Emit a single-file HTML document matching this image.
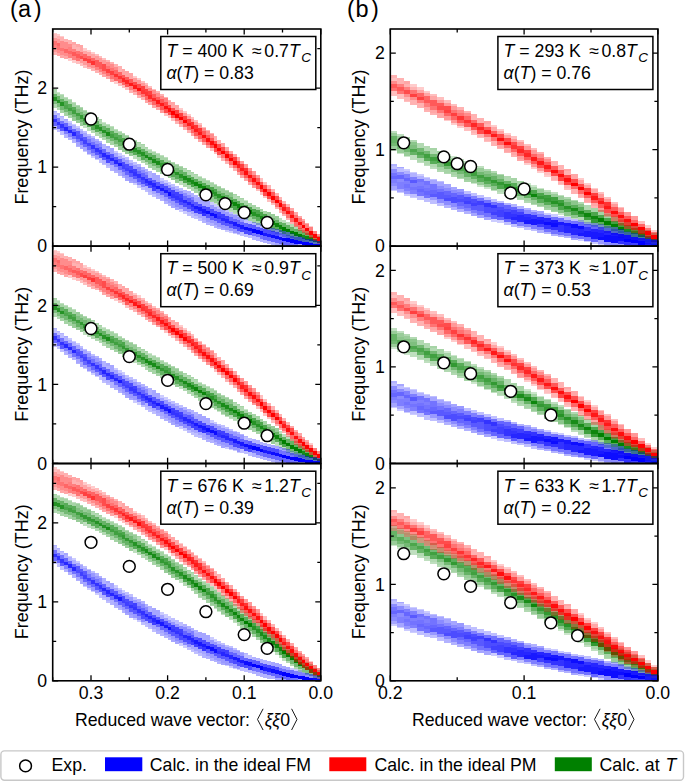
<!DOCTYPE html><html><head><meta charset="utf-8"><style>html,body{margin:0;padding:0;background:#fff;overflow:hidden}svg{display:block}text{font-family:"Liberation Sans",sans-serif}</style></head><body><svg width="685" height="782" viewBox="0 0 685 782"><rect width="685" height="782" fill="#fff"/><filter id="bl" x="-5%" y="-5%" width="110%" height="110%"><feGaussianBlur stdDeviation="0.6"/></filter><clipPath id="ca0"><rect x="52.7" y="29.0" width="268.1" height="217.1"/></clipPath><clipPath id="ca1"><rect x="52.7" y="246.2" width="268.1" height="217.1"/></clipPath><clipPath id="ca2"><rect x="52.7" y="463.7" width="268.1" height="217.1"/></clipPath><clipPath id="cb0"><rect x="390.3" y="29.0" width="267.6" height="217.1"/></clipPath><clipPath id="cb1"><rect x="390.3" y="246.2" width="267.6" height="217.1"/></clipPath><clipPath id="cb2"><rect x="390.3" y="463.7" width="267.6" height="217.1"/></clipPath><g clip-path="url(#ca0)"><g shape-rendering="crispEdges" filter="url(#bl)"><path fill="#008000" fill-opacity="0.2" d="M244 200h4v1h-4zM217 205h4v1h-4zM214 203h3v1h-3zM198 176h4v1h-4zM152 151h4v1h-4zM148 149h4v1h-4zM102 122h4v1h-4zM57 92h3v1h-3z"/><path fill="#008000" fill-opacity="0.25" d="M286 222h4v3h-4zM282 234h4v3h-4zM282 220h4v3h-4zM279 232h3v3h-3zM279 218h3v4h-3zM275 230h4v4h-4zM233 213h4v1h-4zM229 211h4v1h-4zM225 209h4v1h-4zM221 207h4v1h-4zM214 184h3v1h-3zM210 182h4v1h-4zM206 180h4v1h-4zM202 178h4v1h-4zM179 181h4v4h-4zM168 160h3v1h-3zM164 157h4v1h-4zM160 155h4v1h-4zM156 153h4v1h-4zM133 155h4v4h-4zM118 131h4v1h-4zM114 129h4v1h-4zM110 126h4v1h-4zM106 124h4v1h-4zM87 127h4v4h-4zM83 125h4v3h-4zM72 102h4v1h-4zM68 99h4v1h-4zM64 97h4v1h-4zM60 94h4v1h-4z"/><path fill="#008000" fill-opacity="0.3" d="M309 233h4v1h-4zM305 243h4v2h-4zM305 231h4v2h-4zM302 242h3v2h-3zM302 230h3v2h-3zM298 241h4v2h-4zM298 228h4v2h-4zM294 240h4v2h-4zM294 226h4v3h-4zM290 238h4v2h-4zM290 224h4v3h-4zM286 236h4v3h-4zM244 219h4v1h-4zM240 217h4v1h-4zM240 199h4v4h-4zM237 215h3v1h-3zM237 212h3v3h-3zM237 197h3v4h-3zM233 210h4v3h-4zM233 195h4v4h-4zM229 208h4v3h-4zM229 192h4v1h-4zM225 190h4v1h-4zM221 188h4v1h-4zM217 186h4v1h-4zM198 195h4v1h-4zM194 175h4v4h-4zM191 187h3v4h-3zM191 173h3v4h-3zM187 185h4v4h-4zM187 171h4v4h-4zM183 183h4v4h-4zM183 169h4v3h-4zM179 166h4v1h-4zM175 164h4v1h-4zM171 162h4v1h-4zM148 150h4v3h-4zM145 162h3v3h-3zM145 148h3v3h-3zM141 160h4v3h-4zM141 145h4v4h-4zM137 157h4v4h-4zM137 143h4v4h-4zM133 140h4v1h-4zM129 138h4v1h-4zM125 135h4v1h-4zM122 133h3v1h-3zM102 137h4v3h-4zM102 123h4v3h-4zM99 134h3v4h-3zM99 120h3v4h-3zM95 132h4v4h-4zM95 118h4v3h-4zM91 130h4v3h-4zM91 116h4v3h-4zM87 112h4v1h-4zM83 110h4v1h-4zM80 107h3v1h-3zM76 105h4v1h-4zM57 107h3v3h-3zM57 93h3v3h-3zM53 104h4v4h-4zM53 90h4v4h-4z"/><path fill="#008000" fill-opacity="0.35" d="M317 236h4v4h-4zM263 211h4v3h-4zM260 209h3v3h-3zM256 221h4v4h-4zM256 207h4v3h-4zM252 219h4v4h-4zM252 205h4v4h-4zM248 217h4v4h-4zM248 203h4v4h-4zM244 215h4v4h-4zM244 201h4v4h-4zM240 214h4v3h-4zM240 198h4v1h-4zM237 196h3v1h-3zM233 194h4v1h-4zM210 201h4v1h-4zM210 183h4v4h-4zM206 199h4v1h-4zM206 195h4v4h-4zM206 181h4v4h-4zM202 197h4v1h-4zM202 193h4v4h-4zM202 179h4v4h-4zM198 191h4v4h-4zM198 177h4v4h-4zM194 189h4v4h-4zM194 174h4v1h-4zM191 172h3v1h-3zM187 170h4v1h-4zM183 168h4v1h-4zM164 158h4v4h-4zM160 171h4v3h-4zM160 156h4v4h-4zM156 168h4v4h-4zM156 154h4v4h-4zM152 166h4v4h-4zM152 152h4v3h-4zM148 164h4v4h-4zM145 147h3v1h-3zM141 144h4v1h-4zM137 142h4v1h-4zM118 132h4v3h-4zM114 144h4v3h-4zM114 130h4v3h-4zM110 141h4v4h-4zM110 127h4v4h-4zM106 139h4v4h-4zM106 125h4v3h-4zM99 119h3v1h-3zM95 117h4v1h-4zM91 115h4v1h-4zM72 103h4v4h-4zM68 115h4v3h-4zM68 100h4v4h-4zM64 112h4v4h-4zM64 98h4v3h-4zM60 110h4v3h-4zM60 95h4v4h-4zM53 89h4v1h-4z"/><path fill="#008000" fill-opacity="0.4" d="M317 243h4v3h-4zM313 235h4v4h-4zM275 216h4v4h-4zM271 229h4v3h-4zM271 214h4v4h-4zM267 227h4v3h-4zM267 212h4v4h-4zM263 225h4v3h-4zM260 223h3v3h-3zM225 191h4v4h-4zM221 204h4v3h-4zM221 189h4v4h-4zM217 201h4v4h-4zM217 187h4v4h-4zM214 199h3v4h-3zM214 185h3v4h-3zM210 197h4v4h-4zM179 167h4v3h-4zM175 179h4v4h-4zM175 165h4v3h-4zM171 177h4v3h-4zM171 163h4v3h-4zM168 175h3v3h-3zM168 161h3v3h-3zM164 173h4v3h-4zM133 141h4v3h-4zM129 153h4v3h-4zM129 139h4v3h-4zM125 151h4v3h-4zM125 136h4v4h-4zM122 148h3v4h-3zM122 134h3v4h-3zM118 146h4v4h-4zM83 111h4v3h-4zM80 122h3v4h-3zM80 108h3v4h-3zM76 120h4v3h-4zM76 106h4v3h-4zM72 117h4v4h-4z"/><path fill="#008000" fill-opacity="0.45" d="M313 242h4v4h-4zM309 241h4v4h-4zM229 193h4v4h-4zM225 206h4v3h-4zM87 113h4v4h-4z"/><path fill="#008000" fill-opacity="0.5" d="M305 240h4v3h-4zM302 239h3v3h-3zM99 131h3v3h-3zM76 109h4v4h-4zM57 103h3v4h-3zM53 101h4v3h-4z"/><path fill="#008000" fill-opacity="0.55" d="M309 234h4v3h-4zM298 237h4v4h-4zM294 236h4v4h-4zM290 234h4v4h-4zM286 232h4v4h-4zM271 218h4v3h-4zM267 216h4v4h-4zM217 191h4v3h-4zM194 186h4v3h-4zM175 168h4v4h-4zM171 166h4v4h-4zM156 165h4v3h-4zM152 163h4v3h-4zM148 160h4v4h-4zM145 158h3v4h-3zM133 144h4v4h-4zM129 142h4v4h-4zM125 140h4v3h-4zM114 140h4v4h-4zM110 138h4v3h-4zM106 136h4v3h-4zM102 133h4v4h-4zM91 119h4v4h-4zM87 117h4v3h-4zM83 114h4v4h-4zM80 112h3v3h-3zM72 114h4v3h-4zM68 111h4v4h-4zM64 109h4v3h-4zM60 106h4v4h-4z"/><path fill="#008000" fill-opacity="0.6" d="M305 233h4v3h-4zM302 232h3v3h-3zM298 230h4v4h-4zM294 229h4v3h-4zM290 227h4v4h-4zM286 225h4v4h-4zM282 223h4v4h-4zM279 222h3v3h-3zM275 220h4v3h-4zM252 216h4v3h-4zM248 214h4v3h-4zM244 212h4v3h-4zM240 210h4v4h-4zM229 197h4v3h-4zM225 195h4v3h-4zM221 193h4v3h-4zM206 192h4v3h-4zM202 190h4v3h-4zM198 188h4v3h-4zM187 175h4v3h-4zM183 172h4v4h-4zM179 170h4v4h-4zM168 171h3v4h-3zM164 169h4v4h-4zM160 167h4v4h-4zM148 153h4v4h-4zM145 151h3v4h-3zM141 149h4v3h-4zM137 147h4v3h-4zM125 147h4v4h-4zM122 145h3v3h-3zM118 142h4v4h-4zM102 126h4v4h-4zM99 124h3v3h-3zM95 121h4v4h-4zM83 121h4v4h-4zM80 119h3v3h-3zM76 116h4v4h-4zM60 99h4v3h-4zM57 96h3v4h-3zM53 94h4v3h-4z"/><path fill="#008000" fill-opacity="0.65" d="M275 227h4v3h-4zM271 225h4v4h-4zM267 223h4v4h-4zM263 221h4v4h-4zM260 219h3v4h-3zM256 217h4v4h-4zM244 205h4v3h-4zM240 203h4v3h-4zM237 201h3v3h-3zM233 199h4v3h-4zM221 200h4v4h-4zM217 198h4v3h-4zM214 196h3v3h-3zM210 194h4v3h-4zM202 183h4v3h-4zM198 181h4v3h-4zM194 179h4v3h-4zM191 177h3v3h-3zM179 178h4v3h-4zM175 175h4v4h-4zM171 173h4v4h-4zM160 160h4v3h-4zM156 158h4v3h-4zM152 155h4v4h-4zM141 156h4v4h-4zM137 154h4v3h-4zM133 152h4v3h-4zM129 149h4v4h-4zM118 135h4v4h-4zM114 133h4v4h-4zM110 131h4v3h-4zM106 128h4v4h-4zM95 129h4v3h-4zM91 126h4v4h-4zM87 124h4v3h-4zM72 107h4v3h-4zM68 104h4v4h-4zM64 101h4v4h-4z"/><path fill="#008000" fill-opacity="0.7" d="M282 231h4v3h-4zM279 229h3v3h-3zM263 214h4v4h-4zM260 212h3v4h-3zM256 210h4v4h-4zM252 209h4v3h-4zM248 207h4v3h-4zM233 206h4v4h-4zM229 204h4v4h-4zM225 202h4v4h-4zM214 189h3v3h-3zM210 187h4v3h-4zM206 185h4v3h-4zM191 184h3v3h-3zM187 182h4v3h-4zM183 180h4v3h-4zM168 164h3v4h-3zM164 162h4v4h-4zM122 138h3v3h-3zM64 105h4v4h-4z"/><path fill="#008000" fill-opacity="0.75" d="M237 208h3v4h-3zM118 139h4v3h-4zM114 137h4v3h-4zM110 134h4v4h-4zM76 113h4v3h-4zM72 110h4v4h-4zM68 108h4v3h-4z"/><path fill="#008000" fill-opacity="0.8" d="M206 188h4v4h-4zM168 168h3v3h-3zM164 166h4v3h-4zM160 163h4v4h-4zM129 146h4v3h-4zM125 143h4v4h-4zM122 141h3v4h-3zM91 123h4v3h-4zM87 120h4v4h-4zM83 118h4v3h-4zM80 115h3v4h-3z"/><path fill="#008000" fill-opacity="0.85" d="M256 214h4v3h-4zM252 212h4v4h-4zM217 194h4v4h-4zM214 192h3v4h-3zM210 190h4v4h-4zM179 174h4v4h-4zM175 172h4v3h-4zM171 170h4v3h-4zM141 152h4v4h-4zM137 150h4v4h-4zM133 148h4v4h-4zM102 130h4v3h-4zM99 127h3v4h-3zM95 125h4v4h-4zM60 102h4v4h-4zM57 100h3v3h-3zM53 97h4v4h-4z"/><path fill="#008000" fill-opacity="0.9" d="M302 235h3v4h-3zM267 220h4v3h-4zM263 218h4v3h-4zM260 216h3v3h-3zM229 200h4v4h-4zM225 198h4v4h-4zM221 196h4v4h-4zM191 180h3v4h-3zM187 178h4v4h-4zM183 176h4v4h-4zM156 161h4v4h-4zM152 159h4v4h-4zM148 157h4v3h-4zM145 155h3v3h-3zM106 132h4v4h-4z"/><path fill="#008000" fill-opacity="0.95" d="M313 239h4v3h-4zM309 237h4v4h-4zM305 236h4v4h-4zM279 225h3v4h-3zM275 223h4v4h-4zM271 221h4v4h-4zM240 206h4v4h-4zM237 204h3v4h-3zM233 202h4v4h-4zM202 186h4v4h-4zM198 184h4v4h-4zM194 182h4v4h-4z"/><path fill="#008000" fill-opacity="1" d="M317 240h4v3h-4zM298 234h4v3h-4zM294 232h4v4h-4zM290 231h4v3h-4zM286 229h4v3h-4zM282 227h4v4h-4zM248 210h4v4h-4zM244 208h4v4h-4z"/><path fill="#f00" fill-opacity="0.2" d="M309 226h4v1h-4zM187 114h4v2h-4zM183 111h4v2h-4zM179 108h4v2h-4zM137 78h4v2h-4zM133 76h4v2h-4zM114 81h4v3h-4zM91 52h4v2h-4zM87 50h4v2h-4zM83 48h4v3h-4zM72 60h4v3h-4zM68 58h4v3h-4zM60 36h4v1h-4zM57 34h3v2h-3zM53 33h4v1h-4z"/><path fill="#f00" fill-opacity="0.25" d="M271 203h4v2h-4zM267 199h4v3h-4zM263 196h4v2h-4zM263 182h4v3h-4zM260 192h3v3h-3zM260 178h3v4h-3zM256 189h4v2h-4zM217 155h4v3h-4zM214 152h3v2h-3zM210 148h4v3h-4zM202 127h4v1h-4zM198 123h4v2h-4zM194 120h4v2h-4zM191 117h3v2h-3zM171 118h4v3h-4zM168 115h3v3h-3zM164 113h4v3h-4zM152 89h4v1h-4zM148 86h4v2h-4zM145 83h3v2h-3zM141 81h4v2h-4zM125 87h4v3h-4zM122 85h3v3h-3zM118 83h4v3h-4zM102 58h4v2h-4zM99 56h3v2h-3zM95 54h4v2h-4zM83 65h4v3h-4zM80 63h3v3h-3zM76 61h4v3h-4zM53 34h4v4h-4z"/><path fill="#f00" fill-opacity="0.3" d="M317 241h4v3h-4zM290 222h4v2h-4zM286 218h4v2h-4zM286 204h4v3h-4zM282 214h4v2h-4zM282 201h4v3h-4zM279 210h3v3h-3zM279 197h3v3h-3zM275 207h4v2h-4zM275 193h4v3h-4zM271 189h4v3h-4zM267 185h4v4h-4zM233 168h4v3h-4zM229 165h4v3h-4zM225 161h4v3h-4zM221 158h4v3h-4zM217 141h4v3h-4zM217 140h4v1h-4zM214 137h3v4h-3zM214 136h3v1h-3zM210 133h4v1h-4zM206 130h4v1h-4zM187 130h4v3h-4zM183 127h4v3h-4zM179 124h4v3h-4zM175 121h4v3h-4zM168 100h3v1h-3zM164 97h4v1h-4zM160 94h4v2h-4zM156 91h4v2h-4zM141 97h4v3h-4zM137 95h4v3h-4zM133 92h4v3h-4zM129 90h4v3h-4zM118 69h4v3h-4zM118 66h4v3h-4zM114 64h4v3h-4zM110 62h4v2h-4zM106 60h4v2h-4zM99 72h3v3h-3zM95 70h4v3h-4zM91 68h4v3h-4zM87 67h4v2h-4zM76 47h4v4h-4zM72 45h4v4h-4zM68 40h4v4h-4zM64 39h4v3h-4zM60 37h4v4h-4zM57 36h3v3h-3zM53 52h4v3h-4z"/><path fill="#f00" fill-opacity="0.35" d="M305 223h4v1h-4zM302 232h3v1h-3zM302 219h3v2h-3zM298 229h4v2h-4zM298 216h4v2h-4zM294 226h4v1h-4zM294 212h4v3h-4zM290 208h4v3h-4zM248 182h4v3h-4zM244 178h4v3h-4zM240 175h4v3h-4zM237 172h3v3h-3zM237 157h3v4h-3zM233 154h4v3h-4zM229 151h4v3h-4zM225 147h4v4h-4zM221 144h4v3h-4zM221 143h4v1h-4zM202 142h4v3h-4zM198 139h4v3h-4zM194 136h4v3h-4zM191 133h3v3h-3zM179 110h4v3h-4zM175 107h4v3h-4zM175 105h4v2h-4zM171 104h4v4h-4zM171 102h4v2h-4zM168 101h3v4h-3zM156 107h4v3h-4zM152 105h4v3h-4zM148 102h4v3h-4zM145 100h3v3h-3zM129 76h4v3h-4zM129 73h4v3h-4zM125 73h4v4h-4zM125 71h4v2h-4zM122 71h3v4h-3zM122 69h3v2h-3zM110 79h4v3h-4zM106 76h4v3h-4zM102 74h4v3h-4zM91 54h4v4h-4zM87 52h4v4h-4zM83 51h4v3h-4zM80 49h3v3h-3zM80 45h3v4h-3zM76 44h4v3h-4zM72 42h4v3h-4zM64 56h4v3h-4zM60 55h4v3h-4zM57 53h3v3h-3z"/><path fill="#f00" fill-opacity="0.4" d="M256 175h4v3h-4zM252 185h4v3h-4zM252 171h4v4h-4zM248 168h4v3h-4zM244 164h4v4h-4zM240 161h4v3h-4zM206 145h4v3h-4zM198 125h4v3h-4zM194 122h4v3h-4zM191 119h3v3h-3zM187 116h4v3h-4zM183 113h4v3h-4zM160 110h4v3h-4zM145 85h3v4h-3zM141 83h4v3h-4zM137 80h4v4h-4zM133 78h4v4h-4zM102 60h4v4h-4zM99 58h3v4h-3zM95 56h4v4h-4zM83 61h4v4h-4zM80 59h3v4h-3zM57 39h3v4h-3zM53 48h4v4h-4zM53 38h4v3h-4z"/><path fill="#f00" fill-opacity="0.45" d="M317 234h4v3h-4zM210 134h4v4h-4zM206 131h4v4h-4zM202 128h4v3h-4zM160 96h4v3h-4zM156 93h4v4h-4zM152 90h4v4h-4zM148 88h4v3h-4zM114 67h4v3h-4zM110 64h4v4h-4zM106 62h4v4h-4zM91 65h4v3h-4zM87 63h4v4h-4zM68 44h4v3h-4zM64 53h4v3h-4zM64 46h4v3h-4zM64 42h4v4h-4zM60 51h4v4h-4zM60 44h4v4h-4zM60 41h4v3h-4zM57 50h3v3h-3z"/><path fill="#f00" fill-opacity="0.5" d="M313 238h4v3h-4zM313 231h4v3h-4zM309 235h4v3h-4zM309 227h4v4h-4zM305 224h4v4h-4zM164 98h4v4h-4zM133 89h4v3h-4zM129 86h4v4h-4zM102 71h4v3h-4zM99 69h3v3h-3zM95 67h4v3h-4zM72 56h4v4h-4zM72 49h4v3h-4zM68 54h4v4h-4zM68 47h4v4h-4zM53 45h4v3h-4z"/><path fill="#f00" fill-opacity="0.55" d="M305 231h4v4h-4zM302 228h3v4h-3zM302 221h3v4h-3zM298 218h4v4h-4zM294 215h4v3h-4zM286 214h4v4h-4zM282 211h4v3h-4zM279 207h3v3h-3zM275 203h4v4h-4zM271 200h4v3h-4zM221 154h4v4h-4zM179 120h4v4h-4zM175 118h4v3h-4zM141 94h4v3h-4zM137 91h4v4h-4zM110 75h4v4h-4zM110 68h4v3h-4zM106 73h4v3h-4zM106 66h4v3h-4zM80 52h3v4h-3zM76 58h4v3h-4zM76 51h4v3h-4zM60 48h4v3h-4zM57 46h3v4h-3zM53 41h4v4h-4z"/><path fill="#f00" fill-opacity="0.6" d="M298 225h4v4h-4zM294 222h4v4h-4zM290 218h4v4h-4zM248 171h4v4h-4zM237 168h3v4h-3zM233 165h4v3h-4zM229 161h4v4h-4zM225 158h4v3h-4zM191 129h3v4h-3zM187 126h4v4h-4zM183 123h4v4h-4zM152 101h4v4h-4zM148 99h4v3h-4zM145 96h3v4h-3zM122 82h3v3h-3zM118 79h4v4h-4zM118 72h4v4h-4zM114 77h4v4h-4zM114 70h4v4h-4zM91 58h4v3h-4zM87 56h4v3h-4zM83 54h4v4h-4zM68 51h4v3h-4zM64 49h4v4h-4zM57 43h3v3h-3z"/><path fill="#f00" fill-opacity="0.65" d="M271 192h4v4h-4zM267 189h4v3h-4zM263 185h4v4h-4zM260 182h3v3h-3zM256 185h4v4h-4zM256 178h4v4h-4zM252 182h4v3h-4zM252 175h4v3h-4zM248 178h4v4h-4zM244 175h4v3h-4zM240 171h4v4h-4zM210 138h4v3h-4zM206 142h4v3h-4zM206 135h4v3h-4zM202 138h4v4h-4zM202 131h4v4h-4zM198 135h4v4h-4zM194 132h4v4h-4zM160 106h4v4h-4zM160 99h4v4h-4zM156 104h4v3h-4zM156 97h4v3h-4zM152 94h4v4h-4zM129 79h4v4h-4zM125 84h4v3h-4zM125 77h4v3h-4zM122 75h3v3h-3zM99 65h3v4h-3zM99 62h3v3h-3zM95 63h4v4h-4zM95 60h4v3h-4zM76 54h4v4h-4zM72 52h4v4h-4z"/><path fill="#f00" fill-opacity="0.7" d="M290 211h4v4h-4zM286 207h4v4h-4zM282 204h4v3h-4zM279 200h3v3h-3zM275 196h4v4h-4zM267 196h4v3h-4zM263 192h4v4h-4zM260 189h3v3h-3zM225 151h4v3h-4zM221 147h4v4h-4zM217 151h4v4h-4zM217 144h4v4h-4zM214 148h3v4h-3zM214 141h3v3h-3zM210 145h4v3h-4zM171 115h4v3h-4zM171 108h4v3h-4zM168 112h3v3h-3zM168 105h3v3h-3zM164 109h4v4h-4zM164 102h4v4h-4zM137 84h4v4h-4zM133 82h4v3h-4zM102 67h4v4h-4zM102 64h4v3h-4zM80 56h3v3h-3z"/><path fill="#f00" fill-opacity="0.75" d="M240 164h4v4h-4zM237 161h3v3h-3zM233 157h4v4h-4zM229 154h4v4h-4zM187 119h4v4h-4zM183 116h4v4h-4zM179 113h4v4h-4zM175 110h4v4h-4zM148 91h4v4h-4zM145 89h3v3h-3zM141 86h4v4h-4zM110 71h4v4h-4zM106 69h4v4h-4zM87 59h4v4h-4zM83 58h4v3h-4z"/><path fill="#f00" fill-opacity="0.8" d="M244 168h4v3h-4zM198 128h4v4h-4zM194 125h4v4h-4zM191 122h3v4h-3zM145 92h3v4h-3zM141 90h4v4h-4zM118 76h4v3h-4zM114 74h4v3h-4zM91 61h4v4h-4z"/><path fill="#f00" fill-opacity="0.85" d="M152 98h4v3h-4zM148 95h4v4h-4zM125 80h4v4h-4zM122 78h3v4h-3z"/><path fill="#f00" fill-opacity="0.9" d="M282 207h4v4h-4zM240 168h4v3h-4zM237 164h3v4h-3zM198 132h4v3h-4zM194 129h4v3h-4zM191 126h3v3h-3zM187 123h4v3h-4zM160 103h4v3h-4zM156 100h4v4h-4zM133 85h4v4h-4zM129 83h4v3h-4z"/><path fill="#f00" fill-opacity="0.95" d="M298 222h4v3h-4zM294 218h4v4h-4zM290 215h4v3h-4zM286 211h4v3h-4zM256 182h4v3h-4zM252 178h4v4h-4zM248 175h4v3h-4zM244 171h4v4h-4zM210 141h4v4h-4zM206 138h4v4h-4zM202 135h4v3h-4zM168 108h3v4h-3zM164 106h4v3h-4zM137 88h4v3h-4z"/><path fill="#f00" fill-opacity="1" d="M317 237h4v4h-4zM313 234h4v4h-4zM309 231h4v4h-4zM305 228h4v3h-4zM302 225h3v3h-3zM279 203h3v4h-3zM275 200h4v3h-4zM271 196h4v4h-4zM267 192h4v4h-4zM263 189h4v3h-4zM260 185h3v4h-3zM233 161h4v4h-4zM229 158h4v3h-4zM225 154h4v4h-4zM221 151h4v3h-4zM217 148h4v3h-4zM214 144h3v4h-3zM183 120h4v3h-4zM179 117h4v3h-4zM175 114h4v4h-4zM171 111h4v4h-4z"/><path fill="#00f" fill-opacity="0.2" d="M302 237h3v1h-3zM298 236h4v1h-4zM294 235h4v2h-4zM290 233h4v3h-4zM237 234h3v1h-3zM233 233h4v1h-4zM229 231h4v2h-4zM225 230h4v2h-4zM214 204h3v3h-3zM210 202h4v3h-4zM183 211h4v3h-4zM179 209h4v3h-4zM168 182h3v3h-3zM164 180h4v3h-4zM160 178h4v3h-4zM137 185h4v3h-4zM133 183h4v2h-4zM122 155h3v3h-3zM118 153h4v3h-4zM114 151h4v2h-4zM95 159h4v1h-4zM91 156h4v2h-4zM87 154h4v1h-4zM83 151h4v1h-4zM76 126h4v2h-4zM72 124h4v1h-4zM68 121h4v2h-4z"/><path fill="#00f" fill-opacity="0.25" d="M248 235h4v3h-4zM248 221h4v3h-4zM244 234h4v3h-4zM244 219h4v4h-4zM240 232h4v4h-4zM233 214h4v1h-4zM229 212h4v2h-4zM225 210h4v2h-4zM221 208h4v2h-4zM217 206h4v3h-4zM198 218h4v3h-4zM194 216h4v3h-4zM191 214h3v4h-3zM187 212h4v4h-4zM179 188h4v3h-4zM175 186h4v3h-4zM171 184h4v3h-4zM152 194h4v3h-4zM148 192h4v3h-4zM145 190h3v2h-3zM141 187h4v3h-4zM133 162h4v3h-4zM129 160h4v3h-4zM125 157h4v3h-4zM106 166h4v2h-4zM102 164h4v1h-4zM99 161h3v2h-3zM99 158h3v3h-3zM91 136h4v2h-4zM87 134h4v2h-4zM83 131h4v2h-4zM80 129h3v2h-3zM60 131h4v4h-4zM60 117h4v4h-4zM57 129h3v3h-3zM57 115h3v3h-3zM53 126h4v4h-4zM53 112h4v3h-4z"/><path fill="#00f" fill-opacity="0.3" d="M271 242h4v3h-4zM267 241h4v3h-4zM267 227h4v3h-4zM263 240h4v3h-4zM263 225h4v4h-4zM260 239h3v3h-3zM260 224h3v4h-3zM256 237h4v4h-4zM256 223h4v4h-4zM252 236h4v4h-4zM252 222h4v3h-4zM244 218h4v1h-4zM240 217h4v1h-4zM237 215h3v2h-3zM217 227h4v2h-4zM214 225h3v3h-3zM210 223h4v3h-4zM206 222h4v3h-4zM202 220h4v3h-4zM194 195h4v3h-4zM191 193h3v4h-3zM187 191h4v4h-4zM183 190h4v3h-4zM168 203h3v3h-3zM164 201h4v3h-4zM160 198h4v3h-4zM156 196h4v3h-4zM148 188h4v4h-4zM148 174h4v4h-4zM148 171h4v3h-4zM145 186h3v4h-3zM145 169h3v3h-3zM141 167h4v3h-4zM137 164h4v3h-4zM122 176h3v2h-3zM118 173h4v3h-4zM114 171h4v2h-4zM110 169h4v2h-4zM110 165h4v4h-4zM106 163h4v3h-4zM106 148h4v4h-4zM102 160h4v4h-4zM102 146h4v3h-4zM102 144h4v2h-4zM99 141h3v2h-3zM95 139h4v2h-4zM76 146h4v1h-4zM72 139h4v4h-4zM72 125h4v4h-4zM68 137h4v3h-4zM68 123h4v3h-4zM64 134h4v4h-4zM64 120h4v3h-4zM60 116h4v1h-4zM57 113h3v2h-3zM53 111h4v1h-4z"/><path fill="#00f" fill-opacity="0.35" d="M302 245h3v1h-3zM298 244h4v2h-4zM286 232h4v3h-4zM282 245h4v1h-4zM282 231h4v3h-4zM279 244h3v2h-3zM279 230h3v3h-3zM275 243h4v3h-4zM275 229h4v3h-4zM271 228h4v3h-4zM221 228h4v2h-4zM206 204h4v3h-4zM206 201h4v3h-4zM202 216h4v4h-4zM202 202h4v4h-4zM202 199h4v3h-4zM198 214h4v4h-4zM198 200h4v4h-4zM198 197h4v3h-4zM194 213h4v3h-4zM194 198h4v4h-4zM191 211h3v3h-3zM175 207h4v3h-4zM171 205h4v3h-4zM160 195h4v3h-4zM160 181h4v3h-4zM156 193h4v3h-4zM156 179h4v3h-4zM156 175h4v4h-4zM152 191h4v3h-4zM152 176h4v4h-4zM152 173h4v3h-4zM129 181h4v2h-4zM125 178h4v3h-4zM118 170h4v3h-4zM118 156h4v3h-4zM114 167h4v4h-4zM114 153h4v4h-4zM110 151h4v3h-4zM110 148h4v3h-4zM106 146h4v2h-4zM83 147h4v4h-4zM83 133h4v4h-4zM80 148h3v1h-3zM80 145h3v3h-3zM80 131h3v3h-3zM76 142h4v4h-4zM76 128h4v3h-4zM64 119h4v1h-4z"/><path fill="#00f" fill-opacity="0.4" d="M317 241h4v3h-4zM313 240h4v4h-4zM240 218h4v4h-4zM237 231h3v3h-3zM237 217h3v3h-3zM233 229h4v4h-4zM233 215h4v4h-4zM229 228h4v3h-4zM229 214h4v3h-4zM225 226h4v4h-4zM225 212h4v4h-4zM221 225h4v3h-4zM221 210h4v4h-4zM217 223h4v4h-4zM217 209h4v3h-4zM214 221h3v4h-3zM214 207h3v4h-3zM210 220h4v3h-4zM210 205h4v4h-4zM206 218h4v4h-4zM175 189h4v3h-4zM171 201h4v4h-4zM171 187h4v3h-4zM168 199h3v4h-3zM168 185h3v3h-3zM164 197h4v4h-4zM164 183h4v3h-4zM133 179h4v4h-4zM133 165h4v4h-4zM129 177h4v4h-4zM129 163h4v3h-4zM125 175h4v3h-4zM125 160h4v4h-4zM122 172h3v4h-3zM122 158h3v4h-3zM95 155h4v4h-4zM95 141h4v3h-4zM91 153h4v3h-4zM91 138h4v4h-4zM87 150h4v4h-4zM87 136h4v3h-4z"/><path fill="#00f" fill-opacity="0.45" d="M309 239h4v4h-4zM305 239h4v3h-4zM187 209h4v3h-4zM187 195h4v3h-4zM183 207h4v4h-4zM183 193h4v3h-4zM179 205h4v4h-4zM179 191h4v3h-4zM175 203h4v4h-4zM145 172h3v3h-3zM141 184h4v3h-4zM141 170h4v3h-4zM137 182h4v3h-4zM137 167h4v4h-4zM99 143h3v4h-3z"/><path fill="#00f" fill-opacity="0.5" d="M302 238h3v4h-3zM298 237h4v4h-4zM294 237h4v3h-4zM191 197h3v3h-3zM68 133h4v4h-4zM64 131h4v3h-4z"/><path fill="#00f" fill-opacity="0.55" d="M294 244h4v2h-4zM290 243h4v3h-4zM290 236h4v3h-4zM286 235h4v3h-4zM282 234h4v4h-4zM279 233h3v4h-3zM260 235h3v4h-3zM256 234h4v3h-4zM252 233h4v3h-4zM114 164h4v3h-4zM110 161h4v4h-4zM95 144h4v4h-4zM91 142h4v3h-4zM87 139h4v4h-4zM80 141h3v4h-3zM76 139h4v3h-4zM72 136h4v3h-4zM60 121h4v3h-4zM57 118h3v4h-3zM53 115h4v4h-4z"/><path fill="#00f" fill-opacity="0.6" d="M286 242h4v4h-4zM282 241h4v4h-4zM279 240h3v4h-3zM275 239h4v4h-4zM271 238h4v4h-4zM267 237h4v4h-4zM263 236h4v4h-4zM244 223h4v4h-4zM240 222h4v3h-4zM237 220h3v4h-3zM233 219h4v3h-4zM229 217h4v4h-4zM183 196h4v4h-4zM164 193h4v4h-4zM160 191h4v4h-4zM156 189h4v4h-4zM145 175h3v4h-3zM141 173h4v4h-4zM137 171h4v3h-4zM125 171h4v4h-4zM122 169h3v3h-3zM118 166h4v4h-4zM106 152h4v3h-4zM102 149h4v4h-4zM99 147h3v3h-3zM91 149h4v4h-4zM87 146h4v4h-4zM83 144h4v3h-4zM72 129h4v3h-4zM68 126h4v4h-4zM64 123h4v4h-4zM57 125h3v4h-3zM53 122h4v4h-4z"/><path fill="#00f" fill-opacity="0.65" d="M260 228h3v3h-3zM256 227h4v3h-4zM252 225h4v4h-4zM248 224h4v4h-4zM229 224h4v4h-4zM225 223h4v3h-4zM221 221h4v4h-4zM217 219h4v4h-4zM214 218h3v3h-3zM210 216h4v4h-4zM206 214h4v4h-4zM194 202h4v4h-4zM191 200h3v4h-3zM187 198h4v4h-4zM175 200h4v3h-4zM171 198h4v3h-4zM168 196h3v3h-3zM156 182h4v4h-4zM152 180h4v3h-4zM148 178h4v3h-4zM137 178h4v4h-4zM133 176h4v3h-4zM129 173h4v4h-4zM118 159h4v4h-4zM114 157h4v3h-4zM110 154h4v4h-4zM102 157h4v3h-4zM99 154h3v4h-3zM95 152h4v3h-4zM83 137h4v3h-4zM80 134h3v4h-3zM76 131h4v4h-4zM60 128h4v3h-4z"/><path fill="#00f" fill-opacity="0.7" d="M275 232h4v4h-4zM271 231h4v4h-4zM267 230h4v4h-4zM263 229h4v4h-4zM248 231h4v4h-4zM244 230h4v4h-4zM240 229h4v3h-4zM237 227h3v4h-3zM233 226h4v3h-4zM214 211h3v3h-3zM210 209h4v4h-4zM206 207h4v4h-4zM202 206h4v3h-4zM198 204h4v3h-4zM187 205h4v4h-4zM183 203h4v4h-4zM179 202h4v3h-4zM168 188h3v4h-3zM164 186h4v4h-4zM160 184h4v4h-4zM148 185h4v3h-4zM145 183h3v3h-3zM141 180h4v4h-4zM129 166h4v4h-4zM125 164h4v4h-4zM122 162h3v3h-3zM106 159h4v4h-4zM76 135h4v4h-4z"/><path fill="#00f" fill-opacity="0.75" d="M225 216h4v3h-4zM221 214h4v4h-4zM217 212h4v4h-4zM198 211h4v3h-4zM194 209h4v4h-4zM191 207h3v4h-3zM179 194h4v4h-4zM175 192h4v4h-4zM171 190h4v4h-4zM152 187h4v4h-4zM133 169h4v3h-4zM125 168h4v3h-4zM122 165h3v4h-3zM87 143h4v3h-4zM83 140h4v4h-4zM80 138h3v3h-3z"/><path fill="#00f" fill-opacity="0.8" d="M217 216h4v3h-4zM202 213h4v3h-4zM179 198h4v4h-4zM175 196h4v4h-4zM171 194h4v4h-4zM141 177h4v3h-4zM137 174h4v4h-4zM133 172h4v4h-4zM129 170h4v3h-4zM99 150h3v4h-3zM95 148h4v4h-4zM91 145h4v4h-4zM60 124h4v4h-4zM57 122h3v3h-3zM53 119h4v3h-4z"/><path fill="#00f" fill-opacity="0.85" d="M229 221h4v3h-4zM225 219h4v4h-4zM221 218h4v3h-4zM191 204h3v3h-3zM187 202h4v3h-4zM183 200h4v3h-4zM152 183h4v4h-4zM148 181h4v4h-4zM145 179h3v4h-3zM114 160h4v4h-4zM110 158h4v3h-4zM106 155h4v4h-4zM102 153h4v4h-4zM72 132h4v4h-4zM68 130h4v3h-4zM64 127h4v4h-4z"/><path fill="#00f" fill-opacity="0.9" d="M267 234h4v3h-4zM263 233h4v3h-4zM240 225h4v4h-4zM237 224h3v3h-3zM233 222h4v4h-4zM202 209h4v4h-4zM198 207h4v4h-4zM194 206h4v3h-4zM164 190h4v3h-4zM160 188h4v3h-4zM156 186h4v3h-4zM118 163h4v3h-4z"/><path fill="#00f" fill-opacity="0.95" d="M317 244h4v2h-4zM313 244h4v2h-4zM279 237h3v3h-3zM275 236h4v3h-4zM271 235h4v3h-4zM248 228h4v3h-4zM244 227h4v3h-4zM214 214h3v4h-3zM210 213h4v3h-4zM206 211h4v3h-4zM168 192h3v4h-3z"/><path fill="#00f" fill-opacity="1" d="M309 243h4v3h-4zM305 242h4v4h-4zM302 242h3v3h-3zM298 241h4v3h-4zM294 240h4v4h-4zM290 239h4v4h-4zM286 238h4v4h-4zM282 238h4v3h-4zM260 231h3v4h-3zM256 230h4v4h-4zM252 229h4v4h-4z"/></g></g><circle cx="91.0" cy="119.0" r="5.9" fill="#fff" stroke="#000" stroke-width="1.5"/><circle cx="129.3" cy="144.2" r="5.9" fill="#fff" stroke="#000" stroke-width="1.5"/><circle cx="167.6" cy="169.5" r="5.9" fill="#fff" stroke="#000" stroke-width="1.5"/><circle cx="205.9" cy="194.8" r="5.9" fill="#fff" stroke="#000" stroke-width="1.5"/><circle cx="225.1" cy="203.6" r="5.9" fill="#fff" stroke="#000" stroke-width="1.5"/><circle cx="244.2" cy="212.5" r="5.9" fill="#fff" stroke="#000" stroke-width="1.5"/><circle cx="267.2" cy="222.5" r="5.9" fill="#fff" stroke="#000" stroke-width="1.5"/><g clip-path="url(#ca1)"><g shape-rendering="crispEdges" filter="url(#bl)"><path fill="#008000" fill-opacity="0.2" d="M244 409h4v1h-4zM217 411h4v1h-4zM214 409h3v1h-3zM198 382h4v1h-4zM152 355h4v1h-4zM148 353h4v1h-4zM102 327h4v1h-4zM57 300h3v1h-3z"/><path fill="#008000" fill-opacity="0.25" d="M286 436h4v3h-4zM282 447h4v3h-4zM282 434h4v3h-4zM279 445h3v3h-3zM279 431h3v3h-3zM275 442h4v4h-4zM233 420h4v1h-4zM229 418h4v1h-4zM225 416h4v1h-4zM221 414h4v1h-4zM214 390h3v1h-3zM210 388h4v1h-4zM206 386h4v1h-4zM202 384h4v1h-4zM179 386h4v3h-4zM168 364h3v1h-3zM164 362h4v1h-4zM160 360h4v1h-4zM156 357h4v1h-4zM133 360h4v3h-4zM118 336h4v1h-4zM114 333h4v1h-4zM110 331h4v1h-4zM106 329h4v1h-4zM87 333h4v4h-4zM83 331h4v4h-4zM72 309h4v1h-4zM68 307h4v1h-4zM64 305h4v1h-4zM60 303h4v1h-4z"/><path fill="#008000" fill-opacity="0.3" d="M309 450h4v1h-4zM305 460h4v1h-4zM305 448h4v2h-4zM302 458h3v2h-3zM302 446h3v2h-3zM298 457h4v2h-4zM298 444h4v2h-4zM294 454h4v3h-4zM294 441h4v3h-4zM290 452h4v3h-4zM290 439h4v2h-4zM286 450h4v3h-4zM244 427h4v1h-4zM240 425h4v1h-4zM240 407h4v4h-4zM237 423h3v1h-3zM237 419h3v4h-3zM237 405h3v4h-3zM233 417h4v3h-4zM233 403h4v3h-4zM229 415h4v3h-4zM229 399h4v1h-4zM225 397h4v1h-4zM221 395h4v1h-4zM217 393h4v1h-4zM198 400h4v1h-4zM194 380h4v4h-4zM191 392h3v4h-3zM191 378h3v4h-3zM187 390h4v4h-4zM187 376h4v3h-4zM183 388h4v3h-4zM183 374h4v3h-4zM179 371h4v1h-4zM175 368h4v1h-4zM171 366h4v1h-4zM148 354h4v4h-4zM145 366h3v4h-3zM145 352h3v3h-3zM141 364h4v3h-4zM141 350h4v3h-4zM137 362h4v3h-4zM137 348h4v3h-4zM133 344h4v1h-4zM129 342h4v1h-4zM125 340h4v1h-4zM122 338h3v1h-3zM102 342h4v4h-4zM102 328h4v3h-4zM99 340h3v3h-3zM99 326h3v3h-3zM95 338h4v3h-4zM95 324h4v3h-4zM91 336h4v3h-4zM91 321h4v4h-4zM87 318h4v1h-4zM83 316h4v1h-4zM80 314h3v1h-3zM57 316h3v3h-3zM57 301h3v4h-3zM53 313h4v4h-4zM53 299h4v4h-4z"/><path fill="#008000" fill-opacity="0.35" d="M317 455h4v4h-4zM263 421h4v4h-4zM260 419h3v3h-3zM256 431h4v3h-4zM256 416h4v4h-4zM252 428h4v4h-4zM252 414h4v4h-4zM248 426h4v4h-4zM248 412h4v3h-4zM244 424h4v3h-4zM244 410h4v3h-4zM240 421h4v4h-4zM240 406h4v1h-4zM237 404h3v1h-3zM233 402h4v1h-4zM210 407h4v1h-4zM210 389h4v4h-4zM206 405h4v1h-4zM206 401h4v4h-4zM206 387h4v4h-4zM202 399h4v4h-4zM202 385h4v3h-4zM198 397h4v3h-4zM198 383h4v3h-4zM194 395h4v3h-4zM194 379h4v1h-4zM191 377h3v1h-3zM187 375h4v1h-4zM183 373h4v1h-4zM164 363h4v3h-4zM160 375h4v3h-4zM160 361h4v3h-4zM156 373h4v3h-4zM156 358h4v4h-4zM152 370h4v4h-4zM152 356h4v4h-4zM148 368h4v4h-4zM145 351h3v1h-3zM141 349h4v1h-4zM137 347h4v1h-4zM118 337h4v3h-4zM114 349h4v3h-4zM114 334h4v4h-4zM110 346h4v4h-4zM110 332h4v4h-4zM106 344h4v4h-4zM106 330h4v4h-4zM99 325h3v1h-3zM95 323h4v1h-4zM91 320h4v1h-4zM72 310h4v4h-4zM68 322h4v4h-4zM68 308h4v4h-4zM64 320h4v4h-4zM64 306h4v3h-4zM60 318h4v3h-4zM60 304h4v3h-4zM53 298h4v1h-4z"/><path fill="#008000" fill-opacity="0.4" d="M317 462h4v1h-4zM313 453h4v4h-4zM275 428h4v4h-4zM271 440h4v4h-4zM271 426h4v3h-4zM267 438h4v3h-4zM267 424h4v3h-4zM263 435h4v4h-4zM260 433h3v4h-3zM225 398h4v4h-4zM221 410h4v4h-4zM221 396h4v3h-4zM217 408h4v3h-4zM217 394h4v3h-4zM214 406h3v3h-3zM214 391h3v4h-3zM210 403h4v4h-4zM179 372h4v3h-4zM175 384h4v3h-4zM175 369h4v4h-4zM171 381h4v4h-4zM171 367h4v4h-4zM168 379h3v4h-3zM168 365h3v3h-3zM164 377h4v4h-4zM133 345h4v4h-4zM129 357h4v4h-4zM129 343h4v4h-4zM125 355h4v4h-4zM125 341h4v4h-4zM122 353h3v4h-3zM122 339h3v3h-3zM118 351h4v3h-4zM83 317h4v3h-4zM80 329h3v3h-3zM80 315h3v3h-3zM76 327h4v3h-4zM76 312h4v4h-4zM72 324h4v4h-4z"/><path fill="#008000" fill-opacity="0.45" d="M313 460h4v3h-4zM309 458h4v4h-4zM229 400h4v4h-4zM225 412h4v4h-4zM87 319h4v4h-4z"/><path fill="#008000" fill-opacity="0.5" d="M305 457h4v3h-4zM302 455h3v3h-3zM99 336h3v4h-3zM76 316h4v4h-4zM57 312h3v4h-3zM53 310h4v3h-4z"/><path fill="#008000" fill-opacity="0.55" d="M309 451h4v4h-4zM298 453h4v4h-4zM294 451h4v3h-4zM290 449h4v3h-4zM286 446h4v4h-4zM271 429h4v4h-4zM267 427h4v4h-4zM217 397h4v4h-4zM194 391h4v4h-4zM175 373h4v3h-4zM171 371h4v3h-4zM156 369h4v4h-4zM152 367h4v3h-4zM148 365h4v3h-4zM145 363h3v3h-3zM133 349h4v3h-4zM129 347h4v3h-4zM125 345h4v3h-4zM114 345h4v4h-4zM110 343h4v3h-4zM106 341h4v3h-4zM102 339h4v3h-4zM91 325h4v3h-4zM87 323h4v3h-4zM83 320h4v4h-4zM80 318h3v4h-3zM72 321h4v3h-4zM68 319h4v3h-4zM64 316h4v4h-4zM60 314h4v4h-4z"/><path fill="#008000" fill-opacity="0.6" d="M305 450h4v3h-4zM302 448h3v3h-3zM298 446h4v3h-4zM294 444h4v3h-4zM290 441h4v4h-4zM286 439h4v4h-4zM282 437h4v3h-4zM279 434h3v4h-3zM275 432h4v3h-4zM252 425h4v3h-4zM248 423h4v3h-4zM244 420h4v4h-4zM240 418h4v3h-4zM229 404h4v4h-4zM225 402h4v3h-4zM221 399h4v4h-4zM206 398h4v3h-4zM202 395h4v4h-4zM198 393h4v4h-4zM187 379h4v4h-4zM183 377h4v4h-4zM179 375h4v4h-4zM168 376h3v3h-3zM164 373h4v4h-4zM160 371h4v4h-4zM148 358h4v3h-4zM145 355h3v4h-3zM141 353h4v4h-4zM137 351h4v4h-4zM125 352h4v3h-4zM122 349h3v4h-3zM118 347h4v4h-4zM102 331h4v4h-4zM99 329h3v4h-3zM95 327h4v4h-4zM83 328h4v3h-4zM80 325h3v4h-3zM76 323h4v4h-4zM60 307h4v4h-4zM57 305h3v3h-3zM53 303h4v3h-4z"/><path fill="#008000" fill-opacity="0.65" d="M275 439h4v3h-4zM271 437h4v3h-4zM267 434h4v4h-4zM263 432h4v3h-4zM260 429h3v4h-3zM256 427h4v4h-4zM244 413h4v4h-4zM240 411h4v3h-4zM237 409h3v3h-3zM233 406h4v4h-4zM221 407h4v3h-4zM217 404h4v4h-4zM214 402h3v4h-3zM210 400h4v3h-4zM202 388h4v4h-4zM198 386h4v4h-4zM194 384h4v3h-4zM191 382h3v3h-3zM179 382h4v4h-4zM175 380h4v4h-4zM171 378h4v3h-4zM160 364h4v4h-4zM156 362h4v4h-4zM152 360h4v3h-4zM141 360h4v4h-4zM137 358h4v4h-4zM133 356h4v4h-4zM129 354h4v3h-4zM118 340h4v4h-4zM114 338h4v4h-4zM110 336h4v3h-4zM106 334h4v3h-4zM95 334h4v4h-4zM91 332h4v4h-4zM87 330h4v3h-4zM72 314h4v3h-4zM68 312h4v3h-4zM64 309h4v4h-4z"/><path fill="#008000" fill-opacity="0.7" d="M282 444h4v3h-4zM279 441h3v4h-3zM263 425h4v3h-4zM260 422h3v4h-3zM256 420h4v4h-4zM252 418h4v3h-4zM248 415h4v4h-4zM233 413h4v4h-4zM229 411h4v4h-4zM225 409h4v3h-4zM214 395h3v4h-3zM210 393h4v3h-4zM206 391h4v3h-4zM191 389h3v3h-3zM187 387h4v3h-4zM183 384h4v4h-4zM168 368h3v4h-3zM164 366h4v4h-4zM122 342h3v4h-3zM64 313h4v3h-4z"/><path fill="#008000" fill-opacity="0.75" d="M237 416h3v3h-3zM118 344h4v3h-4zM114 342h4v3h-4zM110 339h4v4h-4zM76 320h4v3h-4zM72 317h4v4h-4zM68 315h4v4h-4z"/><path fill="#008000" fill-opacity="0.8" d="M206 394h4v4h-4zM168 372h3v4h-3zM164 370h4v3h-4zM160 368h4v3h-4zM129 350h4v4h-4zM125 348h4v4h-4zM122 346h3v3h-3zM91 328h4v4h-4zM87 326h4v4h-4zM83 324h4v4h-4zM80 322h3v3h-3z"/><path fill="#008000" fill-opacity="0.85" d="M256 424h4v3h-4zM252 421h4v4h-4zM217 401h4v3h-4zM214 399h3v3h-3zM210 396h4v4h-4zM179 379h4v3h-4zM175 376h4v4h-4zM171 374h4v4h-4zM141 357h4v3h-4zM137 355h4v3h-4zM133 352h4v4h-4zM102 335h4v4h-4zM99 333h3v3h-3zM95 331h4v3h-4zM60 311h4v3h-4zM57 308h3v4h-3zM53 306h4v4h-4z"/><path fill="#008000" fill-opacity="0.9" d="M302 451h3v4h-3zM267 431h4v3h-4zM263 428h4v4h-4zM260 426h3v3h-3zM229 408h4v3h-4zM225 405h4v4h-4zM221 403h4v4h-4zM191 385h3v4h-3zM187 383h4v4h-4zM183 381h4v3h-4zM156 366h4v3h-4zM152 363h4v4h-4zM148 361h4v4h-4zM145 359h3v4h-3zM106 337h4v4h-4z"/><path fill="#008000" fill-opacity="0.95" d="M313 457h4v3h-4zM309 455h4v3h-4zM305 453h4v4h-4zM279 438h3v3h-3zM275 435h4v4h-4zM271 433h4v4h-4zM240 414h4v4h-4zM237 412h3v4h-3zM233 410h4v3h-4zM202 392h4v3h-4zM198 390h4v3h-4zM194 387h4v4h-4z"/><path fill="#008000" fill-opacity="1" d="M317 459h4v3h-4zM298 449h4v4h-4zM294 447h4v4h-4zM290 445h4v4h-4zM286 443h4v3h-4zM282 440h4v4h-4zM248 419h4v4h-4zM244 417h4v3h-4z"/><path fill="#f00" fill-opacity="0.2" d="M309 443h4v2h-4zM187 331h4v2h-4zM183 328h4v2h-4zM179 325h4v2h-4zM137 295h4v3h-4zM133 293h4v2h-4zM114 298h4v3h-4zM91 269h4v2h-4zM87 267h4v2h-4zM83 265h4v3h-4zM72 277h4v3h-4zM68 275h4v3h-4zM60 253h4v1h-4zM57 251h3v2h-3zM53 250h4v1h-4z"/><path fill="#f00" fill-opacity="0.25" d="M271 420h4v3h-4zM267 417h4v2h-4zM263 413h4v3h-4zM263 399h4v3h-4zM260 409h3v3h-3zM260 395h3v4h-3zM256 406h4v3h-4zM217 372h4v3h-4zM214 369h3v3h-3zM210 366h4v2h-4zM202 344h4v1h-4zM198 341h4v1h-4zM194 338h4v1h-4zM191 334h3v2h-3zM171 335h4v3h-4zM168 333h3v3h-3zM164 330h4v3h-4zM152 306h4v2h-4zM148 303h4v2h-4zM145 301h3v2h-3zM141 298h4v2h-4zM125 305h4v3h-4zM122 302h3v3h-3zM118 300h4v3h-4zM102 275h4v2h-4zM99 273h3v2h-3zM95 271h4v2h-4zM83 282h4v3h-4zM80 280h3v3h-3zM76 278h4v3h-4zM53 251h4v4h-4z"/><path fill="#f00" fill-opacity="0.3" d="M317 458h4v3h-4zM290 439h4v2h-4zM286 435h4v2h-4zM286 422h4v3h-4zM282 431h4v2h-4zM282 418h4v3h-4zM279 428h3v2h-3zM279 414h3v3h-3zM275 424h4v2h-4zM275 410h4v3h-4zM271 406h4v4h-4zM267 403h4v3h-4zM233 385h4v3h-4zM229 382h4v3h-4zM225 379h4v3h-4zM221 375h4v3h-4zM217 358h4v3h-4zM217 357h4v1h-4zM214 355h3v3h-3zM214 353h3v2h-3zM210 350h4v1h-4zM206 347h4v1h-4zM187 347h4v3h-4zM183 344h4v3h-4zM179 341h4v3h-4zM175 338h4v3h-4zM168 317h3v1h-3zM164 314h4v2h-4zM160 311h4v2h-4zM156 308h4v2h-4zM141 314h4v3h-4zM137 312h4v3h-4zM133 309h4v3h-4zM129 307h4v3h-4zM118 286h4v3h-4zM118 284h4v2h-4zM114 281h4v3h-4zM110 279h4v3h-4zM106 277h4v2h-4zM99 290h3v2h-3zM95 288h4v2h-4zM91 286h4v3h-4zM87 284h4v3h-4zM76 264h4v4h-4zM72 263h4v3h-4zM68 257h4v4h-4zM64 256h4v3h-4zM60 254h4v4h-4zM57 253h3v3h-3zM53 269h4v3h-4z"/><path fill="#f00" fill-opacity="0.35" d="M305 440h4v2h-4zM302 449h3v1h-3zM302 437h3v2h-3zM298 446h4v2h-4zM298 433h4v3h-4zM294 443h4v2h-4zM294 430h4v2h-4zM290 426h4v2h-4zM248 399h4v3h-4zM244 396h4v3h-4zM240 392h4v3h-4zM237 389h3v3h-3zM237 375h3v3h-3zM233 371h4v4h-4zM229 368h4v3h-4zM225 364h4v4h-4zM221 361h4v4h-4zM221 360h4v1h-4zM202 359h4v3h-4zM198 356h4v3h-4zM194 353h4v3h-4zM191 350h3v3h-3zM179 327h4v3h-4zM175 324h4v4h-4zM175 322h4v2h-4zM171 321h4v4h-4zM171 320h4v1h-4zM168 318h3v4h-3zM156 325h4v2h-4zM152 322h4v3h-4zM148 319h4v3h-4zM145 317h3v3h-3zM129 293h4v3h-4zM129 291h4v2h-4zM125 290h4v4h-4zM125 288h4v2h-4zM122 288h3v4h-3zM122 286h3v2h-3zM110 296h4v3h-4zM106 294h4v3h-4zM102 292h4v3h-4zM91 271h4v4h-4zM87 269h4v4h-4zM83 268h4v3h-4zM80 266h3v4h-3zM80 263h3v3h-3zM76 261h4v3h-4zM72 259h4v4h-4zM64 274h4v3h-4zM60 272h4v3h-4zM57 271h3v3h-3z"/><path fill="#f00" fill-opacity="0.4" d="M256 392h4v3h-4zM252 403h4v2h-4zM252 388h4v4h-4zM248 385h4v3h-4zM244 381h4v4h-4zM240 378h4v4h-4zM206 362h4v3h-4zM198 342h4v3h-4zM194 339h4v3h-4zM191 336h3v3h-3zM187 333h4v3h-4zM183 330h4v3h-4zM160 327h4v3h-4zM145 303h3v3h-3zM141 300h4v4h-4zM137 298h4v3h-4zM133 295h4v4h-4zM102 277h4v4h-4zM99 275h3v4h-3zM95 273h4v4h-4zM83 278h4v4h-4zM80 277h3v3h-3zM57 256h3v4h-3zM53 266h4v3h-4zM53 255h4v3h-4z"/><path fill="#f00" fill-opacity="0.45" d="M317 451h4v3h-4zM210 351h4v4h-4zM206 348h4v4h-4zM202 345h4v4h-4zM160 313h4v4h-4zM156 310h4v4h-4zM152 308h4v3h-4zM148 305h4v4h-4zM114 284h4v3h-4zM110 282h4v3h-4zM106 279h4v4h-4zM91 282h4v4h-4zM87 280h4v4h-4zM68 261h4v4h-4zM64 270h4v4h-4zM64 263h4v3h-4zM64 259h4v4h-4zM60 269h4v3h-4zM60 261h4v4h-4zM60 258h4v3h-4zM57 267h3v4h-3z"/><path fill="#f00" fill-opacity="0.5" d="M313 455h4v3h-4zM313 448h4v3h-4zM309 452h4v3h-4zM309 445h4v3h-4zM305 442h4v3h-4zM164 316h4v3h-4zM133 306h4v3h-4zM129 303h4v4h-4zM102 288h4v4h-4zM99 286h3v4h-3zM95 284h4v4h-4zM72 273h4v4h-4zM72 266h4v4h-4zM68 272h4v3h-4zM68 265h4v3h-4zM53 262h4v4h-4z"/><path fill="#f00" fill-opacity="0.55" d="M305 449h4v3h-4zM302 446h3v3h-3zM302 439h3v3h-3zM298 436h4v3h-4zM294 432h4v4h-4zM286 432h4v3h-4zM282 428h4v3h-4zM279 424h3v4h-3zM275 420h4v4h-4zM271 417h4v3h-4zM221 372h4v3h-4zM179 338h4v3h-4zM175 335h4v3h-4zM141 311h4v3h-4zM137 308h4v4h-4zM110 292h4v4h-4zM110 285h4v4h-4zM106 290h4v4h-4zM106 283h4v4h-4zM80 270h3v3h-3zM76 275h4v3h-4zM76 268h4v3h-4zM60 265h4v4h-4zM57 263h3v4h-3zM53 258h4v4h-4z"/><path fill="#f00" fill-opacity="0.6" d="M298 443h4v3h-4zM294 439h4v4h-4zM290 435h4v4h-4zM248 388h4v4h-4zM237 385h3v4h-3zM233 382h4v3h-4zM229 378h4v4h-4zM225 375h4v4h-4zM191 346h3v4h-3zM187 343h4v4h-4zM183 341h4v3h-4zM152 318h4v4h-4zM148 316h4v3h-4zM145 313h3v4h-3zM122 299h3v3h-3zM118 297h4v3h-4zM118 289h4v4h-4zM114 294h4v4h-4zM114 287h4v4h-4zM91 275h4v3h-4zM87 273h4v4h-4zM83 271h4v4h-4zM68 268h4v4h-4zM64 266h4v4h-4zM57 260h3v3h-3z"/><path fill="#f00" fill-opacity="0.65" d="M271 410h4v3h-4zM267 406h4v4h-4zM263 402h4v4h-4zM260 399h3v3h-3zM256 402h4v4h-4zM256 395h4v4h-4zM252 399h4v4h-4zM252 392h4v3h-4zM248 396h4v3h-4zM244 392h4v4h-4zM240 389h4v3h-4zM210 355h4v3h-4zM206 359h4v3h-4zM206 352h4v3h-4zM202 356h4v3h-4zM202 349h4v3h-4zM198 353h4v3h-4zM194 349h4v4h-4zM160 324h4v3h-4zM160 317h4v3h-4zM156 321h4v4h-4zM156 314h4v3h-4zM152 311h4v4h-4zM129 296h4v4h-4zM125 301h4v4h-4zM125 294h4v4h-4zM122 292h3v3h-3zM99 282h3v4h-3zM99 279h3v3h-3zM95 280h4v4h-4zM95 277h4v3h-4zM76 271h4v4h-4zM72 270h4v3h-4z"/><path fill="#f00" fill-opacity="0.7" d="M290 428h4v4h-4zM286 425h4v3h-4zM282 421h4v3h-4zM279 417h3v4h-3zM275 413h4v4h-4zM267 413h4v4h-4zM263 410h4v3h-4zM260 406h3v3h-3zM225 368h4v3h-4zM221 365h4v3h-4zM217 368h4v4h-4zM217 361h4v4h-4zM214 365h3v4h-3zM214 358h3v4h-3zM210 362h4v4h-4zM171 332h4v3h-4zM171 325h4v3h-4zM168 329h3v4h-3zM168 322h3v4h-3zM164 326h4v4h-4zM164 319h4v4h-4zM137 301h4v4h-4zM133 299h4v3h-4zM102 284h4v4h-4zM102 281h4v3h-4zM80 273h3v4h-3z"/><path fill="#f00" fill-opacity="0.75" d="M240 382h4v3h-4zM237 378h3v4h-3zM233 375h4v3h-4zM229 371h4v4h-4zM187 336h4v4h-4zM183 333h4v4h-4zM179 330h4v4h-4zM175 328h4v3h-4zM148 309h4v3h-4zM145 306h3v4h-3zM141 304h4v3h-4zM110 289h4v3h-4zM106 287h4v3h-4zM87 277h4v3h-4zM83 275h4v3h-4z"/><path fill="#f00" fill-opacity="0.8" d="M244 385h4v4h-4zM198 345h4v4h-4zM194 342h4v4h-4zM191 339h3v4h-3zM145 310h3v3h-3zM141 307h4v4h-4zM118 293h4v4h-4zM114 291h4v3h-4zM91 278h4v4h-4z"/><path fill="#f00" fill-opacity="0.85" d="M152 315h4v3h-4zM148 312h4v4h-4zM125 298h4v3h-4zM122 295h3v4h-3z"/><path fill="#f00" fill-opacity="0.9" d="M282 424h4v4h-4zM240 385h4v4h-4zM237 382h3v3h-3zM198 349h4v4h-4zM194 346h4v3h-4zM191 343h3v3h-3zM187 340h4v3h-4zM160 320h4v4h-4zM156 317h4v4h-4zM133 302h4v4h-4zM129 300h4v3h-4z"/><path fill="#f00" fill-opacity="0.95" d="M298 439h4v4h-4zM294 436h4v3h-4zM290 432h4v3h-4zM286 428h4v4h-4zM256 399h4v3h-4zM252 395h4v4h-4zM248 392h4v4h-4zM244 389h4v3h-4zM210 358h4v4h-4zM206 355h4v4h-4zM202 352h4v4h-4zM168 326h3v3h-3zM164 323h4v3h-4zM137 305h4v3h-4z"/><path fill="#f00" fill-opacity="1" d="M317 454h4v4h-4zM313 451h4v4h-4zM309 448h4v4h-4zM305 445h4v4h-4zM302 442h3v4h-3zM279 421h3v3h-3zM275 417h4v3h-4zM271 413h4v4h-4zM267 410h4v3h-4zM263 406h4v4h-4zM260 402h3v4h-3zM233 378h4v4h-4zM229 375h4v3h-4zM225 371h4v4h-4zM221 368h4v4h-4zM217 365h4v3h-4zM214 362h3v3h-3zM183 337h4v4h-4zM179 334h4v4h-4zM175 331h4v4h-4zM171 328h4v4h-4z"/><path fill="#00f" fill-opacity="0.2" d="M302 454h3v1h-3zM298 453h4v2h-4zM294 452h4v2h-4zM290 451h4v2h-4zM237 452h3v1h-3zM233 450h4v1h-4zM229 449h4v1h-4zM225 447h4v2h-4zM214 422h3v2h-3zM210 420h4v3h-4zM183 428h4v3h-4zM179 426h4v3h-4zM168 399h3v3h-3zM164 397h4v3h-4zM160 395h4v3h-4zM137 402h4v3h-4zM133 400h4v3h-4zM122 372h3v3h-3zM118 370h4v3h-4zM114 368h4v2h-4zM95 376h4v1h-4zM91 373h4v2h-4zM87 371h4v1h-4zM83 368h4v1h-4zM76 343h4v2h-4zM72 341h4v1h-4zM68 338h4v2h-4z"/><path fill="#00f" fill-opacity="0.25" d="M248 452h4v4h-4zM248 438h4v3h-4zM244 451h4v3h-4zM244 437h4v3h-4zM240 449h4v4h-4zM233 431h4v1h-4zM229 429h4v2h-4zM225 427h4v2h-4zM221 425h4v3h-4zM217 424h4v2h-4zM198 435h4v3h-4zM194 433h4v4h-4zM191 432h3v3h-3zM187 430h4v3h-4zM179 405h4v3h-4zM175 403h4v3h-4zM171 401h4v3h-4zM152 411h4v3h-4zM148 409h4v3h-4zM145 407h3v3h-3zM141 405h4v2h-4zM133 379h4v3h-4zM129 377h4v3h-4zM125 375h4v3h-4zM106 383h4v2h-4zM102 381h4v2h-4zM99 378h3v2h-3zM99 375h3v3h-3zM91 354h4v2h-4zM87 351h4v2h-4zM83 349h4v1h-4zM80 346h3v2h-3zM60 349h4v3h-4zM60 334h4v4h-4zM57 346h3v3h-3zM57 332h3v3h-3zM53 343h4v4h-4zM53 329h4v4h-4z"/><path fill="#00f" fill-opacity="0.3" d="M271 459h4v3h-4zM267 458h4v3h-4zM267 444h4v3h-4zM263 457h4v3h-4zM263 443h4v3h-4zM260 456h3v3h-3zM260 442h3v3h-3zM256 455h4v3h-4zM256 440h4v4h-4zM252 453h4v4h-4zM252 439h4v4h-4zM244 436h4v1h-4zM240 434h4v1h-4zM237 432h3v2h-3zM217 444h4v2h-4zM214 442h3v3h-3zM210 440h4v3h-4zM206 439h4v3h-4zM202 437h4v3h-4zM194 412h4v4h-4zM191 410h3v4h-3zM187 409h4v3h-4zM183 407h4v3h-4zM168 420h3v3h-3zM164 418h4v3h-4zM160 416h4v3h-4zM156 413h4v3h-4zM148 406h4v3h-4zM148 391h4v4h-4zM148 388h4v3h-4zM145 403h3v4h-3zM145 386h3v3h-3zM141 384h4v3h-4zM137 382h4v3h-4zM122 393h3v2h-3zM118 391h4v2h-4zM114 388h4v2h-4zM110 386h4v2h-4zM110 382h4v4h-4zM106 380h4v3h-4zM106 366h4v3h-4zM102 377h4v4h-4zM102 363h4v4h-4zM102 361h4v2h-4zM99 358h3v3h-3zM95 356h4v2h-4zM76 363h4v1h-4zM72 357h4v3h-4zM72 342h4v4h-4zM68 354h4v4h-4zM68 340h4v3h-4zM64 351h4v4h-4zM64 337h4v4h-4zM60 333h4v1h-4zM57 331h3v1h-3zM53 328h4v1h-4z"/><path fill="#00f" fill-opacity="0.35" d="M302 462h3v1h-3zM298 462h4v1h-4zM286 449h4v3h-4zM282 462h4v1h-4zM282 448h4v3h-4zM279 461h3v2h-3zM279 447h3v3h-3zM275 460h4v3h-4zM275 446h4v3h-4zM271 445h4v3h-4zM221 445h4v3h-4zM206 421h4v4h-4zM206 418h4v3h-4zM202 433h4v4h-4zM202 419h4v4h-4zM202 416h4v3h-4zM198 432h4v3h-4zM198 417h4v4h-4zM198 414h4v3h-4zM194 430h4v3h-4zM194 416h4v3h-4zM191 428h3v4h-3zM175 424h4v3h-4zM171 422h4v3h-4zM160 412h4v4h-4zM160 398h4v3h-4zM156 410h4v3h-4zM156 396h4v3h-4zM156 393h4v3h-4zM152 408h4v3h-4zM152 394h4v3h-4zM152 390h4v4h-4zM129 398h4v2h-4zM125 395h4v3h-4zM118 387h4v4h-4zM118 373h4v3h-4zM114 385h4v3h-4zM114 370h4v4h-4zM110 368h4v4h-4zM110 365h4v3h-4zM106 363h4v3h-4zM83 365h4v3h-4zM83 350h4v4h-4zM80 366h3v1h-3zM80 362h3v4h-3zM80 348h3v3h-3zM76 359h4v4h-4zM76 345h4v4h-4zM64 336h4v1h-4z"/><path fill="#00f" fill-opacity="0.4" d="M317 458h4v3h-4zM313 457h4v4h-4zM240 435h4v4h-4zM237 448h3v4h-3zM237 434h3v3h-3zM233 447h4v3h-4zM233 432h4v4h-4zM229 445h4v4h-4zM229 431h4v3h-4zM225 443h4v4h-4zM225 429h4v4h-4zM221 442h4v3h-4zM221 428h4v3h-4zM217 440h4v4h-4zM217 426h4v4h-4zM214 439h3v3h-3zM214 424h3v4h-3zM210 437h4v3h-4zM210 423h4v3h-4zM206 435h4v4h-4zM175 406h4v4h-4zM171 418h4v4h-4zM171 404h4v4h-4zM168 416h3v4h-3zM168 402h3v4h-3zM164 414h4v4h-4zM164 400h4v4h-4zM133 396h4v4h-4zM133 382h4v4h-4zM129 394h4v4h-4zM129 380h4v3h-4zM125 392h4v3h-4zM125 378h4v3h-4zM122 389h3v4h-3zM122 375h3v4h-3zM95 372h4v4h-4zM95 358h4v4h-4zM91 370h4v3h-4zM91 356h4v3h-4zM87 367h4v4h-4zM87 353h4v4h-4z"/><path fill="#00f" fill-opacity="0.45" d="M309 457h4v3h-4zM305 456h4v4h-4zM187 426h4v4h-4zM187 412h4v3h-4zM183 424h4v4h-4zM183 410h4v4h-4zM179 422h4v4h-4zM179 408h4v4h-4zM175 420h4v4h-4zM145 389h3v4h-3zM141 401h4v4h-4zM141 387h4v3h-4zM137 399h4v3h-4zM137 385h4v3h-4zM99 361h3v3h-3z"/><path fill="#00f" fill-opacity="0.5" d="M302 455h3v4h-3zM298 455h4v3h-4zM294 454h4v3h-4zM191 414h3v3h-3zM68 350h4v4h-4zM64 348h4v3h-4z"/><path fill="#00f" fill-opacity="0.55" d="M294 461h4v2h-4zM290 460h4v3h-4zM290 453h4v4h-4zM286 452h4v4h-4zM282 451h4v4h-4zM279 450h3v4h-3zM260 452h3v4h-3zM256 451h4v4h-4zM252 450h4v3h-4zM114 381h4v4h-4zM110 379h4v3h-4zM95 362h4v3h-4zM91 359h4v4h-4zM87 357h4v3h-4zM80 358h3v4h-3zM76 356h4v3h-4zM72 353h4v4h-4zM60 338h4v4h-4zM57 335h3v4h-3zM53 333h4v3h-4z"/><path fill="#00f" fill-opacity="0.6" d="M286 459h4v4h-4zM282 458h4v4h-4zM279 457h3v4h-3zM275 456h4v4h-4zM271 455h4v4h-4zM267 454h4v4h-4zM263 453h4v4h-4zM244 440h4v4h-4zM240 439h4v3h-4zM237 437h3v4h-3zM233 436h4v3h-4zM229 434h4v4h-4zM183 414h4v3h-4zM164 411h4v3h-4zM160 409h4v3h-4zM156 406h4v4h-4zM145 393h3v3h-3zM141 390h4v4h-4zM137 388h4v4h-4zM125 388h4v4h-4zM122 386h3v3h-3zM118 383h4v4h-4zM106 369h4v4h-4zM102 367h4v3h-4zM99 364h3v4h-3zM91 366h4v4h-4zM87 364h4v3h-4zM83 361h4v4h-4zM72 346h4v4h-4zM68 343h4v4h-4zM64 341h4v3h-4zM57 342h3v4h-3zM53 340h4v3h-4z"/><path fill="#00f" fill-opacity="0.65" d="M260 445h3v4h-3zM256 444h4v3h-4zM252 443h4v3h-4zM248 441h4v4h-4zM229 441h4v4h-4zM225 440h4v3h-4zM221 438h4v4h-4zM217 437h4v3h-4zM214 435h3v4h-3zM210 433h4v4h-4zM206 432h4v3h-4zM194 419h4v4h-4zM191 417h3v4h-3zM187 415h4v4h-4zM175 417h4v3h-4zM171 415h4v3h-4zM168 413h3v3h-3zM156 399h4v4h-4zM152 397h4v4h-4zM148 395h4v3h-4zM137 395h4v4h-4zM133 393h4v3h-4zM129 391h4v3h-4zM118 376h4v4h-4zM114 374h4v4h-4zM110 372h4v3h-4zM102 374h4v3h-4zM99 371h3v4h-3zM95 369h4v3h-4zM83 354h4v3h-4zM80 351h3v4h-3zM76 349h4v3h-4zM60 345h4v4h-4z"/><path fill="#00f" fill-opacity="0.7" d="M275 449h4v4h-4zM271 448h4v4h-4zM267 447h4v4h-4zM263 446h4v4h-4zM248 449h4v3h-4zM244 447h4v4h-4zM240 446h4v3h-4zM237 444h3v4h-3zM233 443h4v4h-4zM214 428h3v3h-3zM210 426h4v4h-4zM206 425h4v3h-4zM202 423h4v3h-4zM198 421h4v4h-4zM187 423h4v3h-4zM183 421h4v3h-4zM179 419h4v3h-4zM168 406h3v3h-3zM164 404h4v3h-4zM160 401h4v4h-4zM148 402h4v4h-4zM145 400h3v3h-3zM141 398h4v3h-4zM129 383h4v4h-4zM125 381h4v4h-4zM122 379h3v3h-3zM106 376h4v4h-4zM76 352h4v4h-4z"/><path fill="#00f" fill-opacity="0.75" d="M225 433h4v3h-4zM221 431h4v4h-4zM217 430h4v3h-4zM198 428h4v4h-4zM194 426h4v4h-4zM191 424h3v4h-3zM179 412h4v3h-4zM175 410h4v3h-4zM171 408h4v3h-4zM152 404h4v4h-4zM133 386h4v3h-4zM125 385h4v3h-4zM122 382h3v4h-3zM87 360h4v4h-4zM83 357h4v4h-4zM80 355h3v3h-3z"/><path fill="#00f" fill-opacity="0.8" d="M217 433h4v4h-4zM202 430h4v3h-4zM179 415h4v4h-4zM175 413h4v4h-4zM171 411h4v4h-4zM141 394h4v4h-4zM137 392h4v3h-4zM133 389h4v4h-4zM129 387h4v4h-4zM99 368h3v3h-3zM95 365h4v4h-4zM91 363h4v3h-4zM60 342h4v3h-4zM57 339h3v3h-3zM53 336h4v4h-4z"/><path fill="#00f" fill-opacity="0.85" d="M229 438h4v3h-4zM225 436h4v4h-4zM221 435h4v3h-4zM191 421h3v3h-3zM187 419h4v4h-4zM183 417h4v4h-4zM152 401h4v3h-4zM148 398h4v4h-4zM145 396h3v4h-3zM114 378h4v3h-4zM110 375h4v4h-4zM106 373h4v3h-4zM102 370h4v4h-4zM72 350h4v3h-4zM68 347h4v3h-4zM64 344h4v4h-4z"/><path fill="#00f" fill-opacity="0.9" d="M267 451h4v3h-4zM263 450h4v3h-4zM240 442h4v4h-4zM237 441h3v3h-3zM233 439h4v4h-4zM202 426h4v4h-4zM198 425h4v3h-4zM194 423h4v3h-4zM164 407h4v4h-4zM160 405h4v4h-4zM156 403h4v3h-4zM118 380h4v3h-4z"/><path fill="#00f" fill-opacity="0.95" d="M317 461h4v2h-4zM313 461h4v2h-4zM279 454h3v3h-3zM275 453h4v3h-4zM271 452h4v3h-4zM248 445h4v4h-4zM244 444h4v3h-4zM214 431h3v4h-3zM210 430h4v3h-4zM206 428h4v4h-4zM168 409h3v4h-3z"/><path fill="#00f" fill-opacity="1" d="M309 460h4v3h-4zM305 460h4v3h-4zM302 459h3v3h-3zM298 458h4v4h-4zM294 457h4v4h-4zM290 457h4v3h-4zM286 456h4v3h-4zM282 455h4v3h-4zM260 449h3v3h-3zM256 447h4v4h-4zM252 446h4v4h-4z"/></g></g><circle cx="91.0" cy="328.5" r="5.9" fill="#fff" stroke="#000" stroke-width="1.5"/><circle cx="129.3" cy="356.6" r="5.9" fill="#fff" stroke="#000" stroke-width="1.5"/><circle cx="167.6" cy="380.3" r="5.9" fill="#fff" stroke="#000" stroke-width="1.5"/><circle cx="205.9" cy="403.6" r="5.9" fill="#fff" stroke="#000" stroke-width="1.5"/><circle cx="244.2" cy="423.2" r="5.9" fill="#fff" stroke="#000" stroke-width="1.5"/><circle cx="267.2" cy="435.7" r="5.9" fill="#fff" stroke="#000" stroke-width="1.5"/><g clip-path="url(#ca2)"><g shape-rendering="crispEdges" filter="url(#bl)"><path fill="#008000" fill-opacity="0.2" d="M244 612h4v1h-4zM217 611h4v1h-4zM214 608h3v1h-3zM198 578h4v1h-4zM152 546h4v1h-4zM148 544h4v1h-4zM102 517h4v1h-4zM57 495h3v1h-3z"/><path fill="#008000" fill-opacity="0.25" d="M286 647h4v3h-4zM282 658h4v3h-4zM282 644h4v3h-4zM279 655h3v3h-3zM279 641h3v3h-3zM275 652h4v3h-4zM233 622h4v1h-4zM229 619h4v1h-4zM221 614h4v1h-4zM214 589h3v1h-3zM210 586h4v1h-4zM206 583h4v1h-4zM202 581h4v1h-4zM179 579h4v4h-4zM168 556h3v1h-3zM164 554h4v1h-4zM160 551h4v1h-4zM156 549h4v1h-4zM133 549h4v4h-4zM118 525h4v1h-4zM114 523h4v1h-4zM110 521h4v1h-4zM106 519h4v1h-4zM87 524h4v4h-4zM83 522h4v4h-4zM72 502h4v1h-4zM68 500h4v1h-4zM64 498h4v1h-4zM60 497h4v1h-4z"/><path fill="#008000" fill-opacity="0.3" d="M309 664h4v2h-4zM305 674h4v1h-4zM305 662h4v1h-4zM302 672h3v1h-3zM302 659h3v2h-3zM298 669h4v3h-4zM298 656h4v3h-4zM294 667h4v2h-4zM294 653h4v3h-4zM290 664h4v2h-4zM290 650h4v3h-4zM286 661h4v2h-4zM244 631h4v1h-4zM240 628h4v1h-4zM240 610h4v4h-4zM237 625h3v1h-3zM237 622h3v3h-3zM237 608h3v3h-3zM233 619h4v3h-4zM233 605h4v3h-4zM229 616h4v3h-4zM229 601h4v1h-4zM225 598h4v1h-4zM221 595h4v1h-4zM217 592h4v1h-4zM198 597h4v1h-4zM194 576h4v4h-4zM191 588h3v3h-3zM191 573h3v4h-3zM187 585h4v3h-4zM187 571h4v3h-4zM183 582h4v4h-4zM183 568h4v3h-4zM179 564h4v1h-4zM175 562h4v1h-4zM171 559h4v1h-4zM148 545h4v3h-4zM145 556h3v4h-3zM145 542h3v4h-3zM141 554h4v4h-4zM141 540h4v3h-4zM137 552h4v3h-4zM137 537h4v4h-4zM133 534h4v1h-4zM129 532h4v1h-4zM125 530h4v1h-4zM122 527h3v1h-3zM102 532h4v3h-4zM102 518h4v3h-4zM99 530h3v3h-3zM99 516h3v3h-3zM95 528h4v3h-4zM95 514h4v3h-4zM91 526h4v3h-4zM91 512h4v3h-4zM87 509h4v1h-4zM83 507h4v1h-4zM80 505h3v1h-3zM76 503h4v1h-4zM57 511h3v3h-3zM57 496h3v4h-3zM53 509h4v4h-4zM53 495h4v3h-4z"/><path fill="#008000" fill-opacity="0.35" d="M317 670h4v4h-4zM263 628h4v4h-4zM260 625h3v4h-3zM256 637h4v3h-4zM256 622h4v4h-4zM252 634h4v3h-4zM252 619h4v4h-4zM248 631h4v3h-4zM248 616h4v4h-4zM244 628h4v3h-4zM244 613h4v4h-4zM240 625h4v3h-4zM240 609h4v1h-4zM237 607h3v1h-3zM233 604h4v1h-4zM210 605h4v1h-4zM210 587h4v4h-4zM206 602h4v1h-4zM206 599h4v3h-4zM206 584h4v4h-4zM202 599h4v1h-4zM202 596h4v3h-4zM202 582h4v3h-4zM198 593h4v4h-4zM198 579h4v3h-4zM194 590h4v4h-4zM194 575h4v1h-4zM191 572h3v1h-3zM187 570h4v1h-4zM183 567h4v1h-4zM164 555h4v3h-4zM160 566h4v4h-4zM160 552h4v4h-4zM156 564h4v3h-4zM156 550h4v3h-4zM152 561h4v4h-4zM152 547h4v4h-4zM148 559h4v3h-4zM145 541h3v1h-3zM141 539h4v1h-4zM137 536h4v1h-4zM118 526h4v4h-4zM114 538h4v4h-4zM114 524h4v3h-4zM110 536h4v4h-4zM110 522h4v3h-4zM106 534h4v3h-4zM106 520h4v3h-4zM99 515h3v1h-3zM95 513h4v1h-4zM91 511h4v1h-4zM72 503h4v3h-4zM68 515h4v4h-4zM68 501h4v4h-4zM64 514h4v3h-4zM64 499h4v4h-4zM60 512h4v4h-4zM60 498h4v3h-4zM53 494h4v1h-4z"/><path fill="#008000" fill-opacity="0.4" d="M317 677h4v4h-4zM313 668h4v4h-4zM275 638h4v3h-4zM271 648h4v4h-4zM271 634h4v4h-4zM267 645h4v4h-4zM267 631h4v4h-4zM263 642h4v4h-4zM260 640h3v3h-3zM225 599h4v3h-4zM221 610h4v4h-4zM221 596h4v3h-4zM217 607h4v4h-4zM217 593h4v4h-4zM214 604h3v4h-3zM214 590h3v4h-3zM210 602h4v3h-4zM179 565h4v4h-4zM175 577h4v3h-4zM175 563h4v3h-4zM171 574h4v4h-4zM171 560h4v3h-4zM168 572h3v3h-3zM168 557h3v4h-3zM164 569h4v4h-4zM133 535h4v4h-4zM129 547h4v4h-4zM129 533h4v3h-4zM125 545h4v3h-4zM125 531h4v3h-4zM122 543h3v3h-3zM122 528h3v4h-3zM118 540h4v4h-4zM83 508h4v4h-4zM80 520h3v4h-3zM80 506h3v4h-3zM76 519h4v3h-4zM76 504h4v4h-4zM72 517h4v3h-4z"/><path fill="#008000" fill-opacity="0.45" d="M313 675h4v4h-4zM309 673h4v3h-4zM229 602h4v3h-4zM225 613h4v4h-4zM87 510h4v3h-4z"/><path fill="#008000" fill-opacity="0.5" d="M305 670h4v4h-4zM302 668h3v4h-3zM99 526h3v4h-3zM76 508h4v4h-4zM57 507h3v4h-3zM53 506h4v3h-4z"/><path fill="#008000" fill-opacity="0.55" d="M309 666h4v3h-4zM298 666h4v3h-4zM294 663h4v4h-4zM290 660h4v4h-4zM286 657h4v4h-4zM271 638h4v3h-4zM267 635h4v3h-4zM217 597h4v3h-4zM194 587h4v3h-4zM175 566h4v4h-4zM171 563h4v4h-4zM156 560h4v4h-4zM152 558h4v3h-4zM148 555h4v4h-4zM145 553h3v3h-3zM133 539h4v3h-4zM129 536h4v4h-4zM125 534h4v4h-4zM114 535h4v3h-4zM110 532h4v4h-4zM106 530h4v4h-4zM102 528h4v4h-4zM91 515h4v4h-4zM87 513h4v4h-4zM83 512h4v3h-4zM80 510h3v3h-3zM72 513h4v4h-4zM68 512h4v3h-4zM64 510h4v4h-4zM60 509h4v3h-4z"/><path fill="#008000" fill-opacity="0.6" d="M305 663h4v4h-4zM302 661h3v4h-3zM298 659h4v3h-4zM294 656h4v3h-4zM290 653h4v3h-4zM286 650h4v3h-4zM282 647h4v3h-4zM279 644h3v3h-3zM275 641h4v3h-4zM252 630h4v4h-4zM248 627h4v4h-4zM244 624h4v4h-4zM240 621h4v4h-4zM229 605h4v4h-4zM225 602h4v4h-4zM221 599h4v4h-4zM206 595h4v4h-4zM202 592h4v4h-4zM198 590h4v3h-4zM187 574h4v4h-4zM183 571h4v4h-4zM179 569h4v3h-4zM168 568h3v4h-3zM164 565h4v4h-4zM160 563h4v3h-4zM148 548h4v4h-4zM145 546h3v3h-3zM141 543h4v4h-4zM137 541h4v4h-4zM125 541h4v4h-4zM122 539h3v4h-3zM118 537h4v3h-4zM102 521h4v4h-4zM99 519h3v4h-3zM95 517h4v4h-4zM83 519h4v3h-4zM80 517h3v3h-3zM76 515h4v4h-4zM60 501h4v4h-4zM57 500h3v3h-3zM53 498h4v4h-4z"/><path fill="#008000" fill-opacity="0.65" d="M275 648h4v4h-4zM271 645h4v3h-4zM267 642h4v3h-4zM263 639h4v3h-4zM260 636h3v4h-3zM256 633h4v4h-4zM244 617h4v4h-4zM240 614h4v4h-4zM237 611h3v4h-3zM233 608h4v4h-4zM221 607h4v3h-4zM217 604h4v3h-4zM214 601h3v3h-3zM210 598h4v4h-4zM202 585h4v4h-4zM198 582h4v4h-4zM194 580h4v3h-4zM191 577h3v3h-3zM179 576h4v3h-4zM175 573h4v4h-4zM171 571h4v3h-4zM160 556h4v3h-4zM156 553h4v4h-4zM152 551h4v3h-4zM141 551h4v3h-4zM137 548h4v4h-4zM133 546h4v3h-4zM129 543h4v4h-4zM118 530h4v3h-4zM114 527h4v4h-4zM110 525h4v4h-4zM106 523h4v4h-4zM95 524h4v4h-4zM91 522h4v4h-4zM87 521h4v3h-4zM72 506h4v4h-4zM68 505h4v3h-4zM64 503h4v4h-4z"/><path fill="#008000" fill-opacity="0.7" d="M282 654h4v4h-4zM279 651h3v4h-3zM263 632h4v3h-4zM260 629h3v3h-3zM256 626h4v3h-4zM252 623h4v3h-4zM248 620h4v3h-4zM233 615h4v4h-4zM229 612h4v4h-4zM225 609h4v4h-4zM214 594h3v3h-3zM210 591h4v3h-4zM206 588h4v4h-4zM191 584h3v4h-3zM187 581h4v4h-4zM183 579h4v3h-4zM168 561h3v3h-3zM164 558h4v4h-4zM122 532h3v3h-3zM64 507h4v3h-4z"/><path fill="#008000" fill-opacity="0.75" d="M237 618h3v4h-3zM118 533h4v4h-4zM114 531h4v4h-4zM110 529h4v3h-4zM76 512h4v3h-4zM72 510h4v3h-4zM68 508h4v4h-4z"/><path fill="#008000" fill-opacity="0.8" d="M206 592h4v3h-4zM168 564h3v4h-3zM164 562h4v3h-4zM160 559h4v4h-4zM129 540h4v3h-4zM125 538h4v3h-4zM122 535h3v4h-3zM91 519h4v3h-4zM87 517h4v4h-4zM83 515h4v4h-4zM80 513h3v4h-3z"/><path fill="#008000" fill-opacity="0.85" d="M256 629h4v4h-4zM252 626h4v4h-4zM217 600h4v4h-4zM214 597h3v4h-3zM210 594h4v4h-4zM179 572h4v4h-4zM175 570h4v3h-4zM171 567h4v4h-4zM141 547h4v4h-4zM137 545h4v3h-4zM133 542h4v4h-4zM102 525h4v3h-4zM99 523h3v3h-3zM95 521h4v3h-4zM60 505h4v4h-4zM57 503h3v4h-3zM53 502h4v4h-4z"/><path fill="#008000" fill-opacity="0.9" d="M302 665h3v3h-3zM267 638h4v4h-4zM263 635h4v4h-4zM260 632h3v4h-3zM229 609h4v3h-4zM225 606h4v3h-4zM221 603h4v4h-4zM191 580h3v4h-3zM187 578h4v3h-4zM183 575h4v4h-4zM156 557h4v3h-4zM152 554h4v4h-4zM148 552h4v3h-4zM145 549h3v4h-3zM106 527h4v3h-4z"/><path fill="#008000" fill-opacity="0.95" d="M313 672h4v3h-4zM309 669h4v4h-4zM305 667h4v3h-4zM279 647h3v4h-3zM275 644h4v4h-4zM271 641h4v4h-4zM240 618h4v3h-4zM237 615h3v3h-3zM233 612h4v3h-4zM202 589h4v3h-4zM198 586h4v4h-4zM194 583h4v4h-4z"/><path fill="#008000" fill-opacity="1" d="M317 674h4v3h-4zM298 662h4v4h-4zM294 659h4v4h-4zM290 656h4v4h-4zM286 653h4v4h-4zM282 650h4v4h-4zM248 623h4v4h-4zM244 621h4v3h-4z"/><path fill="#f00" fill-opacity="0.2" d="M309 661h4v1h-4zM187 549h4v1h-4zM183 546h4v1h-4zM179 543h4v1h-4zM137 513h4v2h-4zM133 511h4v2h-4zM114 515h4v3h-4zM91 486h4v3h-4zM87 484h4v3h-4zM83 482h4v3h-4zM72 494h4v3h-4zM68 493h4v3h-4zM60 471h4v1h-4zM57 469h3v1h-3zM53 467h4v2h-4z"/><path fill="#f00" fill-opacity="0.25" d="M271 638h4v2h-4zM267 634h4v3h-4zM263 631h4v2h-4zM263 616h4v4h-4zM260 627h3v3h-3zM260 613h3v3h-3zM256 623h4v3h-4zM217 589h4v3h-4zM214 586h3v3h-3zM210 583h4v3h-4zM202 561h4v2h-4zM198 558h4v1h-4zM194 555h4v1h-4zM191 552h3v1h-3zM171 553h4v3h-4zM168 550h3v3h-3zM164 547h4v3h-4zM152 523h4v2h-4zM148 521h4v2h-4zM145 518h3v2h-3zM141 515h4v3h-4zM125 522h4v3h-4zM122 520h3v3h-3zM118 518h4v3h-4zM102 492h4v3h-4zM99 490h3v3h-3zM95 488h4v3h-4zM83 499h4v3h-4zM80 498h3v3h-3zM76 496h4v3h-4zM53 469h4v3h-4z"/><path fill="#f00" fill-opacity="0.3" d="M317 675h4v4h-4zM290 656h4v2h-4zM286 653h4v2h-4zM286 639h4v3h-4zM282 649h4v2h-4zM282 635h4v3h-4zM279 645h3v2h-3zM279 631h3v4h-3zM275 641h4v3h-4zM275 628h4v3h-4zM271 624h4v3h-4zM267 620h4v3h-4zM233 603h4v3h-4zM229 599h4v3h-4zM225 596h4v3h-4zM221 593h4v3h-4zM217 575h4v4h-4zM217 574h4v1h-4zM214 572h3v4h-3zM214 571h3v1h-3zM210 568h4v1h-4zM206 565h4v1h-4zM187 565h4v2h-4zM183 562h4v3h-4zM179 559h4v3h-4zM175 556h4v3h-4zM168 534h3v2h-3zM164 531h4v2h-4zM160 529h4v1h-4zM156 526h4v2h-4zM141 532h4v3h-4zM137 529h4v3h-4zM133 527h4v3h-4zM129 525h4v2h-4zM118 503h4v4h-4zM118 501h4v2h-4zM114 499h4v2h-4zM110 497h4v2h-4zM106 495h4v2h-4zM99 507h3v3h-3zM95 505h4v3h-4zM91 503h4v3h-4zM87 501h4v3h-4zM76 482h4v3h-4zM72 480h4v4h-4zM68 475h4v3h-4zM64 473h4v4h-4zM60 472h4v3h-4zM57 470h3v4h-3zM53 487h4v3h-4z"/><path fill="#f00" fill-opacity="0.35" d="M305 657h4v2h-4zM302 667h3v1h-3zM302 654h3v2h-3zM298 664h4v1h-4zM298 651h4v2h-4zM294 660h4v2h-4zM294 647h4v3h-4zM290 643h4v3h-4zM248 617h4v2h-4zM244 613h4v3h-4zM240 610h4v3h-4zM237 606h3v3h-3zM237 592h3v4h-3zM233 589h4v3h-4zM229 585h4v4h-4zM225 582h4v3h-4zM221 579h4v3h-4zM221 578h4v1h-4zM202 577h4v3h-4zM198 574h4v3h-4zM194 571h4v3h-4zM191 568h3v2h-3zM179 544h4v4h-4zM175 542h4v3h-4zM175 540h4v2h-4zM171 539h4v3h-4zM171 537h4v2h-4zM168 536h3v3h-3zM156 542h4v3h-4zM152 539h4v3h-4zM148 537h4v3h-4zM145 534h3v3h-3zM129 510h4v4h-4zM129 508h4v2h-4zM125 508h4v4h-4zM125 506h4v2h-4zM122 506h3v3h-3zM122 503h3v3h-3zM110 513h4v3h-4zM106 511h4v3h-4zM102 509h4v3h-4zM91 489h4v3h-4zM87 487h4v4h-4zM83 485h4v4h-4zM80 483h3v4h-3zM80 480h3v3h-3zM76 478h4v4h-4zM72 477h4v3h-4zM64 491h4v3h-4zM60 490h4v3h-4zM57 488h3v3h-3z"/><path fill="#f00" fill-opacity="0.4" d="M256 609h4v4h-4zM252 620h4v3h-4zM252 606h4v3h-4zM248 602h4v4h-4zM244 599h4v4h-4zM240 596h4v3h-4zM206 580h4v3h-4zM198 559h4v4h-4zM194 556h4v4h-4zM191 553h3v4h-3zM187 550h4v4h-4zM183 547h4v4h-4zM160 545h4v3h-4zM145 520h3v4h-3zM141 518h4v3h-4zM137 515h4v4h-4zM133 513h4v3h-4zM102 495h4v3h-4zM99 493h3v3h-3zM95 491h4v3h-4zM83 496h4v3h-4zM80 494h3v4h-3zM57 474h3v3h-3zM53 483h4v4h-4zM53 472h4v4h-4z"/><path fill="#f00" fill-opacity="0.45" d="M317 668h4v4h-4zM210 569h4v3h-4zM206 566h4v3h-4zM202 563h4v3h-4zM160 530h4v4h-4zM156 528h4v3h-4zM152 525h4v4h-4zM148 523h4v3h-4zM114 501h4v4h-4zM110 499h4v4h-4zM106 497h4v3h-4zM91 500h4v3h-4zM87 498h4v3h-4zM68 478h4v4h-4zM64 488h4v3h-4zM64 480h4v4h-4zM64 477h4v3h-4zM60 486h4v4h-4zM60 479h4v3h-4zM60 475h4v4h-4zM57 485h3v3h-3z"/><path fill="#f00" fill-opacity="0.5" d="M313 672h4v4h-4zM313 665h4v4h-4zM309 669h4v4h-4zM309 662h4v4h-4zM305 659h4v4h-4zM164 533h4v4h-4zM133 523h4v4h-4zM129 521h4v4h-4zM102 506h4v3h-4zM99 503h3v4h-3zM95 501h4v4h-4zM72 491h4v3h-4zM72 484h4v3h-4zM68 489h4v4h-4zM68 482h4v4h-4zM53 480h4v3h-4z"/><path fill="#f00" fill-opacity="0.55" d="M305 666h4v4h-4zM302 663h3v4h-3zM302 656h3v4h-3zM298 653h4v4h-4zM294 650h4v3h-4zM286 649h4v4h-4zM282 645h4v4h-4zM279 642h3v3h-3zM275 638h4v3h-4zM271 634h4v4h-4zM221 589h4v4h-4zM179 555h4v4h-4zM175 552h4v4h-4zM141 528h4v4h-4zM137 526h4v3h-4zM110 510h4v3h-4zM110 503h4v3h-4zM106 508h4v3h-4zM106 500h4v4h-4zM80 487h3v4h-3zM76 492h4v4h-4zM76 485h4v4h-4zM60 482h4v4h-4zM57 481h3v4h-3zM53 476h4v4h-4z"/><path fill="#f00" fill-opacity="0.6" d="M298 660h4v4h-4zM294 657h4v3h-4zM290 653h4v3h-4zM248 606h4v3h-4zM237 603h3v3h-3zM233 599h4v4h-4zM229 596h4v3h-4zM225 593h4v3h-4zM191 564h3v4h-3zM187 561h4v4h-4zM183 558h4v4h-4zM152 536h4v3h-4zM148 533h4v4h-4zM145 531h3v3h-3zM122 516h3v4h-3zM118 514h4v4h-4zM118 507h4v4h-4zM114 512h4v3h-4zM114 505h4v3h-4zM91 492h4v4h-4zM87 491h4v3h-4zM83 489h4v3h-4zM68 486h4v3h-4zM64 484h4v4h-4zM57 477h3v4h-3z"/><path fill="#f00" fill-opacity="0.65" d="M271 627h4v4h-4zM267 623h4v4h-4zM263 620h4v3h-4zM260 616h3v4h-3zM256 620h4v3h-4zM256 613h4v3h-4zM252 616h4v4h-4zM252 609h4v4h-4zM248 613h4v4h-4zM244 610h4v3h-4zM240 606h4v4h-4zM210 572h4v4h-4zM206 576h4v4h-4zM206 569h4v4h-4zM202 573h4v4h-4zM202 566h4v4h-4zM198 570h4v4h-4zM194 567h4v4h-4zM160 541h4v4h-4zM160 534h4v4h-4zM156 538h4v4h-4zM156 531h4v4h-4zM152 529h4v3h-4zM129 514h4v3h-4zM125 519h4v3h-4zM125 512h4v3h-4zM122 509h3v4h-3zM99 500h3v3h-3zM99 496h3v4h-3zM95 498h4v3h-4zM95 494h4v4h-4zM76 489h4v3h-4zM72 487h4v4h-4z"/><path fill="#f00" fill-opacity="0.7" d="M290 646h4v3h-4zM286 642h4v4h-4zM282 638h4v4h-4zM279 635h3v3h-3zM275 631h4v3h-4zM267 631h4v3h-4zM263 627h4v4h-4zM260 623h3v4h-3zM225 585h4v4h-4zM221 582h4v4h-4zM217 586h4v3h-4zM217 579h4v3h-4zM214 583h3v3h-3zM214 576h3v3h-3zM210 579h4v4h-4zM171 549h4v4h-4zM171 542h4v4h-4zM168 547h3v3h-3zM168 539h3v4h-3zM164 544h4v3h-4zM164 537h4v3h-4zM137 519h4v3h-4zM133 516h4v4h-4zM102 502h4v4h-4zM102 498h4v4h-4zM80 491h3v3h-3z"/><path fill="#f00" fill-opacity="0.75" d="M240 599h4v4h-4zM237 596h3v3h-3zM233 592h4v4h-4zM229 589h4v3h-4zM187 554h4v3h-4zM183 551h4v3h-4zM179 548h4v4h-4zM175 545h4v4h-4zM148 526h4v4h-4zM145 524h3v3h-3zM141 521h4v4h-4zM110 506h4v4h-4zM106 504h4v4h-4zM87 494h4v4h-4zM83 492h4v4h-4z"/><path fill="#f00" fill-opacity="0.8" d="M244 603h4v3h-4zM198 563h4v4h-4zM194 560h4v3h-4zM191 557h3v3h-3zM145 527h3v4h-3zM141 525h4v3h-4zM118 511h4v3h-4zM114 508h4v4h-4zM91 496h4v4h-4z"/><path fill="#f00" fill-opacity="0.85" d="M152 532h4v4h-4zM148 530h4v3h-4zM125 515h4v4h-4zM122 513h3v3h-3z"/><path fill="#f00" fill-opacity="0.9" d="M282 642h4v3h-4zM240 603h4v3h-4zM237 599h3v4h-3zM198 567h4v3h-4zM194 563h4v4h-4zM191 560h3v4h-3zM187 557h4v4h-4zM160 538h4v3h-4zM156 535h4v3h-4zM133 520h4v3h-4zM129 517h4v4h-4z"/><path fill="#f00" fill-opacity="0.95" d="M298 657h4v3h-4zM294 653h4v4h-4zM290 649h4v4h-4zM286 646h4v3h-4zM256 616h4v4h-4zM252 613h4v3h-4zM248 609h4v4h-4zM244 606h4v4h-4zM210 576h4v3h-4zM206 573h4v3h-4zM202 570h4v3h-4zM168 543h3v4h-3zM164 540h4v4h-4zM137 522h4v4h-4z"/><path fill="#f00" fill-opacity="1" d="M317 672h4v3h-4zM313 669h4v3h-4zM309 666h4v3h-4zM305 663h4v3h-4zM302 660h3v3h-3zM279 638h3v4h-3zM275 634h4v4h-4zM271 631h4v3h-4zM267 627h4v4h-4zM263 623h4v4h-4zM260 620h3v3h-3zM233 596h4v3h-4zM229 592h4v4h-4zM225 589h4v4h-4zM221 586h4v3h-4zM217 582h4v4h-4zM214 579h3v4h-3zM183 554h4v4h-4zM179 552h4v3h-4zM175 549h4v3h-4zM171 546h4v3h-4z"/><path fill="#00f" fill-opacity="0.2" d="M302 672h3v1h-3zM298 670h4v2h-4zM294 669h4v2h-4zM290 668h4v2h-4zM286 680h4v1h-4zM237 669h3v1h-3zM233 668h4v1h-4zM229 666h4v2h-4zM225 665h4v1h-4zM214 639h3v3h-3zM210 637h4v3h-4zM183 645h4v3h-4zM179 643h4v3h-4zM168 616h3v4h-3zM164 614h4v4h-4zM160 612h4v3h-4zM137 620h4v2h-4zM133 618h4v2h-4zM122 590h3v3h-3zM118 588h4v2h-4zM114 585h4v3h-4zM95 593h4v2h-4zM91 591h4v1h-4zM87 588h4v2h-4zM83 586h4v1h-4zM76 561h4v2h-4zM72 558h4v2h-4zM68 556h4v1h-4z"/><path fill="#00f" fill-opacity="0.25" d="M248 670h4v3h-4zM248 655h4v4h-4zM244 668h4v4h-4zM244 654h4v4h-4zM240 667h4v4h-4zM233 648h4v2h-4zM229 646h4v2h-4zM225 645h4v2h-4zM221 643h4v2h-4zM217 641h4v3h-4zM198 653h4v3h-4zM194 651h4v3h-4zM191 649h3v3h-3zM187 647h4v3h-4zM179 622h4v4h-4zM175 620h4v4h-4zM171 618h4v4h-4zM152 629h4v3h-4zM148 627h4v2h-4zM145 624h3v3h-3zM141 622h4v3h-4zM133 597h4v3h-4zM129 594h4v3h-4zM125 592h4v3h-4zM106 601h4v2h-4zM102 598h4v2h-4zM99 596h3v2h-3zM99 592h3v4h-3zM91 571h4v2h-4zM87 569h4v1h-4zM83 566h4v2h-4zM80 564h3v1h-3zM60 566h4v4h-4zM60 552h4v3h-4zM57 563h3v4h-3zM57 549h3v4h-3zM53 561h4v3h-4zM53 546h4v4h-4z"/><path fill="#00f" fill-opacity="0.3" d="M271 676h4v3h-4zM267 675h4v4h-4zM267 661h4v4h-4zM263 674h4v4h-4zM263 660h4v4h-4zM260 673h3v4h-3zM260 659h3v4h-3zM256 672h4v4h-4zM256 658h4v3h-4zM252 671h4v3h-4zM252 657h4v3h-4zM244 653h4v1h-4zM240 652h4v1h-4zM237 650h3v1h-3zM217 661h4v3h-4zM214 660h3v2h-3zM210 658h4v3h-4zM206 656h4v3h-4zM202 654h4v4h-4zM194 630h4v3h-4zM191 628h3v3h-3zM187 626h4v3h-4zM183 624h4v3h-4zM168 637h3v3h-3zM164 635h4v3h-4zM160 633h4v3h-4zM156 631h4v3h-4zM148 623h4v4h-4zM148 609h4v3h-4zM148 606h4v3h-4zM145 621h3v3h-3zM145 604h3v3h-3zM141 601h4v3h-4zM137 599h4v3h-4zM122 610h3v3h-3zM118 608h4v2h-4zM114 606h4v2h-4zM110 603h4v2h-4zM110 600h4v3h-4zM106 597h4v4h-4zM106 583h4v4h-4zM102 595h4v3h-4zM102 581h4v3h-4zM102 578h4v3h-4zM99 576h3v2h-3zM95 573h4v3h-4zM76 580h4v1h-4zM72 574h4v4h-4zM72 560h4v4h-4zM68 572h4v3h-4zM68 557h4v4h-4zM64 569h4v3h-4zM64 555h4v3h-4zM60 551h4v1h-4zM57 548h3v1h-3zM53 545h4v1h-4z"/><path fill="#00f" fill-opacity="0.35" d="M302 680h3v1h-3zM298 679h4v2h-4zM286 667h4v3h-4zM282 679h4v2h-4zM282 666h4v3h-4zM279 678h3v3h-3zM279 664h3v4h-3zM275 678h4v2h-4zM275 663h4v4h-4zM271 662h4v4h-4zM221 663h4v2h-4zM206 638h4v4h-4zM206 635h4v3h-4zM202 651h4v3h-4zM202 637h4v3h-4zM202 633h4v4h-4zM198 649h4v4h-4zM198 635h4v3h-4zM198 632h4v3h-4zM194 647h4v4h-4zM194 633h4v4h-4zM191 645h3v4h-3zM175 641h4v3h-4zM171 639h4v3h-4zM160 630h4v3h-4zM160 615h4v4h-4zM156 627h4v4h-4zM156 613h4v4h-4zM156 610h4v3h-4zM152 625h4v4h-4zM152 611h4v4h-4zM152 608h4v3h-4zM129 615h4v3h-4zM125 613h4v2h-4zM118 605h4v3h-4zM118 590h4v4h-4zM114 602h4v4h-4zM114 588h4v3h-4zM110 585h4v4h-4zM110 583h4v2h-4zM106 581h4v2h-4zM83 582h4v4h-4zM83 568h4v3h-4zM80 583h3v1h-3zM80 579h3v4h-3zM80 565h3v4h-3zM76 577h4v3h-4zM76 563h4v3h-4zM64 553h4v2h-4z"/><path fill="#00f" fill-opacity="0.4" d="M317 676h4v3h-4zM313 675h4v3h-4zM240 653h4v3h-4zM237 666h3v3h-3zM237 651h3v4h-3zM233 664h4v4h-4zM233 650h4v3h-4zM229 663h4v3h-4zM229 648h4v4h-4zM225 661h4v4h-4zM225 647h4v3h-4zM221 659h4v4h-4zM221 645h4v4h-4zM217 658h4v3h-4zM217 644h4v3h-4zM214 656h3v4h-3zM214 642h3v3h-3zM210 654h4v4h-4zM210 640h4v4h-4zM206 653h4v3h-4zM175 624h4v3h-4zM171 636h4v3h-4zM171 622h4v3h-4zM168 634h3v3h-3zM168 620h3v3h-3zM164 632h4v3h-4zM164 618h4v3h-4zM133 614h4v4h-4zM133 600h4v3h-4zM129 612h4v3h-4zM129 597h4v4h-4zM125 609h4v4h-4zM125 595h4v4h-4zM122 607h3v3h-3zM122 593h3v3h-3zM95 590h4v3h-4zM95 576h4v3h-4zM91 587h4v4h-4zM91 573h4v4h-4zM87 585h4v3h-4zM87 570h4v4h-4z"/><path fill="#00f" fill-opacity="0.45" d="M309 674h4v4h-4zM305 673h4v4h-4zM187 644h4v3h-4zM187 629h4v4h-4zM183 642h4v3h-4zM183 627h4v4h-4zM179 640h4v3h-4zM179 626h4v3h-4zM175 638h4v3h-4zM145 607h3v3h-3zM141 619h4v3h-4zM141 604h4v4h-4zM137 616h4v4h-4zM137 602h4v4h-4zM99 578h3v4h-3z"/><path fill="#00f" fill-opacity="0.5" d="M302 673h3v3h-3zM298 672h4v4h-4zM294 671h4v4h-4zM191 631h3v4h-3zM68 568h4v4h-4zM64 565h4v4h-4z"/><path fill="#00f" fill-opacity="0.55" d="M294 678h4v3h-4zM290 678h4v3h-4zM290 670h4v4h-4zM286 670h4v3h-4zM282 669h4v3h-4zM279 668h3v3h-3zM260 670h3v3h-3zM256 668h4v4h-4zM252 667h4v4h-4zM114 599h4v3h-4zM110 596h4v4h-4zM95 579h4v4h-4zM91 577h4v3h-4zM87 574h4v4h-4zM80 576h3v3h-3zM76 573h4v4h-4zM72 571h4v3h-4zM60 555h4v4h-4zM57 553h3v3h-3zM53 550h4v4h-4z"/><path fill="#00f" fill-opacity="0.6" d="M286 677h4v3h-4zM282 676h4v3h-4zM279 675h3v3h-3zM275 674h4v4h-4zM271 673h4v3h-4zM267 672h4v3h-4zM263 671h4v3h-4zM244 658h4v3h-4zM240 656h4v4h-4zM237 655h3v3h-3zM233 653h4v4h-4zM229 652h4v3h-4zM183 631h4v4h-4zM164 628h4v4h-4zM160 626h4v4h-4zM156 624h4v3h-4zM145 610h3v4h-3zM141 608h4v3h-4zM137 606h4v3h-4zM125 606h4v3h-4zM122 603h3v4h-3zM118 601h4v4h-4zM106 587h4v3h-4zM102 584h4v4h-4zM99 582h3v3h-3zM91 584h4v3h-4zM87 581h4v4h-4zM83 579h4v3h-4zM72 564h4v3h-4zM68 561h4v3h-4zM64 558h4v4h-4zM57 560h3v3h-3zM53 557h4v4h-4z"/><path fill="#00f" fill-opacity="0.65" d="M260 663h3v3h-3zM256 661h4v4h-4zM252 660h4v4h-4zM248 659h4v3h-4zM229 659h4v4h-4zM225 657h4v4h-4zM221 656h4v3h-4zM217 654h4v4h-4zM214 653h3v3h-3zM210 651h4v3h-4zM206 649h4v4h-4zM194 637h4v3h-4zM191 635h3v3h-3zM187 633h4v3h-4zM175 634h4v4h-4zM171 632h4v4h-4zM168 630h3v4h-3zM156 617h4v3h-4zM152 615h4v3h-4zM148 612h4v4h-4zM137 613h4v3h-4zM133 610h4v4h-4zM129 608h4v4h-4zM118 594h4v3h-4zM114 591h4v4h-4zM110 589h4v4h-4zM102 591h4v4h-4zM99 589h3v3h-3zM95 586h4v4h-4zM83 571h4v4h-4zM80 569h3v3h-3zM76 566h4v4h-4zM60 563h4v3h-4z"/><path fill="#00f" fill-opacity="0.7" d="M275 667h4v3h-4zM271 666h4v3h-4zM267 665h4v3h-4zM263 664h4v3h-4zM248 666h4v4h-4zM244 665h4v3h-4zM240 663h4v4h-4zM237 662h3v4h-3zM233 660h4v4h-4zM214 645h3v4h-3zM210 644h4v3h-4zM206 642h4v4h-4zM202 640h4v4h-4zM198 638h4v4h-4zM187 640h4v4h-4zM183 638h4v4h-4zM179 636h4v4h-4zM168 623h3v4h-3zM164 621h4v4h-4zM160 619h4v3h-4zM148 619h4v4h-4zM145 617h3v4h-3zM141 615h4v4h-4zM129 601h4v4h-4zM125 599h4v3h-4zM122 596h3v4h-3zM106 594h4v3h-4zM76 570h4v3h-4z"/><path fill="#00f" fill-opacity="0.75" d="M225 650h4v4h-4zM221 649h4v3h-4zM217 647h4v4h-4zM198 646h4v3h-4zM194 644h4v3h-4zM191 642h3v3h-3zM179 629h4v4h-4zM175 627h4v4h-4zM171 625h4v4h-4zM152 622h4v3h-4zM133 603h4v4h-4zM125 602h4v4h-4zM122 600h3v3h-3zM87 578h4v3h-4zM83 575h4v4h-4zM80 572h3v4h-3z"/><path fill="#00f" fill-opacity="0.8" d="M217 651h4v3h-4zM202 647h4v4h-4zM179 633h4v3h-4zM175 631h4v3h-4zM171 629h4v3h-4zM141 611h4v4h-4zM137 609h4v4h-4zM133 607h4v3h-4zM129 605h4v3h-4zM99 585h3v4h-3zM95 583h4v3h-4zM91 580h4v4h-4zM60 559h4v4h-4zM57 556h3v4h-3zM53 554h4v3h-4z"/><path fill="#00f" fill-opacity="0.85" d="M229 655h4v4h-4zM225 654h4v3h-4zM221 652h4v4h-4zM191 638h3v4h-3zM187 636h4v4h-4zM183 635h4v3h-4zM152 618h4v4h-4zM148 616h4v3h-4zM145 614h3v3h-3zM114 595h4v4h-4zM110 593h4v3h-4zM106 590h4v4h-4zM102 588h4v3h-4zM72 567h4v4h-4zM68 564h4v4h-4zM64 562h4v3h-4z"/><path fill="#00f" fill-opacity="0.9" d="M267 668h4v4h-4zM263 667h4v4h-4zM240 660h4v3h-4zM237 658h3v4h-3zM233 657h4v3h-4zM202 644h4v3h-4zM198 642h4v4h-4zM194 640h4v4h-4zM164 625h4v3h-4zM160 622h4v4h-4zM156 620h4v4h-4zM118 597h4v4h-4z"/><path fill="#00f" fill-opacity="0.95" d="M317 679h4v2h-4zM313 678h4v3h-4zM279 671h3v4h-3zM275 670h4v4h-4zM271 669h4v4h-4zM248 662h4v4h-4zM244 661h4v4h-4zM214 649h3v4h-3zM210 647h4v4h-4zM206 646h4v3h-4zM168 627h3v3h-3z"/><path fill="#00f" fill-opacity="1" d="M309 678h4v3h-4zM305 677h4v4h-4zM302 676h3v4h-3zM298 676h4v3h-4zM294 675h4v3h-4zM290 674h4v4h-4zM286 673h4v4h-4zM282 672h4v4h-4zM260 666h3v4h-3zM256 665h4v3h-4zM252 664h4v3h-4z"/></g></g><circle cx="91.0" cy="542.3" r="5.9" fill="#fff" stroke="#000" stroke-width="1.5"/><circle cx="129.3" cy="566.4" r="5.9" fill="#fff" stroke="#000" stroke-width="1.5"/><circle cx="167.6" cy="589.3" r="5.9" fill="#fff" stroke="#000" stroke-width="1.5"/><circle cx="205.9" cy="611.7" r="5.9" fill="#fff" stroke="#000" stroke-width="1.5"/><circle cx="244.2" cy="634.6" r="5.9" fill="#fff" stroke="#000" stroke-width="1.5"/><circle cx="267.2" cy="648.3" r="5.9" fill="#fff" stroke="#000" stroke-width="1.5"/><g clip-path="url(#cb0)"><g shape-rendering="crispEdges" filter="url(#bl)"><path fill="#008000" fill-opacity="0.2" d="M618 219h6v1h-6zM611 216h7v1h-7zM604 213h7v1h-7zM564 216h7v1h-7zM558 213h6v2h-6zM537 188h7v1h-7zM531 185h6v2h-6zM524 183h7v2h-7zM484 187h7v2h-7zM477 185h7v2h-7zM471 183h6v1h-6zM451 156h6v2h-6zM444 154h7v2h-7zM404 156h6v1h-6zM397 153h7v1h-7zM390 150h7v1h-7z"/><path fill="#008000" fill-opacity="0.25" d="M591 226h7v1h-7zM584 223h7v2h-7zM578 221h6v1h-6zM571 218h7v1h-7zM558 195h6v1h-6zM551 192h7v2h-7zM544 190h7v2h-7zM511 197h6v1h-6zM504 194h7v2h-7zM497 192h7v2h-7zM491 190h6v1h-6zM477 166h7v2h-7zM471 164h6v2h-6zM464 161h7v2h-7zM457 159h7v2h-7zM430 167h7v2h-7zM424 165h6v1h-6zM417 162h7v1h-7zM410 159h7v1h-7zM410 155h7v4h-7zM397 134h7v2h-7zM390 131h7v2h-7z"/><path fill="#008000" fill-opacity="0.3" d="M618 237h6v1h-6zM611 234h7v1h-7zM604 231h7v2h-7zM598 229h6v1h-6zM584 206h7v4h-7zM584 205h7v1h-7zM578 217h6v4h-6zM578 202h6v2h-6zM571 200h7v1h-7zM564 197h7v2h-7zM537 206h7v1h-7zM531 204h6v1h-6zM524 201h7v2h-7zM517 199h7v1h-7zM504 191h7v3h-7zM504 178h7v3h-7zM504 176h7v2h-7zM497 189h7v3h-7zM497 174h7v1h-7zM491 171h6v2h-6zM484 169h7v2h-7zM457 178h7v1h-7zM451 175h6v2h-6zM444 173h7v1h-7zM437 170h7v2h-7zM430 164h7v3h-7zM430 150h7v4h-7zM424 161h6v4h-6zM424 148h6v3h-6zM424 146h6v2h-6zM417 158h7v4h-7zM417 145h7v3h-7zM417 143h7v2h-7zM410 140h7v2h-7zM404 137h6v2h-6z"/><path fill="#008000" fill-opacity="0.35" d="M651 245h7v1h-7zM651 233h7v2h-7zM645 242h6v2h-6zM645 230h6v2h-6zM638 240h7v2h-7zM638 227h7v3h-7zM631 238h7v3h-7zM631 224h7v4h-7zM624 235h7v4h-7zM624 222h7v3h-7zM618 220h6v3h-6zM611 217h7v4h-7zM604 228h7v3h-7zM604 214h7v4h-7zM598 225h6v4h-6zM598 212h6v3h-6zM598 210h6v2h-6zM591 223h7v3h-7zM591 209h7v3h-7zM591 208h7v1h-7zM584 220h7v3h-7zM551 211h7v1h-7zM544 208h7v2h-7zM531 187h6v3h-6zM524 198h7v3h-7zM524 185h7v3h-7zM517 196h7v3h-7zM517 182h7v4h-7zM517 181h7v1h-7zM511 193h6v4h-6zM511 180h6v3h-6zM511 178h6v2h-6zM464 180h7v2h-7zM457 161h7v3h-7zM451 172h6v3h-6zM451 158h6v4h-6zM444 169h7v4h-7zM444 156h7v3h-7zM437 167h7v3h-7zM437 153h7v3h-7zM437 151h7v2h-7zM430 148h7v2h-7z"/><path fill="#008000" fill-opacity="0.4" d="M618 233h6v4h-6zM611 231h7v3h-7zM558 196h6v4h-6zM551 207h7v4h-7zM551 194h7v3h-7zM544 205h7v3h-7zM544 192h7v3h-7zM537 203h7v3h-7zM537 189h7v4h-7zM531 200h6v4h-6zM477 182h7v3h-7zM477 168h7v4h-7zM471 179h6v4h-6zM471 166h6v3h-6zM464 177h7v3h-7zM464 163h7v4h-7zM457 174h7v4h-7zM404 152h6v4h-6zM404 139h6v3h-6zM397 149h7v4h-7zM397 136h7v3h-7zM390 146h7v4h-7zM390 133h7v3h-7z"/><path fill="#008000" fill-opacity="0.45" d="M578 204h6v3h-6zM571 215h7v3h-7zM571 201h7v4h-7zM564 212h7v4h-7zM564 199h7v3h-7zM558 210h6v3h-6zM497 175h7v4h-7zM491 186h6v4h-6zM491 173h6v3h-6zM484 184h7v3h-7zM484 171h7v3h-7zM410 142h7v3h-7zM397 139h7v4h-7z"/><path fill="#008000" fill-opacity="0.5" d="M437 163h7v4h-7zM410 145h7v4h-7zM404 142h6v4h-6z"/><path fill="#008000" fill-opacity="0.55" d="M651 242h7v3h-7zM651 235h7v3h-7zM645 232h6v4h-6zM484 174h7v3h-7zM477 172h7v3h-7zM457 171h7v3h-7zM451 168h6v4h-6zM444 166h7v3h-7zM430 154h7v3h-7zM424 151h6v3h-6zM417 148h7v4h-7zM404 149h6v3h-6zM397 146h7v3h-7zM390 143h7v3h-7z"/><path fill="#008000" fill-opacity="0.6" d="M645 239h6v3h-6zM638 237h7v3h-7zM564 202h7v4h-7zM531 197h6v3h-6zM524 195h7v3h-7zM517 192h7v4h-7zM504 181h7v3h-7zM497 179h7v3h-7zM491 176h6v4h-6zM471 176h6v3h-6zM464 173h7v4h-7zM444 159h7v3h-7zM437 156h7v4h-7zM417 155h7v3h-7zM410 152h7v3h-7zM390 139h7v4h-7zM390 136h7v3h-7z"/><path fill="#008000" fill-opacity="0.65" d="M631 234h7v4h-7zM624 232h7v3h-7zM618 230h6v3h-6zM611 227h7v4h-7zM604 225h7v3h-7zM598 222h6v3h-6zM584 210h7v3h-7zM578 207h6v4h-6zM571 205h7v3h-7zM551 204h7v3h-7zM544 202h7v3h-7zM537 199h7v4h-7zM517 186h7v3h-7zM511 183h6v4h-6zM491 183h6v3h-6zM484 181h7v3h-7zM477 178h7v4h-7zM464 167h7v3h-7zM457 164h7v4h-7zM451 162h6v3h-6zM430 161h7v3h-7zM424 158h6v3h-6zM404 146h6v3h-6zM397 143h7v3h-7z"/><path fill="#008000" fill-opacity="0.7" d="M604 218h7v3h-7zM598 215h6v3h-6zM591 212h7v4h-7zM571 211h7v4h-7zM564 209h7v3h-7zM558 206h6v4h-6zM537 193h7v3h-7zM531 190h6v4h-6zM524 188h7v3h-7zM511 190h6v3h-6zM504 188h7v3h-7zM497 185h7v4h-7zM471 169h6v3h-6zM464 170h7v3h-7zM457 168h7v3h-7zM417 152h7v3h-7zM410 149h7v3h-7z"/><path fill="#008000" fill-opacity="0.75" d="M638 230h7v3h-7zM631 228h7v3h-7zM624 225h7v4h-7zM618 223h6v4h-6zM611 221h7v3h-7zM584 217h7v3h-7zM578 214h6v3h-6zM558 200h6v3h-6zM551 197h7v4h-7zM544 195h7v3h-7zM484 177h7v4h-7zM477 175h7v3h-7zM471 172h6v4h-6zM437 160h7v3h-7zM430 157h7v4h-7zM424 154h6v4h-6z"/><path fill="#008000" fill-opacity="0.8" d="M591 219h7v4h-7zM544 198h7v4h-7zM537 196h7v3h-7zM497 182h7v3h-7zM491 180h6v3h-6zM451 165h6v3h-6zM444 162h7v4h-7z"/><path fill="#008000" fill-opacity="0.85" d="M564 206h7v3h-7zM558 203h6v3h-6zM551 201h7v3h-7zM511 187h6v3h-6zM504 184h7v4h-7z"/><path fill="#008000" fill-opacity="0.9" d="M631 231h7v3h-7zM624 229h7v3h-7zM578 211h6v3h-6zM571 208h7v3h-7zM524 191h7v4h-7zM517 189h7v3h-7z"/><path fill="#008000" fill-opacity="0.95" d="M645 236h6v3h-6zM638 233h7v4h-7zM591 216h7v3h-7zM584 213h7v4h-7zM531 194h6v3h-6z"/><path fill="#008000" fill-opacity="1" d="M651 238h7v4h-7zM618 227h6v3h-6zM611 224h7v3h-7zM604 221h7v4h-7zM598 218h6v4h-6z"/><path fill="#f00" fill-opacity="0.2" d="M651 242h7v1h-7zM651 230h7v2h-7zM645 238h6v2h-6zM645 225h6v3h-6zM638 234h7v2h-7zM631 230h7v3h-7zM618 225h6v1h-6zM611 221h7v1h-7zM604 216h7v1h-7zM591 188h7v1h-7zM584 183h7v2h-7zM578 178h6v2h-6zM544 175h7v2h-7zM537 171h7v2h-7zM531 167h6v2h-6zM524 163h7v2h-7zM504 133h7v2h-7zM497 129h7v2h-7zM491 125h6v2h-6zM457 126h7v2h-7zM451 123h6v2h-6zM444 120h7v1h-7zM424 91h6v2h-6zM417 87h7v3h-7zM410 84h7v3h-7z"/><path fill="#f00" fill-opacity="0.25" d="M638 221h7v3h-7zM618 207h6v1h-6zM611 202h7v2h-7zM604 197h7v2h-7zM598 192h6v2h-6zM564 188h7v2h-7zM558 184h6v1h-6zM551 180h7v1h-7zM544 172h7v3h-7zM531 148h6v2h-6zM524 144h7v2h-7zM517 140h7v2h-7zM511 136h6v3h-6zM484 141h7v1h-7zM477 137h7v1h-7zM471 133h6v2h-6zM464 130h7v1h-7zM464 127h7v3h-7zM451 104h6v2h-6zM444 100h7v3h-7zM437 97h7v3h-7zM430 94h7v2h-7zM404 101h6v1h-6zM397 98h7v1h-7zM397 94h7v4h-7zM390 95h7v1h-7zM390 91h7v4h-7zM390 78h7v3h-7z"/><path fill="#f00" fill-opacity="0.3" d="M591 206h7v2h-7zM584 202h7v1h-7zM578 197h6v1h-6zM571 193h7v1h-7zM571 189h7v4h-7zM564 185h7v3h-7zM564 171h7v4h-7zM558 181h6v3h-6zM558 167h6v3h-6zM558 165h6v2h-6zM551 176h7v4h-7zM551 163h7v3h-7zM551 161h7v2h-7zM544 157h7v2h-7zM537 152h7v2h-7zM511 155h6v2h-6zM504 152h7v1h-7zM497 148h7v1h-7zM491 144h6v2h-6zM491 141h6v3h-6zM484 137h7v4h-7zM484 124h7v3h-7zM477 134h7v3h-7zM477 120h7v3h-7zM477 118h7v2h-7zM471 130h6v3h-6zM471 117h6v3h-6zM471 114h6v3h-6zM464 111h7v2h-7zM457 107h7v3h-7zM430 113h7v2h-7zM424 110h6v2h-6zM417 107h7v1h-7zM417 103h7v4h-7zM410 104h7v1h-7zM410 100h7v4h-7zM410 87h7v3h-7zM404 97h6v4h-6zM404 84h6v3h-6zM397 81h7v3h-7zM397 78h7v3h-7zM390 75h7v3h-7z"/><path fill="#f00" fill-opacity="0.35" d="M598 211h6v1h-6zM591 203h7v3h-7zM591 189h7v4h-7zM584 198h7v4h-7zM584 185h7v3h-7zM578 194h6v3h-6zM578 180h6v4h-6zM571 176h7v3h-7zM571 174h7v2h-7zM564 169h7v2h-7zM517 159h7v2h-7zM511 152h6v3h-6zM504 148h7v4h-7zM504 135h7v3h-7zM497 145h7v3h-7zM497 131h7v3h-7zM491 127h6v4h-6zM484 121h7v3h-7zM437 116h7v2h-7zM437 113h7v3h-7zM430 110h7v3h-7zM430 96h7v4h-7zM424 107h6v3h-6zM424 93h6v3h-6zM417 90h7v3h-7zM404 81h6v3h-6z"/><path fill="#f00" fill-opacity="0.4" d="M651 239h7v3h-7zM631 216h7v4h-7zM624 226h7v3h-7zM624 212h7v4h-7zM618 222h6v3h-6zM618 208h6v4h-6zM611 217h7v4h-7zM611 204h7v3h-7zM604 213h7v3h-7zM604 199h7v3h-7zM598 208h6v3h-6zM598 194h6v4h-6zM537 168h7v3h-7zM531 164h6v3h-6zM531 150h6v4h-6zM524 160h7v3h-7zM524 146h7v4h-7zM517 156h7v3h-7zM517 142h7v4h-7zM511 139h6v3h-6zM457 123h7v3h-7zM451 120h6v3h-6zM451 106h6v4h-6zM444 116h7v4h-7zM444 103h7v3h-7zM437 100h7v3h-7z"/><path fill="#f00" fill-opacity="0.45" d="M544 159h7v3h-7zM537 154h7v4h-7zM464 113h7v3h-7zM457 110h7v3h-7zM410 97h7v3h-7zM404 94h6v3h-6zM390 81h7v3h-7z"/><path fill="#f00" fill-opacity="0.5" d="M424 103h6v4h-6zM417 100h7v3h-7zM404 87h6v3h-6zM397 84h7v3h-7z"/><path fill="#f00" fill-opacity="0.55" d="M651 232h7v3h-7zM645 228h6v3h-6zM491 137h6v4h-6zM484 134h7v3h-7zM457 113h7v3h-7zM451 110h6v3h-6zM437 110h7v3h-7zM430 106h7v4h-7zM410 90h7v4h-7zM397 91h7v3h-7zM390 88h7v3h-7z"/><path fill="#f00" fill-opacity="0.6" d="M645 235h6v3h-6zM638 224h7v3h-7zM631 220h7v3h-7zM578 190h6v4h-6zM571 186h7v3h-7zM531 154h6v3h-6zM511 149h6v3h-6zM504 145h7v3h-7zM497 141h7v4h-7zM471 120h6v3h-6zM464 116h7v4h-7zM451 116h6v4h-6zM444 113h7v3h-7zM424 96h6v4h-6zM417 93h7v4h-7z"/><path fill="#f00" fill-opacity="0.65" d="M638 230h7v4h-7zM631 226h7v4h-7zM624 216h7v3h-7zM618 212h6v3h-6zM611 207h7v4h-7zM598 204h6v4h-6zM591 200h7v3h-7zM584 195h7v3h-7zM558 170h6v4h-6zM551 166h7v4h-7zM544 162h7v3h-7zM537 158h7v3h-7zM531 161h6v3h-6zM524 157h7v3h-7zM517 153h7v3h-7zM491 131h6v3h-6zM484 127h7v3h-7zM477 123h7v4h-7zM471 127h6v3h-6zM464 123h7v4h-7zM457 120h7v3h-7zM437 103h7v3h-7zM430 103h7v3h-7zM430 100h7v3h-7zM424 100h6v3h-6zM397 87h7v4h-7zM390 84h7v4h-7z"/><path fill="#f00" fill-opacity="0.7" d="M624 222h7v4h-7zM618 218h6v4h-6zM611 214h7v3h-7zM604 209h7v4h-7zM578 184h6v3h-6zM571 179h7v4h-7zM564 175h7v3h-7zM551 173h7v3h-7zM544 169h7v3h-7zM537 165h7v3h-7zM511 142h6v3h-6zM504 138h7v4h-7zM497 134h7v4h-7zM477 130h7v4h-7zM444 106h7v4h-7zM437 106h7v4h-7zM404 90h6v4h-6z"/><path fill="#f00" fill-opacity="0.75" d="M598 198h6v3h-6zM591 193h7v3h-7zM584 188h7v4h-7zM564 182h7v3h-7zM558 177h6v4h-6zM524 150h7v3h-7zM517 146h7v3h-7zM451 113h6v3h-6zM444 110h7v3h-7zM417 97h7v3h-7zM410 94h7v3h-7z"/><path fill="#f00" fill-opacity="0.8" d="M604 202h7v4h-7zM511 145h6v4h-6zM464 120h7v3h-7zM457 116h7v4h-7z"/><path fill="#f00" fill-opacity="0.85" d="M524 153h7v4h-7zM517 149h7v4h-7zM477 127h7v3h-7zM471 123h6v4h-6z"/><path fill="#f00" fill-opacity="0.9" d="M604 206h7v3h-7zM598 201h6v3h-6zM591 196h7v4h-7zM544 165h7v4h-7zM537 161h7v4h-7zM531 157h6v4h-6zM491 134h6v3h-6zM484 130h7v4h-7z"/><path fill="#f00" fill-opacity="0.95" d="M624 219h7v3h-7zM618 215h6v3h-6zM611 211h7v3h-7zM564 178h7v4h-7zM558 174h6v3h-6zM551 170h7v3h-7zM504 142h7v3h-7zM497 138h7v3h-7z"/><path fill="#f00" fill-opacity="1" d="M651 235h7v4h-7zM645 231h6v4h-6zM638 227h7v3h-7zM631 223h7v3h-7zM584 192h7v3h-7zM578 187h6v3h-6zM571 183h7v3h-7z"/><path fill="#00f" fill-opacity="0.15" d="M624 231h7v1h-7z"/><path fill="#00f" fill-opacity="0.2" d="M598 244h6v1h-6zM591 242h7v2h-7zM584 241h7v1h-7zM578 239h6v2h-6zM558 216h6v2h-6zM551 214h7v3h-7zM544 213h7v2h-7zM497 220h7v3h-7zM491 219h6v3h-6zM424 177h6v1h-6zM417 174h7v2h-7zM410 197h7v1h-7zM410 172h7v1h-7zM404 194h6v2h-6zM404 169h6v2h-6zM397 192h7v1h-7zM390 190h7v1h-7z"/><path fill="#00f" fill-opacity="0.25" d="M651 239h7v1h-7zM645 237h6v2h-6zM604 245h7v1h-7zM584 222h7v2h-7zM578 220h6v2h-6zM571 219h7v2h-7zM564 217h7v3h-7zM531 229h6v2h-6zM524 227h7v3h-7zM517 226h7v2h-7zM511 224h6v3h-6zM504 222h7v3h-7zM497 201h7v2h-7zM491 199h6v3h-6zM484 197h7v3h-7zM477 195h7v3h-7zM471 193h6v3h-6zM464 191h7v3h-7zM437 203h7v3h-7zM437 181h7v1h-7zM430 200h7v4h-7zM430 179h7v1h-7zM424 198h6v4h-6zM417 199h7v1h-7zM417 196h7v3h-7zM410 194h7v3h-7zM397 168h7v4h-7zM390 166h7v3h-7z"/><path fill="#00f" fill-opacity="0.3" d="M638 235h7v3h-7zM611 227h7v2h-7zM604 226h7v2h-7zM598 224h6v3h-6zM591 223h7v2h-7zM564 236h7v2h-7zM558 235h6v2h-6zM551 234h7v2h-7zM544 232h7v2h-7zM537 230h7v3h-7zM531 210h6v2h-6zM524 208h7v2h-7zM517 206h7v3h-7zM511 204h6v3h-6zM504 203h7v2h-7zM464 211h7v3h-7zM457 209h7v3h-7zM451 207h6v3h-6zM444 205h7v3h-7zM424 178h6v3h-6zM417 176h7v3h-7zM410 173h7v4h-7zM404 171h6v3h-6zM390 164h7v2h-7z"/><path fill="#00f" fill-opacity="0.35" d="M631 233h7v4h-7zM624 245h7v1h-7zM618 229h6v2h-6zM571 238h7v2h-7zM537 211h7v3h-7zM484 217h7v3h-7zM477 215h7v3h-7zM471 213h6v3h-6zM451 187h6v3h-6zM444 184h7v4h-7zM437 182h7v4h-7zM430 180h7v4h-7zM397 189h7v3h-7zM397 167h7v1h-7zM390 186h7v4h-7z"/><path fill="#00f" fill-opacity="0.4" d="M624 232h7v3h-7zM618 244h6v2h-6zM598 240h6v4h-6zM457 189h7v3h-7zM430 197h7v3h-7zM404 191h6v3h-6z"/><path fill="#00f" fill-opacity="0.45" d="M611 243h7v3h-7zM604 242h7v3h-7zM524 210h7v4h-7zM451 203h6v4h-6zM451 190h6v3h-6zM444 201h7v4h-7zM444 188h7v3h-7zM437 199h7v4h-7zM437 186h7v3h-7zM397 179h7v3h-7zM397 172h7v3h-7zM390 183h7v3h-7zM390 169h7v4h-7z"/><path fill="#00f" fill-opacity="0.5" d="M618 231h6v3h-6zM611 229h7v4h-7zM604 228h7v3h-7zM544 215h7v3h-7zM537 227h7v3h-7zM537 214h7v3h-7zM531 225h6v4h-6zM531 212h6v3h-6zM524 224h7v3h-7zM517 222h7v4h-7zM471 210h6v3h-6zM471 196h6v3h-6zM464 208h7v3h-7zM464 194h7v3h-7zM457 206h7v3h-7zM457 192h7v3h-7zM424 185h6v3h-6zM417 182h7v4h-7zM410 190h7v4h-7zM410 183h7v4h-7zM410 177h7v3h-7zM404 188h6v3h-6zM404 181h6v3h-6zM404 174h6v4h-6zM397 185h7v4h-7zM397 182h7v3h-7zM390 179h7v4h-7z"/><path fill="#00f" fill-opacity="0.55" d="M584 237h7v4h-7zM578 236h6v3h-6zM571 235h7v3h-7zM571 221h7v3h-7zM564 233h7v3h-7zM564 220h7v3h-7zM558 232h6v3h-6zM558 218h6v4h-6zM551 230h7v4h-7zM551 217h7v3h-7zM544 229h7v3h-7zM491 202h6v3h-6zM484 213h7v4h-7zM484 200h7v3h-7zM477 211h7v4h-7zM477 198h7v3h-7zM437 189h7v3h-7zM430 187h7v3h-7zM430 184h7v3h-7zM424 195h6v3h-6zM424 188h6v3h-6zM424 181h6v4h-6zM417 192h7v4h-7zM417 186h7v3h-7zM417 179h7v3h-7zM410 187h7v3h-7zM404 184h6v4h-6zM390 173h7v3h-7z"/><path fill="#00f" fill-opacity="0.6" d="M591 239h7v3h-7zM591 225h7v4h-7zM584 224h7v3h-7zM578 222h6v4h-6zM517 209h7v3h-7zM511 207h6v3h-6zM504 219h7v3h-7zM504 205h7v4h-7zM497 217h7v3h-7zM497 203h7v4h-7zM491 215h6v4h-6zM464 204h7v4h-7zM457 202h7v4h-7zM451 193h6v4h-6zM444 191h7v4h-7zM430 190h7v4h-7zM424 191h6v4h-6zM417 189h7v3h-7zM404 178h6v3h-6zM397 175h7v4h-7zM390 176h7v3h-7z"/><path fill="#00f" fill-opacity="0.65" d="M598 227h6v3h-6zM511 220h6v4h-6zM477 208h7v3h-7zM477 205h7v3h-7zM471 206h6v4h-6zM457 195h7v4h-7zM444 195h7v3h-7zM437 196h7v3h-7zM437 192h7v4h-7zM430 194h7v3h-7zM410 180h7v3h-7z"/><path fill="#00f" fill-opacity="0.7" d="M504 209h7v3h-7zM497 207h7v3h-7zM491 208h6v4h-6zM484 210h7v3h-7zM484 207h7v3h-7zM471 199h6v4h-6zM464 197h7v4h-7zM457 199h7v3h-7zM451 200h6v3h-6zM451 197h6v3h-6zM444 198h7v3h-7z"/><path fill="#00f" fill-opacity="0.75" d="M651 240h7v4h-7zM638 245h7v1h-7zM631 243h7v3h-7zM537 224h7v3h-7zM517 212h7v3h-7zM511 210h6v4h-6zM497 214h7v3h-7zM497 210h7v4h-7zM491 212h6v3h-6zM477 201h7v4h-7zM471 203h6v3h-6zM464 201h7v3h-7z"/><path fill="#00f" fill-opacity="0.8" d="M624 242h7v3h-7zM618 241h6v3h-6zM584 227h7v4h-7zM558 228h6v4h-6zM558 225h6v3h-6zM551 227h7v3h-7zM544 225h7v4h-7zM531 215h6v4h-6zM524 214h7v3h-7zM511 214h6v3h-6zM504 215h7v4h-7zM504 212h7v3h-7zM491 205h6v3h-6zM484 203h7v4h-7z"/><path fill="#00f" fill-opacity="0.85" d="M645 239h6v4h-6zM638 238h7v3h-7zM604 231h7v4h-7zM598 230h6v3h-6zM591 229h7v3h-7zM578 229h6v4h-6zM571 231h7v4h-7zM571 228h7v3h-7zM564 230h7v3h-7zM564 226h7v4h-7zM544 218h7v4h-7zM537 217h7v3h-7zM524 217h7v3h-7zM517 219h7v3h-7zM517 215h7v4h-7zM511 217h6v3h-6z"/><path fill="#00f" fill-opacity="0.9" d="M651 244h7v2h-7zM645 243h6v3h-6zM631 237h7v3h-7zM624 235h7v4h-7zM618 234h6v3h-6zM611 233h7v3h-7zM598 233h6v4h-6zM591 235h7v4h-7zM591 232h7v3h-7zM584 234h7v3h-7zM584 231h7v3h-7zM578 233h6v3h-6zM564 223h7v3h-7zM558 222h6v3h-6zM551 220h7v3h-7zM537 220h7v4h-7zM531 222h6v3h-6zM531 219h6v3h-6zM524 220h7v4h-7z"/><path fill="#00f" fill-opacity="0.95" d="M618 237h6v4h-6zM611 239h7v4h-7zM611 236h7v3h-7zM604 238h7v4h-7zM604 235h7v3h-7zM598 237h6v3h-6zM578 226h6v3h-6zM571 224h7v4h-7zM551 223h7v4h-7zM544 222h7v3h-7z"/><path fill="#00f" fill-opacity="1" d="M638 241h7v4h-7zM631 240h7v3h-7zM624 239h7v3h-7z"/></g></g><circle cx="403.7" cy="142.8" r="5.9" fill="#fff" stroke="#000" stroke-width="1.5"/><circle cx="443.8" cy="156.9" r="5.9" fill="#fff" stroke="#000" stroke-width="1.5"/><circle cx="457.2" cy="163.7" r="5.9" fill="#fff" stroke="#000" stroke-width="1.5"/><circle cx="470.6" cy="166.5" r="5.9" fill="#fff" stroke="#000" stroke-width="1.5"/><circle cx="510.7" cy="193.0" r="5.9" fill="#fff" stroke="#000" stroke-width="1.5"/><circle cx="524.1" cy="189.0" r="5.9" fill="#fff" stroke="#000" stroke-width="1.5"/><g clip-path="url(#cb1)"><g shape-rendering="crispEdges" filter="url(#bl)"><path fill="#008000" fill-opacity="0.2" d="M618 435h6v1h-6zM611 432h7v1h-7zM604 429h7v1h-7zM564 427h7v1h-7zM558 424h6v1h-6zM537 396h7v1h-7zM531 392h6v2h-6zM524 389h7v2h-7zM484 389h7v1h-7zM477 386h7v1h-7zM471 382h6v2h-6zM451 355h6v1h-6zM444 351h7v2h-7zM404 353h6v2h-6zM397 350h7v2h-7zM390 347h7v2h-7z"/><path fill="#008000" fill-opacity="0.25" d="M591 440h7v2h-7zM584 437h7v1h-7zM578 434h6v1h-6zM571 430h7v2h-7zM558 405h6v2h-6zM551 402h7v2h-7zM544 399h7v1h-7zM511 401h6v2h-6zM504 398h7v1h-7zM497 395h7v1h-7zM491 392h6v1h-6zM477 367h7v2h-7zM471 364h6v2h-6zM464 361h7v1h-7zM457 358h7v1h-7zM430 364h7v2h-7zM424 361h6v2h-6zM417 359h7v1h-7zM410 356h7v1h-7zM410 352h7v4h-7zM397 331h7v2h-7zM390 328h7v3h-7z"/><path fill="#008000" fill-opacity="0.3" d="M618 453h6v1h-6zM611 450h7v1h-7zM604 447h7v1h-7zM598 444h6v1h-6zM584 420h7v3h-7zM584 419h7v1h-7zM578 430h6v4h-6zM578 415h6v2h-6zM571 412h7v2h-7zM564 409h7v1h-7zM537 414h7v1h-7zM531 411h6v1h-6zM524 408h7v1h-7zM517 404h7v2h-7zM504 395h7v3h-7zM504 381h7v4h-7zM504 379h7v2h-7zM497 391h7v4h-7zM497 376h7v2h-7zM491 373h6v2h-6zM484 370h7v2h-7zM457 376h7v2h-7zM451 373h6v2h-6zM444 370h7v2h-7zM437 367h7v2h-7zM430 361h7v3h-7zM430 348h7v3h-7zM424 358h6v3h-6zM424 345h6v3h-6zM424 343h6v2h-6zM417 355h7v4h-7zM417 342h7v3h-7zM417 340h7v2h-7zM410 337h7v2h-7zM404 334h6v2h-6z"/><path fill="#008000" fill-opacity="0.35" d="M651 462h7v1h-7zM651 450h7v2h-7zM645 460h6v1h-6zM645 447h6v3h-6zM638 457h7v3h-7zM638 444h7v3h-7zM631 455h7v3h-7zM631 441h7v4h-7zM624 452h7v4h-7zM624 439h7v3h-7zM618 436h6v4h-6zM611 433h7v4h-7zM604 444h7v3h-7zM604 430h7v3h-7zM598 440h6v4h-6zM598 427h6v3h-6zM598 425h6v2h-6zM591 437h7v3h-7zM591 423h7v4h-7zM591 422h7v1h-7zM584 434h7v3h-7zM551 421h7v1h-7zM544 417h7v2h-7zM531 394h6v3h-6zM524 404h7v4h-7zM524 391h7v3h-7zM517 401h7v3h-7zM517 388h7v3h-7zM517 386h7v2h-7zM511 398h6v3h-6zM511 384h6v4h-6zM511 383h6v1h-6zM464 379h7v2h-7zM457 359h7v4h-7zM451 370h6v3h-6zM451 356h6v4h-6zM444 367h7v3h-7zM444 353h7v4h-7zM437 364h7v3h-7zM437 350h7v4h-7zM437 349h7v1h-7zM430 346h7v2h-7z"/><path fill="#008000" fill-opacity="0.4" d="M618 450h6v3h-6zM611 447h7v3h-7zM558 407h6v3h-6zM551 417h7v4h-7zM551 404h7v3h-7zM544 414h7v3h-7zM544 400h7v4h-7zM537 411h7v3h-7zM537 397h7v4h-7zM531 407h6v4h-6zM477 382h7v4h-7zM477 369h7v3h-7zM471 379h6v3h-6zM471 366h6v3h-6zM464 376h7v3h-7zM464 362h7v4h-7zM457 373h7v3h-7zM404 350h6v3h-6zM404 336h6v3h-6zM397 347h7v3h-7zM397 333h7v4h-7zM390 344h7v3h-7zM390 331h7v3h-7z"/><path fill="#008000" fill-opacity="0.45" d="M578 417h6v3h-6zM571 427h7v3h-7zM571 414h7v3h-7zM564 424h7v3h-7zM564 410h7v4h-7zM558 420h6v4h-6zM497 378h7v3h-7zM491 388h6v4h-6zM491 375h6v3h-6zM484 385h7v4h-7zM484 372h7v3h-7zM410 339h7v3h-7zM397 337h7v3h-7z"/><path fill="#008000" fill-opacity="0.5" d="M437 361h7v3h-7zM410 342h7v4h-7zM404 339h6v4h-6z"/><path fill="#008000" fill-opacity="0.55" d="M651 459h7v3h-7zM651 452h7v4h-7zM645 450h6v3h-6zM484 375h7v3h-7zM477 372h7v3h-7zM457 370h7v3h-7zM451 367h6v3h-6zM444 364h7v3h-7zM430 351h7v3h-7zM424 348h6v3h-6zM417 345h7v3h-7zM404 346h6v4h-6zM397 343h7v4h-7zM390 341h7v3h-7z"/><path fill="#008000" fill-opacity="0.6" d="M645 456h6v4h-6zM638 454h7v3h-7zM564 414h7v3h-7zM531 404h6v3h-6zM524 401h7v3h-7zM517 398h7v3h-7zM504 385h7v3h-7zM497 381h7v4h-7zM491 378h6v4h-6zM471 376h6v3h-6zM464 373h7v3h-7zM444 357h7v3h-7zM437 354h7v3h-7zM417 352h7v3h-7zM410 349h7v3h-7zM390 337h7v4h-7zM390 334h7v3h-7z"/><path fill="#008000" fill-opacity="0.65" d="M631 451h7v4h-7zM624 449h7v3h-7zM618 446h6v4h-6zM611 443h7v4h-7zM604 440h7v4h-7zM598 437h6v3h-6zM584 423h7v4h-7zM578 420h6v4h-6zM571 417h7v3h-7zM551 414h7v3h-7zM544 411h7v3h-7zM537 407h7v4h-7zM517 391h7v3h-7zM511 388h6v3h-6zM491 385h6v3h-6zM484 382h7v3h-7zM477 379h7v3h-7zM464 366h7v3h-7zM457 363h7v3h-7zM451 360h6v3h-6zM430 358h7v3h-7zM424 355h6v3h-6zM404 343h6v3h-6zM397 340h7v3h-7z"/><path fill="#008000" fill-opacity="0.7" d="M604 433h7v4h-7zM598 430h6v3h-6zM591 427h7v3h-7zM571 424h7v3h-7zM564 420h7v4h-7zM558 417h6v3h-6zM537 401h7v3h-7zM531 397h6v4h-6zM524 394h7v3h-7zM511 394h6v4h-6zM504 391h7v4h-7zM497 388h7v3h-7zM471 369h6v3h-6zM464 369h7v4h-7zM457 366h7v4h-7zM417 348h7v4h-7zM410 346h7v3h-7z"/><path fill="#008000" fill-opacity="0.75" d="M638 447h7v4h-7zM631 445h7v3h-7zM624 442h7v4h-7zM618 440h6v3h-6zM611 437h7v3h-7zM584 430h7v4h-7zM578 427h6v3h-6zM558 410h6v4h-6zM551 407h7v3h-7zM544 404h7v3h-7zM484 378h7v4h-7zM477 375h7v4h-7zM471 372h6v4h-6zM437 357h7v4h-7zM430 354h7v4h-7zM424 351h6v4h-6z"/><path fill="#008000" fill-opacity="0.8" d="M591 434h7v3h-7zM544 407h7v4h-7zM537 404h7v3h-7zM497 385h7v3h-7zM491 382h6v3h-6zM451 363h6v4h-6zM444 360h7v4h-7z"/><path fill="#008000" fill-opacity="0.85" d="M564 417h7v3h-7zM558 414h6v3h-6zM551 410h7v4h-7zM511 391h6v3h-6zM504 388h7v3h-7z"/><path fill="#008000" fill-opacity="0.9" d="M631 448h7v3h-7zM624 446h7v3h-7zM578 424h6v3h-6zM571 420h7v4h-7zM524 397h7v4h-7zM517 394h7v4h-7z"/><path fill="#008000" fill-opacity="0.95" d="M645 453h6v3h-6zM638 451h7v3h-7zM591 430h7v4h-7zM584 427h7v3h-7zM531 401h6v3h-6z"/><path fill="#008000" fill-opacity="1" d="M651 456h7v3h-7zM618 443h6v3h-6zM611 440h7v3h-7zM604 437h7v3h-7zM598 433h6v4h-6z"/><path fill="#f00" fill-opacity="0.2" d="M651 459h7v1h-7zM651 447h7v2h-7zM645 455h6v2h-6zM645 443h6v2h-6zM638 451h7v2h-7zM631 447h7v3h-7zM618 442h6v1h-6zM611 438h7v1h-7zM604 433h7v1h-7zM591 405h7v2h-7zM584 400h7v2h-7zM578 396h6v1h-6zM544 393h7v1h-7zM537 389h7v1h-7zM531 384h6v2h-6zM524 380h7v2h-7zM504 350h7v2h-7zM497 346h7v2h-7zM491 342h6v3h-6zM457 344h7v1h-7zM451 340h6v2h-6zM444 337h7v2h-7zM424 308h6v2h-6zM417 305h7v2h-7zM410 301h7v3h-7z"/><path fill="#f00" fill-opacity="0.25" d="M638 438h7v3h-7zM618 424h6v1h-6zM611 419h7v2h-7zM604 414h7v2h-7zM598 410h6v1h-6zM564 405h7v2h-7zM558 401h6v1h-6zM551 397h7v1h-7zM544 389h7v4h-7zM531 366h6v2h-6zM524 362h7v2h-7zM517 358h7v2h-7zM511 354h6v2h-6zM484 358h7v1h-7zM477 354h7v2h-7zM471 351h6v1h-6zM464 347h7v2h-7zM464 344h7v3h-7zM451 321h6v2h-6zM444 318h7v2h-7zM437 314h7v3h-7zM430 311h7v3h-7zM404 318h6v1h-6zM397 315h7v1h-7zM397 311h7v4h-7zM390 312h7v1h-7zM390 308h7v4h-7zM390 295h7v3h-7z"/><path fill="#f00" fill-opacity="0.3" d="M591 424h7v1h-7zM584 419h7v1h-7zM578 414h6v2h-6zM571 410h7v1h-7zM571 407h7v3h-7zM564 402h7v3h-7zM564 389h7v3h-7zM558 398h6v3h-6zM558 384h6v4h-6zM558 382h6v2h-6zM551 393h7v4h-7zM551 380h7v3h-7zM551 378h7v2h-7zM544 374h7v2h-7zM537 370h7v2h-7zM511 373h6v1h-6zM504 369h7v1h-7zM497 365h7v2h-7zM491 361h6v2h-6zM491 358h6v3h-6zM484 354h7v4h-7zM484 341h7v3h-7zM477 351h7v3h-7zM477 337h7v4h-7zM477 335h7v2h-7zM471 347h6v4h-6zM471 334h6v3h-6zM471 331h6v3h-6zM464 328h7v2h-7zM457 324h7v3h-7zM430 330h7v2h-7zM424 327h6v2h-6zM417 324h7v2h-7zM417 321h7v3h-7zM410 321h7v2h-7zM410 318h7v3h-7zM410 304h7v3h-7zM404 314h6v4h-6zM404 301h6v3h-6zM397 298h7v3h-7zM397 295h7v3h-7zM390 292h7v3h-7z"/><path fill="#f00" fill-opacity="0.35" d="M598 428h6v2h-6zM591 420h7v4h-7zM591 407h7v3h-7zM584 416h7v3h-7zM584 402h7v3h-7zM578 411h6v3h-6zM578 397h6v4h-6zM571 393h7v3h-7zM571 391h7v2h-7zM564 387h7v2h-7zM517 377h7v1h-7zM511 369h6v4h-6zM504 365h7v4h-7zM504 352h7v3h-7zM497 362h7v3h-7zM497 348h7v4h-7zM491 345h6v3h-6zM484 339h7v2h-7zM437 334h7v1h-7zM437 330h7v4h-7zM430 327h7v3h-7zM430 314h7v3h-7zM424 324h6v3h-6zM424 310h6v4h-6zM417 307h7v4h-7zM404 298h6v3h-6z"/><path fill="#f00" fill-opacity="0.4" d="M651 456h7v3h-7zM631 433h7v4h-7zM624 443h7v3h-7zM624 429h7v4h-7zM618 439h6v3h-6zM618 425h6v4h-6zM611 435h7v3h-7zM611 421h7v3h-7zM604 430h7v3h-7zM604 416h7v4h-7zM598 425h6v3h-6zM598 411h6v4h-6zM537 385h7v4h-7zM531 381h6v3h-6zM531 368h6v3h-6zM524 377h7v3h-7zM524 364h7v3h-7zM517 373h7v4h-7zM517 360h7v3h-7zM511 356h6v3h-6zM457 340h7v4h-7zM451 337h6v3h-6zM451 323h6v4h-6zM444 334h7v3h-7zM444 320h7v3h-7zM437 317h7v3h-7z"/><path fill="#f00" fill-opacity="0.45" d="M544 376h7v3h-7zM537 372h7v3h-7zM464 330h7v4h-7zM457 327h7v3h-7zM410 314h7v4h-7zM404 311h6v3h-6zM390 298h7v4h-7z"/><path fill="#f00" fill-opacity="0.5" d="M424 320h6v4h-6zM417 317h7v4h-7zM404 304h6v4h-6zM397 301h7v4h-7z"/><path fill="#f00" fill-opacity="0.55" d="M651 449h7v4h-7zM645 445h6v3h-6zM491 355h6v3h-6zM484 351h7v3h-7zM457 330h7v4h-7zM451 327h6v3h-6zM437 327h7v3h-7zM430 324h7v3h-7zM410 307h7v4h-7zM397 308h7v3h-7zM390 305h7v3h-7z"/><path fill="#f00" fill-opacity="0.6" d="M645 452h6v3h-6zM638 441h7v3h-7zM631 437h7v3h-7zM578 408h6v3h-6zM571 403h7v4h-7zM531 371h6v3h-6zM511 366h6v3h-6zM504 362h7v3h-7zM497 358h7v4h-7zM471 337h6v3h-6zM464 334h7v3h-7zM451 334h6v3h-6zM444 330h7v4h-7zM424 314h6v3h-6zM417 311h7v3h-7z"/><path fill="#f00" fill-opacity="0.65" d="M638 448h7v3h-7zM631 444h7v3h-7zM624 433h7v3h-7zM618 429h6v3h-6zM611 424h7v4h-7zM598 422h6v3h-6zM591 417h7v3h-7zM584 412h7v4h-7zM558 388h6v3h-6zM551 383h7v4h-7zM544 379h7v4h-7zM537 375h7v3h-7zM531 378h6v3h-6zM524 374h7v3h-7zM517 370h7v3h-7zM491 348h6v3h-6zM484 344h7v4h-7zM477 341h7v3h-7zM471 344h6v3h-6zM464 340h7v4h-7zM457 337h7v3h-7zM437 320h7v4h-7zM430 320h7v4h-7zM430 317h7v3h-7zM424 317h6v3h-6zM397 305h7v3h-7zM390 302h7v3h-7z"/><path fill="#f00" fill-opacity="0.7" d="M624 440h7v3h-7zM618 436h6v3h-6zM611 431h7v4h-7zM604 426h7v4h-7zM578 401h6v3h-6zM571 396h7v4h-7zM564 392h7v3h-7zM551 390h7v3h-7zM544 386h7v3h-7zM537 382h7v3h-7zM511 359h6v4h-6zM504 355h7v4h-7zM497 352h7v3h-7zM477 347h7v4h-7zM444 323h7v4h-7zM437 324h7v3h-7zM404 308h6v3h-6z"/><path fill="#f00" fill-opacity="0.75" d="M598 415h6v3h-6zM591 410h7v3h-7zM584 405h7v4h-7zM564 399h7v3h-7zM558 394h6v4h-6zM524 367h7v3h-7zM517 363h7v3h-7zM451 330h6v4h-6zM444 327h7v3h-7zM417 314h7v3h-7zM410 311h7v3h-7z"/><path fill="#f00" fill-opacity="0.8" d="M604 420h7v3h-7zM511 363h6v3h-6zM464 337h7v3h-7zM457 334h7v3h-7z"/><path fill="#f00" fill-opacity="0.85" d="M524 370h7v4h-7zM517 366h7v4h-7zM477 344h7v3h-7zM471 340h6v4h-6z"/><path fill="#f00" fill-opacity="0.9" d="M604 423h7v3h-7zM598 418h6v4h-6zM591 413h7v4h-7zM544 383h7v3h-7zM537 378h7v4h-7zM531 374h6v4h-6zM491 351h6v4h-6zM484 348h7v3h-7z"/><path fill="#f00" fill-opacity="0.95" d="M624 436h7v4h-7zM618 432h6v4h-6zM611 428h7v3h-7zM564 395h7v4h-7zM558 391h6v3h-6zM551 387h7v3h-7zM504 359h7v3h-7zM497 355h7v3h-7z"/><path fill="#f00" fill-opacity="1" d="M651 453h7v3h-7zM645 448h6v4h-6zM638 444h7v4h-7zM631 440h7v4h-7zM584 409h7v3h-7zM578 404h6v4h-6zM571 400h7v3h-7z"/><path fill="#00f" fill-opacity="0.15" d="M624 448h7v1h-7z"/><path fill="#00f" fill-opacity="0.2" d="M598 461h6v1h-6zM591 459h7v2h-7zM584 458h7v2h-7zM578 457h6v1h-6zM558 433h6v2h-6zM551 432h7v2h-7zM544 430h7v2h-7zM497 438h7v3h-7zM491 436h6v3h-6zM424 394h6v1h-6zM417 392h7v1h-7zM410 414h7v1h-7zM410 389h7v1h-7zM404 412h6v1h-6zM404 387h6v1h-6zM397 409h7v2h-7zM390 407h7v1h-7z"/><path fill="#00f" fill-opacity="0.25" d="M651 456h7v2h-7zM645 454h6v2h-6zM604 462h7v1h-7zM584 439h7v2h-7zM578 438h6v2h-6zM571 436h7v2h-7zM564 435h7v2h-7zM531 446h6v3h-6zM524 444h7v3h-7zM517 443h7v2h-7zM511 441h6v3h-6zM504 439h7v3h-7zM497 418h7v3h-7zM491 416h6v3h-6zM484 414h7v3h-7zM477 412h7v3h-7zM471 410h6v3h-6zM464 408h7v3h-7zM444 401h7v1h-7zM437 420h7v3h-7zM437 399h7v1h-7zM430 418h7v3h-7zM430 396h7v1h-7zM424 419h6v1h-6zM424 415h6v4h-6zM417 416h7v1h-7zM417 413h7v3h-7zM410 411h7v3h-7zM397 386h7v3h-7zM390 383h7v3h-7z"/><path fill="#00f" fill-opacity="0.3" d="M638 452h7v3h-7zM611 444h7v3h-7zM604 443h7v2h-7zM598 442h6v2h-6zM591 440h7v2h-7zM564 454h7v2h-7zM558 452h6v2h-6zM551 451h7v2h-7zM544 449h7v2h-7zM537 448h7v2h-7zM531 427h6v2h-6zM524 425h7v2h-7zM517 424h7v2h-7zM511 422h6v2h-6zM504 420h7v2h-7zM464 428h7v3h-7zM457 426h7v3h-7zM451 424h6v3h-6zM444 422h7v3h-7zM424 395h6v3h-6zM417 393h7v3h-7zM410 390h7v4h-7zM404 388h6v3h-6zM390 381h7v2h-7z"/><path fill="#00f" fill-opacity="0.35" d="M631 450h7v4h-7zM618 446h6v2h-6zM571 455h7v2h-7zM537 429h7v2h-7zM484 434h7v3h-7zM477 432h7v3h-7zM471 430h6v3h-6zM451 404h6v3h-6zM444 402h7v3h-7zM437 400h7v3h-7zM430 397h7v4h-7zM397 406h7v3h-7zM397 384h7v2h-7zM390 403h7v4h-7z"/><path fill="#00f" fill-opacity="0.4" d="M624 449h7v4h-7zM618 461h6v2h-6zM598 457h6v4h-6zM457 406h7v3h-7zM430 414h7v4h-7zM404 408h6v4h-6z"/><path fill="#00f" fill-opacity="0.45" d="M611 460h7v3h-7zM604 459h7v3h-7zM524 427h7v4h-7zM451 421h6v3h-6zM451 407h6v4h-6zM444 419h7v3h-7zM444 405h7v3h-7zM437 416h7v4h-7zM437 403h7v3h-7zM397 396h7v3h-7zM397 389h7v3h-7zM390 400h7v3h-7zM390 386h7v4h-7z"/><path fill="#00f" fill-opacity="0.5" d="M618 448h6v3h-6zM611 447h7v3h-7zM604 445h7v4h-7zM544 432h7v4h-7zM537 444h7v4h-7zM537 431h7v3h-7zM531 443h6v3h-6zM531 429h6v3h-6zM524 441h7v3h-7zM517 439h7v4h-7zM471 427h6v3h-6zM471 413h6v4h-6zM464 425h7v3h-7zM464 411h7v4h-7zM457 423h7v3h-7zM457 409h7v4h-7zM424 402h6v3h-6zM417 400h7v3h-7zM410 407h7v4h-7zM410 401h7v3h-7zM410 394h7v3h-7zM404 405h6v3h-6zM404 398h6v4h-6zM404 391h6v4h-6zM397 402h7v4h-7zM397 399h7v3h-7zM390 397h7v3h-7z"/><path fill="#00f" fill-opacity="0.55" d="M584 455h7v3h-7zM578 453h6v4h-6zM571 452h7v3h-7zM571 438h7v4h-7zM564 450h7v4h-7zM564 437h7v3h-7zM558 449h6v3h-6zM558 435h6v4h-6zM551 447h7v4h-7zM551 434h7v3h-7zM544 446h7v3h-7zM491 419h6v3h-6zM484 431h7v3h-7zM484 417h7v3h-7zM477 429h7v3h-7zM477 415h7v3h-7zM437 406h7v4h-7zM430 404h7v3h-7zM430 401h7v3h-7zM424 412h6v3h-6zM424 405h6v4h-6zM424 398h6v4h-6zM417 410h7v3h-7zM417 403h7v3h-7zM417 396h7v4h-7zM410 404h7v3h-7zM404 402h6v3h-6zM390 390h7v3h-7z"/><path fill="#00f" fill-opacity="0.6" d="M591 456h7v3h-7zM591 442h7v4h-7zM584 441h7v3h-7zM578 440h6v3h-6zM517 426h7v3h-7zM511 424h6v4h-6zM504 436h7v3h-7zM504 422h7v4h-7zM497 434h7v4h-7zM497 421h7v3h-7zM491 432h6v4h-6zM464 421h7v4h-7zM457 419h7v4h-7zM451 411h6v3h-6zM444 408h7v4h-7zM430 407h7v4h-7zM424 409h6v3h-6zM417 406h7v4h-7zM404 395h6v3h-6zM397 392h7v4h-7zM390 393h7v4h-7z"/><path fill="#00f" fill-opacity="0.65" d="M598 444h6v3h-6zM511 438h6v3h-6zM477 425h7v4h-7zM477 422h7v3h-7zM471 423h6v4h-6zM457 413h7v3h-7zM444 412h7v3h-7zM437 413h7v3h-7zM437 410h7v3h-7zM430 411h7v3h-7zM410 397h7v4h-7z"/><path fill="#00f" fill-opacity="0.7" d="M504 426h7v3h-7zM497 424h7v3h-7zM491 426h6v3h-6zM484 427h7v4h-7zM484 424h7v3h-7zM471 417h6v3h-6zM464 415h7v3h-7zM457 416h7v3h-7zM451 417h6v4h-6zM451 414h6v3h-6zM444 415h7v4h-7z"/><path fill="#00f" fill-opacity="0.75" d="M651 458h7v3h-7zM638 462h7v1h-7zM631 461h7v2h-7zM537 441h7v3h-7zM517 429h7v4h-7zM511 428h6v3h-6zM497 431h7v3h-7zM497 427h7v4h-7zM491 429h6v3h-6zM477 418h7v4h-7zM471 420h6v3h-6zM464 418h7v3h-7z"/><path fill="#00f" fill-opacity="0.8" d="M624 459h7v4h-7zM618 458h6v3h-6zM584 444h7v4h-7zM558 445h6v4h-6zM558 442h6v3h-6zM551 444h7v3h-7zM544 442h7v4h-7zM531 432h6v4h-6zM524 431h7v3h-7zM511 431h6v3h-6zM504 433h7v3h-7zM504 429h7v4h-7zM491 422h6v4h-6zM484 420h7v4h-7z"/><path fill="#00f" fill-opacity="0.85" d="M645 456h6v4h-6zM638 455h7v3h-7zM604 449h7v3h-7zM598 447h6v4h-6zM591 446h7v3h-7zM578 446h6v4h-6zM571 448h7v4h-7zM571 445h7v3h-7zM564 447h7v3h-7zM564 444h7v3h-7zM544 436h7v3h-7zM537 434h7v3h-7zM524 434h7v4h-7zM517 436h7v3h-7zM517 433h7v3h-7zM511 434h6v4h-6z"/><path fill="#00f" fill-opacity="0.9" d="M651 461h7v2h-7zM645 460h6v3h-6zM631 454h7v3h-7zM624 453h7v3h-7zM618 451h6v4h-6zM611 450h7v3h-7zM598 451h6v3h-6zM591 453h7v3h-7zM591 449h7v4h-7zM584 451h7v4h-7zM584 448h7v3h-7zM578 450h6v3h-6zM564 440h7v4h-7zM558 439h6v3h-6zM551 437h7v4h-7zM537 437h7v4h-7zM531 439h6v4h-6zM531 436h6v3h-6zM524 438h7v3h-7z"/><path fill="#00f" fill-opacity="0.95" d="M618 455h6v3h-6zM611 457h7v3h-7zM611 453h7v4h-7zM604 455h7v4h-7zM604 452h7v3h-7zM598 454h6v3h-6zM578 443h6v3h-6zM571 442h7v3h-7zM551 441h7v3h-7zM544 439h7v3h-7z"/><path fill="#00f" fill-opacity="1" d="M638 458h7v4h-7zM631 457h7v4h-7zM624 456h7v3h-7z"/></g></g><circle cx="403.7" cy="346.8" r="5.9" fill="#fff" stroke="#000" stroke-width="1.5"/><circle cx="443.8" cy="362.8" r="5.9" fill="#fff" stroke="#000" stroke-width="1.5"/><circle cx="470.6" cy="373.7" r="5.9" fill="#fff" stroke="#000" stroke-width="1.5"/><circle cx="510.7" cy="391.3" r="5.9" fill="#fff" stroke="#000" stroke-width="1.5"/><circle cx="550.9" cy="415.0" r="5.9" fill="#fff" stroke="#000" stroke-width="1.5"/><g clip-path="url(#cb2)"><g shape-rendering="crispEdges" filter="url(#bl)"><path fill="#008000" fill-opacity="0.2" d="M618 648h6v1h-6zM611 644h7v1h-7zM604 639h7v2h-7zM564 633h7v2h-7zM558 629h6v2h-6zM537 599h7v2h-7zM531 596h6v1h-6zM524 592h7v1h-7zM484 589h7v1h-7zM477 585h7v2h-7zM471 582h6v1h-6zM451 553h6v2h-6zM444 550h7v2h-7zM404 550h6v2h-6zM397 547h7v2h-7zM390 545h7v1h-7z"/><path fill="#008000" fill-opacity="0.25" d="M591 649h7v2h-7zM584 645h7v2h-7zM578 641h6v2h-6zM571 637h7v2h-7zM558 611h6v1h-6zM551 607h7v2h-7zM544 603h7v2h-7zM511 603h6v1h-6zM504 599h7v2h-7zM497 596h7v1h-7zM491 592h6v2h-6zM477 566h7v2h-7zM471 563h6v2h-6zM464 560h7v1h-7zM457 556h7v2h-7zM430 562h7v2h-7zM424 559h6v2h-6zM417 556h7v2h-7zM410 553h7v2h-7zM410 550h7v3h-7zM397 528h7v2h-7zM390 525h7v3h-7z"/><path fill="#008000" fill-opacity="0.3" d="M618 665h6v1h-6zM611 662h7v1h-7zM604 658h7v1h-7zM598 653h6v2h-6zM584 628h7v4h-7zM584 627h7v1h-7zM578 638h6v3h-6zM578 623h6v1h-6zM571 619h7v1h-7zM564 615h7v1h-7zM537 618h7v1h-7zM531 614h6v1h-6zM524 610h7v2h-7zM517 607h7v1h-7zM504 596h7v3h-7zM504 582h7v4h-7zM504 581h7v1h-7zM497 592h7v4h-7zM497 577h7v2h-7zM491 574h6v1h-6zM484 570h7v2h-7zM457 575h7v2h-7zM451 572h6v1h-6zM444 569h7v1h-7zM437 565h7v2h-7zM430 559h7v3h-7zM430 545h7v4h-7zM424 556h6v3h-6zM424 542h6v4h-6zM424 540h6v2h-6zM417 553h7v3h-7zM417 539h7v4h-7zM417 537h7v2h-7zM410 534h7v2h-7zM404 531h6v2h-6z"/><path fill="#008000" fill-opacity="0.35" d="M651 679h7v1h-7zM651 667h7v2h-7zM645 676h6v1h-6zM645 663h6v3h-6zM638 672h7v3h-7zM638 659h7v3h-7zM631 669h7v3h-7zM631 655h7v4h-7zM624 665h7v4h-7zM624 652h7v3h-7zM618 649h6v3h-6zM611 645h7v3h-7zM604 654h7v4h-7zM604 641h7v3h-7zM598 650h6v3h-6zM598 637h6v3h-6zM598 635h6v2h-6zM591 646h7v3h-7zM591 632h7v4h-7zM591 631h7v1h-7zM584 642h7v3h-7zM551 625h7v2h-7zM544 622h7v1h-7zM531 597h6v3h-6zM524 607h7v3h-7zM524 593h7v4h-7zM517 603h7v4h-7zM517 590h7v3h-7zM517 588h7v2h-7zM511 600h6v3h-6zM511 586h6v3h-6zM511 584h6v2h-6zM464 578h7v2h-7zM457 558h7v4h-7zM451 568h6v4h-6zM451 555h6v3h-6zM444 565h7v4h-7zM444 552h7v3h-7zM437 562h7v3h-7zM437 548h7v4h-7zM437 547h7v1h-7zM430 543h7v2h-7z"/><path fill="#008000" fill-opacity="0.4" d="M618 662h6v3h-6zM611 658h7v4h-7zM558 612h6v4h-6zM551 622h7v3h-7zM551 609h7v3h-7zM544 618h7v4h-7zM544 605h7v3h-7zM537 614h7v4h-7zM537 601h7v3h-7zM531 611h6v3h-6zM477 582h7v3h-7zM477 568h7v4h-7zM471 578h6v4h-6zM471 565h6v3h-6zM464 575h7v3h-7zM464 561h7v4h-7zM457 572h7v3h-7zM404 547h6v3h-6zM404 533h6v4h-6zM397 544h7v3h-7zM397 530h7v4h-7zM390 541h7v4h-7zM390 528h7v3h-7z"/><path fill="#008000" fill-opacity="0.45" d="M578 624h6v4h-6zM571 634h7v3h-7zM571 620h7v4h-7zM564 630h7v3h-7zM564 616h7v4h-7zM558 626h6v3h-6zM497 579h7v3h-7zM491 589h6v3h-6zM491 575h6v4h-6zM484 585h7v4h-7zM484 572h7v3h-7zM410 536h7v4h-7zM397 534h7v3h-7z"/><path fill="#008000" fill-opacity="0.5" d="M437 559h7v3h-7zM410 540h7v3h-7zM404 537h6v3h-6z"/><path fill="#008000" fill-opacity="0.55" d="M651 676h7v3h-7zM651 669h7v4h-7zM645 666h6v3h-6zM484 575h7v3h-7zM477 572h7v3h-7zM457 568h7v4h-7zM451 565h6v3h-6zM444 562h7v3h-7zM430 549h7v3h-7zM424 546h6v3h-6zM417 543h7v3h-7zM404 543h6v4h-6zM397 541h7v3h-7zM390 538h7v3h-7z"/><path fill="#008000" fill-opacity="0.6" d="M645 672h6v4h-6zM638 669h7v3h-7zM564 620h7v3h-7zM531 607h6v4h-6zM524 603h7v4h-7zM517 600h7v3h-7zM504 586h7v3h-7zM497 582h7v4h-7zM491 579h6v3h-6zM471 575h6v3h-6zM464 572h7v3h-7zM444 555h7v3h-7zM437 552h7v3h-7zM417 549h7v4h-7zM410 546h7v4h-7zM390 534h7v4h-7zM390 531h7v3h-7z"/><path fill="#008000" fill-opacity="0.65" d="M631 665h7v4h-7zM624 662h7v3h-7zM618 659h6v3h-6zM611 655h7v3h-7zM604 651h7v3h-7zM598 647h6v3h-6zM584 632h7v3h-7zM578 628h6v3h-6zM571 624h7v3h-7zM551 619h7v3h-7zM544 615h7v3h-7zM537 611h7v3h-7zM517 593h7v3h-7zM511 589h6v4h-6zM491 585h6v4h-6zM484 582h7v3h-7zM477 578h7v4h-7zM464 565h7v3h-7zM457 562h7v3h-7zM451 558h6v4h-6zM430 555h7v4h-7zM424 552h6v4h-6zM404 540h6v3h-6zM397 537h7v4h-7z"/><path fill="#008000" fill-opacity="0.7" d="M604 644h7v3h-7zM598 640h6v3h-6zM591 636h7v3h-7zM571 630h7v4h-7zM564 627h7v3h-7zM558 623h6v3h-6zM537 604h7v4h-7zM531 600h6v4h-6zM524 597h7v3h-7zM511 596h6v4h-6zM504 592h7v4h-7zM497 589h7v3h-7zM471 568h6v4h-6zM464 568h7v4h-7zM457 565h7v3h-7zM417 546h7v3h-7zM410 543h7v3h-7z"/><path fill="#008000" fill-opacity="0.75" d="M638 662h7v4h-7zM631 659h7v3h-7zM624 655h7v4h-7zM618 652h6v3h-6zM611 648h7v4h-7zM584 638h7v4h-7zM578 634h6v4h-6zM558 616h6v3h-6zM551 612h7v3h-7zM544 608h7v3h-7zM484 578h7v4h-7zM477 575h7v3h-7zM471 572h6v3h-6zM437 555h7v4h-7zM430 552h7v3h-7zM424 549h6v3h-6z"/><path fill="#008000" fill-opacity="0.8" d="M591 643h7v3h-7zM544 611h7v4h-7zM537 608h7v3h-7zM497 586h7v3h-7zM491 582h6v3h-6zM451 562h6v3h-6zM444 558h7v4h-7z"/><path fill="#008000" fill-opacity="0.85" d="M564 623h7v4h-7zM558 619h6v4h-6zM551 615h7v4h-7zM511 593h6v3h-6zM504 589h7v3h-7z"/><path fill="#008000" fill-opacity="0.9" d="M631 662h7v3h-7zM624 659h7v3h-7zM578 631h6v3h-6zM571 627h7v3h-7zM524 600h7v3h-7zM517 596h7v4h-7z"/><path fill="#008000" fill-opacity="0.95" d="M645 669h6v3h-6zM638 666h7v3h-7zM591 639h7v4h-7zM584 635h7v3h-7zM531 604h6v3h-6z"/><path fill="#008000" fill-opacity="1" d="M651 673h7v3h-7zM618 655h6v4h-6zM611 652h7v3h-7zM604 647h7v4h-7zM598 643h6v4h-6z"/><path fill="#f00" fill-opacity="0.2" d="M651 677h7v1h-7zM651 665h7v2h-7zM645 673h6v1h-6zM645 660h6v3h-6zM638 668h7v3h-7zM631 664h7v3h-7zM618 660h6v1h-6zM611 655h7v2h-7zM604 651h7v1h-7zM591 622h7v2h-7zM584 618h7v2h-7zM578 613h6v2h-6zM544 610h7v2h-7zM537 606h7v1h-7zM531 602h6v1h-6zM524 598h7v1h-7zM504 567h7v2h-7zM497 564h7v2h-7zM491 560h6v2h-6zM457 561h7v2h-7zM451 558h6v1h-6zM444 554h7v2h-7zM424 525h6v3h-6zM417 522h7v3h-7zM410 519h7v3h-7z"/><path fill="#f00" fill-opacity="0.25" d="M638 655h7v3h-7zM618 642h6v1h-6zM611 637h7v2h-7zM604 632h7v2h-7zM598 627h6v2h-6zM564 623h7v1h-7zM558 619h6v1h-6zM551 614h7v2h-7zM544 607h7v3h-7zM531 583h6v2h-6zM524 579h7v2h-7zM517 575h7v2h-7zM511 571h6v2h-6zM484 575h7v2h-7zM477 572h7v1h-7zM471 568h6v2h-6zM464 565h7v1h-7zM464 561h7v4h-7zM451 539h6v2h-6zM444 535h7v3h-7zM437 532h7v2h-7zM430 529h7v2h-7zM404 535h6v2h-6zM397 532h7v2h-7zM397 529h7v3h-7zM390 529h7v2h-7zM390 526h7v3h-7zM390 512h7v4h-7z"/><path fill="#f00" fill-opacity="0.3" d="M591 641h7v1h-7zM584 636h7v2h-7zM578 632h6v1h-6zM571 627h7v2h-7zM571 624h7v3h-7zM564 620h7v3h-7zM564 606h7v3h-7zM558 615h6v4h-6zM558 602h6v3h-6zM558 600h6v2h-6zM551 611h7v3h-7zM551 597h7v4h-7zM551 596h7v1h-7zM544 591h7v2h-7zM537 587h7v2h-7zM511 590h6v2h-6zM504 586h7v2h-7zM497 583h7v1h-7zM491 579h6v1h-6zM491 576h6v3h-6zM484 572h7v3h-7zM484 558h7v4h-7zM477 568h7v4h-7zM477 555h7v3h-7zM477 552h7v3h-7zM471 565h6v3h-6zM471 551h6v4h-6zM471 549h6v2h-6zM464 545h7v3h-7zM457 542h7v2h-7zM430 548h7v2h-7zM424 545h6v1h-6zM417 542h7v1h-7zM417 538h7v4h-7zM410 538h7v2h-7zM410 535h7v3h-7zM410 522h7v3h-7zM404 532h6v3h-6zM404 518h6v4h-6zM397 515h7v4h-7zM397 513h7v2h-7zM390 510h7v2h-7z"/><path fill="#f00" fill-opacity="0.35" d="M598 646h6v1h-6zM591 638h7v3h-7zM591 624h7v4h-7zM584 633h7v3h-7zM584 620h7v3h-7zM578 628h6v4h-6zM578 615h6v3h-6zM571 611h7v3h-7zM571 609h7v2h-7zM564 604h7v2h-7zM517 594h7v1h-7zM511 587h6v3h-6zM504 583h7v3h-7zM504 569h7v4h-7zM497 579h7v4h-7zM497 566h7v3h-7zM491 562h6v3h-6zM484 556h7v2h-7zM437 551h7v2h-7zM437 548h7v3h-7zM430 545h7v3h-7zM430 531h7v3h-7zM424 541h6v4h-6zM424 528h6v3h-6zM417 525h7v3h-7zM404 516h6v2h-6z"/><path fill="#f00" fill-opacity="0.4" d="M651 674h7v3h-7zM631 651h7v3h-7zM624 660h7v4h-7zM624 647h7v3h-7zM618 656h6v4h-6zM618 643h6v3h-6zM611 652h7v3h-7zM611 639h7v3h-7zM604 647h7v4h-7zM604 634h7v3h-7zM598 642h6v4h-6zM598 629h6v3h-6zM537 603h7v3h-7zM531 599h6v3h-6zM531 585h6v3h-6zM524 595h7v3h-7zM524 581h7v3h-7zM517 591h7v3h-7zM517 577h7v4h-7zM511 573h6v4h-6zM457 558h7v3h-7zM451 554h6v4h-6zM451 541h6v3h-6zM444 551h7v3h-7zM444 538h7v3h-7zM437 534h7v4h-7z"/><path fill="#f00" fill-opacity="0.45" d="M544 593h7v4h-7zM537 589h7v4h-7zM464 548h7v3h-7zM457 544h7v4h-7zM410 532h7v3h-7zM404 529h6v3h-6zM390 516h7v3h-7z"/><path fill="#f00" fill-opacity="0.5" d="M424 538h6v3h-6zM417 535h7v3h-7zM404 522h6v3h-6zM397 519h7v3h-7z"/><path fill="#f00" fill-opacity="0.55" d="M651 667h7v3h-7zM645 663h6v3h-6zM491 572h6v4h-6zM484 568h7v4h-7zM457 548h7v3h-7zM451 544h6v4h-6zM437 544h7v4h-7zM430 541h7v4h-7zM410 525h7v3h-7zM397 525h7v4h-7zM390 522h7v4h-7z"/><path fill="#f00" fill-opacity="0.6" d="M645 669h6v4h-6zM638 658h7v4h-7zM631 654h7v4h-7zM578 625h6v3h-6zM571 621h7v3h-7zM531 588h6v4h-6zM511 583h6v4h-6zM504 580h7v3h-7zM497 576h7v3h-7zM471 555h6v3h-6zM464 551h7v4h-7zM451 551h6v3h-6zM444 548h7v3h-7zM424 531h6v4h-6zM417 528h7v3h-7z"/><path fill="#f00" fill-opacity="0.65" d="M638 665h7v3h-7zM631 661h7v3h-7zM624 650h7v4h-7zM618 646h6v4h-6zM611 642h7v3h-7zM598 639h6v3h-6zM591 634h7v4h-7zM584 630h7v3h-7zM558 605h6v4h-6zM551 601h7v3h-7zM544 597h7v3h-7zM537 593h7v3h-7zM531 595h6v4h-6zM524 591h7v4h-7zM517 587h7v4h-7zM491 565h6v4h-6zM484 562h7v3h-7zM477 558h7v4h-7zM471 561h6v4h-6zM464 558h7v3h-7zM457 554h7v4h-7zM437 538h7v3h-7zM430 538h7v3h-7zM430 534h7v4h-7zM424 535h6v3h-6zM397 522h7v3h-7zM390 519h7v3h-7z"/><path fill="#f00" fill-opacity="0.7" d="M624 657h7v3h-7zM618 653h6v3h-6zM611 649h7v3h-7zM604 644h7v3h-7zM578 618h6v4h-6zM571 614h7v3h-7zM564 609h7v4h-7zM551 608h7v3h-7zM544 603h7v4h-7zM537 599h7v4h-7zM511 577h6v3h-6zM504 573h7v3h-7zM497 569h7v3h-7zM477 565h7v3h-7zM444 541h7v3h-7zM437 541h7v3h-7zM404 525h6v4h-6z"/><path fill="#f00" fill-opacity="0.75" d="M598 632h6v4h-6zM591 628h7v3h-7zM584 623h7v3h-7zM564 616h7v4h-7zM558 612h6v3h-6zM524 584h7v4h-7zM517 581h7v3h-7zM451 548h6v3h-6zM444 544h7v4h-7zM417 531h7v4h-7zM410 528h7v4h-7z"/><path fill="#f00" fill-opacity="0.8" d="M604 637h7v3h-7zM511 580h6v3h-6zM464 555h7v3h-7zM457 551h7v3h-7z"/><path fill="#f00" fill-opacity="0.85" d="M524 588h7v3h-7zM517 584h7v3h-7zM477 562h7v3h-7zM471 558h6v3h-6z"/><path fill="#f00" fill-opacity="0.9" d="M604 640h7v4h-7zM598 636h6v3h-6zM591 631h7v3h-7zM544 600h7v3h-7zM537 596h7v3h-7zM531 592h6v3h-6zM491 569h6v3h-6zM484 565h7v3h-7z"/><path fill="#f00" fill-opacity="0.95" d="M624 654h7v3h-7zM618 650h6v3h-6zM611 645h7v4h-7zM564 613h7v3h-7zM558 609h6v3h-6zM551 604h7v4h-7zM504 576h7v4h-7zM497 572h7v4h-7z"/><path fill="#f00" fill-opacity="1" d="M651 670h7v4h-7zM645 666h6v3h-6zM638 662h7v3h-7zM631 658h7v3h-7zM584 626h7v4h-7zM578 622h6v3h-6zM571 617h7v4h-7z"/><path fill="#00f" fill-opacity="0.15" d="M624 666h7v1h-7z"/><path fill="#00f" fill-opacity="0.2" d="M598 678h6v2h-6zM591 677h7v1h-7zM584 675h7v2h-7zM578 674h6v2h-6zM558 651h6v2h-6zM551 649h7v2h-7zM544 648h7v2h-7zM497 655h7v3h-7zM491 653h6v3h-6zM424 611h6v2h-6zM417 609h7v1h-7zM410 632h7v1h-7zM410 607h7v1h-7zM404 629h6v2h-6zM404 604h6v2h-6zM397 627h7v1h-7zM390 624h7v2h-7z"/><path fill="#00f" fill-opacity="0.25" d="M651 674h7v1h-7zM645 672h6v2h-6zM604 680h7v1h-7zM584 656h7v3h-7zM578 655h6v2h-6zM571 654h7v2h-7zM564 652h7v2h-7zM531 664h6v2h-6zM524 662h7v2h-7zM517 660h7v3h-7zM511 659h6v2h-6zM504 657h7v3h-7zM497 635h7v3h-7zM491 633h6v3h-6zM484 631h7v4h-7zM477 629h7v4h-7zM471 627h6v4h-6zM464 625h7v4h-7zM444 618h7v1h-7zM437 637h7v4h-7zM437 616h7v1h-7zM430 635h7v3h-7zM430 614h7v1h-7zM424 636h6v1h-6zM424 633h6v3h-6zM417 634h7v1h-7zM417 631h7v3h-7zM410 628h7v4h-7zM397 603h7v3h-7zM390 601h7v3h-7z"/><path fill="#00f" fill-opacity="0.3" d="M638 670h7v3h-7zM611 662h7v2h-7zM604 661h7v2h-7zM598 659h6v2h-6zM591 658h7v2h-7zM564 671h7v2h-7zM558 670h6v2h-6zM551 668h7v2h-7zM544 667h7v2h-7zM537 665h7v2h-7zM531 644h6v3h-6zM524 643h7v2h-7zM517 641h7v2h-7zM511 639h6v3h-6zM504 637h7v3h-7zM464 646h7v3h-7zM457 644h7v3h-7zM451 642h6v3h-6zM444 639h7v4h-7zM424 613h6v3h-6zM417 610h7v4h-7zM410 608h7v3h-7zM404 606h6v3h-6zM390 599h7v2h-7z"/><path fill="#00f" fill-opacity="0.35" d="M631 668h7v3h-7zM624 680h7v1h-7zM618 664h6v1h-6zM571 673h7v2h-7zM537 646h7v2h-7zM484 651h7v4h-7zM477 650h7v3h-7zM471 648h6v3h-6zM451 621h6v4h-6zM444 619h7v4h-7zM437 617h7v3h-7zM430 615h7v3h-7zM397 623h7v4h-7zM397 602h7v1h-7zM390 621h7v3h-7z"/><path fill="#00f" fill-opacity="0.4" d="M624 667h7v3h-7zM618 679h6v2h-6zM598 675h6v3h-6zM457 623h7v4h-7zM430 632h7v3h-7zM404 626h6v3h-6z"/><path fill="#00f" fill-opacity="0.45" d="M611 678h7v3h-7zM604 676h7v4h-7zM524 645h7v3h-7zM451 638h6v4h-6zM451 625h6v3h-6zM444 636h7v3h-7zM444 623h7v3h-7zM437 634h7v3h-7zM437 620h7v4h-7zM397 613h7v4h-7zM397 606h7v4h-7zM390 617h7v4h-7zM390 604h7v3h-7z"/><path fill="#00f" fill-opacity="0.5" d="M618 665h6v4h-6zM611 664h7v3h-7zM604 663h7v3h-7zM544 650h7v3h-7zM537 662h7v3h-7zM537 648h7v4h-7zM531 660h6v4h-6zM531 647h6v3h-6zM524 659h7v3h-7zM517 657h7v3h-7zM471 644h6v4h-6zM471 631h6v3h-6zM464 642h7v4h-7zM464 629h7v3h-7zM457 640h7v4h-7zM457 627h7v3h-7zM424 619h6v4h-6zM417 617h7v3h-7zM410 625h7v3h-7zM410 618h7v3h-7zM410 611h7v4h-7zM404 622h6v4h-6zM404 616h6v3h-6zM404 609h6v3h-6zM397 620h7v3h-7zM397 617h7v3h-7zM390 614h7v3h-7z"/><path fill="#00f" fill-opacity="0.55" d="M584 672h7v3h-7zM578 671h6v3h-6zM571 669h7v4h-7zM571 656h7v3h-7zM564 668h7v3h-7zM564 654h7v4h-7zM558 666h6v4h-6zM558 653h6v3h-6zM551 665h7v3h-7zM551 651h7v4h-7zM544 663h7v4h-7zM491 636h6v4h-6zM484 648h7v3h-7zM484 635h7v3h-7zM477 646h7v4h-7zM477 633h7v3h-7zM437 624h7v3h-7zM430 622h7v3h-7zM430 618h7v4h-7zM424 629h6v4h-6zM424 623h6v3h-6zM424 616h6v3h-6zM417 627h7v4h-7zM417 620h7v4h-7zM417 614h7v3h-7zM410 621h7v4h-7zM404 619h6v3h-6zM390 607h7v4h-7z"/><path fill="#00f" fill-opacity="0.6" d="M591 674h7v3h-7zM591 660h7v3h-7zM584 659h7v3h-7zM578 657h6v4h-6zM517 643h7v4h-7zM511 642h6v3h-6zM504 653h7v4h-7zM504 640h7v3h-7zM497 652h7v3h-7zM497 638h7v4h-7zM491 650h6v3h-6zM464 639h7v3h-7zM457 637h7v3h-7zM451 628h6v3h-6zM444 626h7v3h-7zM430 625h7v3h-7zM424 626h6v3h-6zM417 624h7v3h-7zM404 612h6v4h-6zM397 610h7v3h-7zM390 611h7v3h-7z"/><path fill="#00f" fill-opacity="0.65" d="M598 661h6v4h-6zM511 655h6v4h-6zM477 643h7v3h-7zM477 639h7v4h-7zM471 641h6v3h-6zM457 630h7v3h-7zM444 629h7v4h-7zM437 631h7v3h-7zM437 627h7v4h-7zM430 628h7v4h-7zM410 615h7v3h-7z"/><path fill="#00f" fill-opacity="0.7" d="M504 643h7v4h-7zM497 642h7v3h-7zM491 643h6v3h-6zM484 645h7v3h-7zM484 641h7v4h-7zM471 634h6v3h-6zM464 632h7v3h-7zM457 633h7v4h-7zM451 635h6v3h-6zM451 631h6v4h-6zM444 633h7v3h-7z"/><path fill="#00f" fill-opacity="0.75" d="M651 675h7v3h-7zM638 679h7v2h-7zM631 678h7v3h-7zM537 658h7v4h-7zM517 647h7v3h-7zM511 645h6v3h-6zM497 648h7v4h-7zM497 645h7v3h-7zM491 646h6v4h-6zM477 636h7v3h-7zM471 637h6v4h-6zM464 635h7v4h-7z"/><path fill="#00f" fill-opacity="0.8" d="M624 677h7v3h-7zM618 675h6v4h-6zM584 662h7v3h-7zM558 663h6v3h-6zM558 660h6v3h-6zM551 661h7v4h-7zM544 660h7v3h-7zM531 650h6v3h-6zM524 648h7v4h-7zM511 648h6v4h-6zM504 650h7v3h-7zM504 647h7v3h-7zM491 640h6v3h-6zM484 638h7v3h-7z"/><path fill="#00f" fill-opacity="0.85" d="M645 674h6v3h-6zM638 673h7v3h-7zM604 666h7v3h-7zM598 665h6v3h-6zM591 663h7v4h-7zM578 664h6v3h-6zM571 666h7v3h-7zM571 663h7v3h-7zM564 664h7v4h-7zM564 661h7v3h-7zM544 653h7v4h-7zM537 652h7v3h-7zM524 652h7v3h-7zM517 653h7v4h-7zM517 650h7v3h-7zM511 652h6v3h-6z"/><path fill="#00f" fill-opacity="0.9" d="M651 678h7v3h-7zM645 677h6v4h-6zM631 671h7v4h-7zM624 670h7v3h-7zM618 669h6v3h-6zM611 667h7v4h-7zM598 668h6v3h-6zM591 670h7v4h-7zM591 667h7v3h-7zM584 669h7v3h-7zM584 665h7v4h-7zM578 667h6v4h-6zM564 658h7v3h-7zM558 656h6v4h-6zM551 655h7v3h-7zM537 655h7v3h-7zM531 657h6v3h-6zM531 653h6v4h-6zM524 655h7v4h-7z"/><path fill="#00f" fill-opacity="0.95" d="M618 672h6v3h-6zM611 674h7v4h-7zM611 671h7v3h-7zM604 673h7v3h-7zM604 669h7v4h-7zM598 671h6v4h-6zM578 661h6v3h-6zM571 659h7v4h-7zM551 658h7v3h-7zM544 657h7v3h-7z"/><path fill="#00f" fill-opacity="1" d="M638 676h7v3h-7zM631 675h7v3h-7zM624 673h7v4h-7z"/></g></g><circle cx="403.7" cy="553.7" r="5.9" fill="#fff" stroke="#000" stroke-width="1.5"/><circle cx="443.8" cy="573.8" r="5.9" fill="#fff" stroke="#000" stroke-width="1.5"/><circle cx="470.6" cy="586.3" r="5.9" fill="#fff" stroke="#000" stroke-width="1.5"/><circle cx="510.7" cy="602.7" r="5.9" fill="#fff" stroke="#000" stroke-width="1.5"/><circle cx="550.9" cy="622.8" r="5.9" fill="#fff" stroke="#000" stroke-width="1.5"/><circle cx="577.6" cy="635.6" r="5.9" fill="#fff" stroke="#000" stroke-width="1.5"/><rect x="52.7" y="29.0" width="268.1" height="217.1" fill="none" stroke="#000" stroke-width="1.6"/><text x="47.2" y="252.3" font-size="17.7" text-anchor="end">0</text><text x="47.2" y="173.4" font-size="17.7" text-anchor="end">1</text><text x="47.2" y="94.4" font-size="17.7" text-anchor="end">2</text><path d="M320.8 246.1v-5.5M320.8 29.0v5.5M282.5 246.1v-3.5M282.5 29.0v3.5M244.2 246.1v-5.5M244.2 29.0v5.5M205.9 246.1v-3.5M205.9 29.0v3.5M167.6 246.1v-5.5M167.6 29.0v5.5M129.3 246.1v-3.5M129.3 29.0v3.5M91.0 246.1v-5.5M91.0 29.0v5.5M52.7 246.1v-3.5M52.7 29.0v3.5M52.7 246.1h5.5M320.8 246.1h-5.5M52.7 206.6h3.5M320.8 206.6h-3.5M52.7 167.2h5.5M320.8 167.2h-5.5M52.7 127.7h3.5M320.8 127.7h-3.5M52.7 88.2h5.5M320.8 88.2h-5.5M52.7 48.7h3.5M320.8 48.7h-3.5" stroke="#000" stroke-width="1.3" fill="none"/><text transform="translate(27.7,137.1) rotate(-90)" font-size="18.0" text-anchor="middle">Frequency (THz)</text><rect x="52.7" y="246.2" width="268.1" height="217.1" fill="none" stroke="#000" stroke-width="1.6"/><text x="47.2" y="469.5" font-size="17.7" text-anchor="end">0</text><text x="47.2" y="390.6" font-size="17.7" text-anchor="end">1</text><text x="47.2" y="311.6" font-size="17.7" text-anchor="end">2</text><path d="M320.8 463.29999999999995v-5.5M320.8 246.2v5.5M282.5 463.29999999999995v-3.5M282.5 246.2v3.5M244.2 463.29999999999995v-5.5M244.2 246.2v5.5M205.9 463.29999999999995v-3.5M205.9 246.2v3.5M167.6 463.29999999999995v-5.5M167.6 246.2v5.5M129.3 463.29999999999995v-3.5M129.3 246.2v3.5M91.0 463.29999999999995v-5.5M91.0 246.2v5.5M52.7 463.29999999999995v-3.5M52.7 246.2v3.5M52.7 463.3h5.5M320.8 463.3h-5.5M52.7 423.8h3.5M320.8 423.8h-3.5M52.7 384.4h5.5M320.8 384.4h-5.5M52.7 344.9h3.5M320.8 344.9h-3.5M52.7 305.4h5.5M320.8 305.4h-5.5M52.7 265.9h3.5M320.8 265.9h-3.5" stroke="#000" stroke-width="1.3" fill="none"/><text transform="translate(27.7,354.2) rotate(-90)" font-size="18.0" text-anchor="middle">Frequency (THz)</text><rect x="52.7" y="463.7" width="268.1" height="217.1" fill="none" stroke="#000" stroke-width="1.6"/><text x="47.2" y="687.0" font-size="17.7" text-anchor="end">0</text><text x="47.2" y="608.1" font-size="17.7" text-anchor="end">1</text><text x="47.2" y="529.1" font-size="17.7" text-anchor="end">2</text><path d="M320.8 680.8v-5.5M320.8 463.7v5.5M282.5 680.8v-3.5M282.5 463.7v3.5M244.2 680.8v-5.5M244.2 463.7v5.5M205.9 680.8v-3.5M205.9 463.7v3.5M167.6 680.8v-5.5M167.6 463.7v5.5M129.3 680.8v-3.5M129.3 463.7v3.5M91.0 680.8v-5.5M91.0 463.7v5.5M52.7 680.8v-3.5M52.7 463.7v3.5M52.7 680.8h5.5M320.8 680.8h-5.5M52.7 641.3h3.5M320.8 641.3h-3.5M52.7 601.9h5.5M320.8 601.9h-5.5M52.7 562.4h3.5M320.8 562.4h-3.5M52.7 522.9h5.5M320.8 522.9h-5.5M52.7 483.4h3.5M320.8 483.4h-3.5" stroke="#000" stroke-width="1.3" fill="none"/><text transform="translate(27.7,571.8) rotate(-90)" font-size="18.0" text-anchor="middle">Frequency (THz)</text><text x="320.8" y="699.0" font-size="17.7" text-anchor="middle">0.0</text><text x="244.2" y="699.0" font-size="17.7" text-anchor="middle">0.1</text><text x="167.6" y="699.0" font-size="17.7" text-anchor="middle">0.2</text><text x="91.0" y="699.0" font-size="17.7" text-anchor="middle">0.3</text><rect x="390.3" y="29.0" width="267.6" height="217.1" fill="none" stroke="#000" stroke-width="1.6"/><text x="384.8" y="252.3" font-size="17.7" text-anchor="end">0</text><text x="384.8" y="155.8" font-size="17.7" text-anchor="end">1</text><text x="384.8" y="59.3" font-size="17.7" text-anchor="end">2</text><path d="M657.9 246.1v-5.5M657.9 29.0v5.5M591.0 246.1v-3.5M591.0 29.0v3.5M524.1 246.1v-5.5M524.1 29.0v5.5M457.2 246.1v-3.5M457.2 29.0v3.5M390.3 246.1v-5.5M390.3 29.0v5.5M390.3 246.1h5.5M657.9 246.1h-5.5M390.3 197.9h3.5M657.9 197.9h-3.5M390.3 149.6h5.5M657.9 149.6h-5.5M390.3 101.4h3.5M657.9 101.4h-3.5M390.3 53.1h5.5M657.9 53.1h-5.5" stroke="#000" stroke-width="1.3" fill="none"/><text transform="translate(365.3,137.1) rotate(-90)" font-size="18.0" text-anchor="middle">Frequency (THz)</text><rect x="390.3" y="246.2" width="267.6" height="217.1" fill="none" stroke="#000" stroke-width="1.6"/><text x="384.8" y="469.5" font-size="17.7" text-anchor="end">0</text><text x="384.8" y="373.0" font-size="17.7" text-anchor="end">1</text><text x="384.8" y="276.5" font-size="17.7" text-anchor="end">2</text><path d="M657.9 463.29999999999995v-5.5M657.9 246.2v5.5M591.0 463.29999999999995v-3.5M591.0 246.2v3.5M524.1 463.29999999999995v-5.5M524.1 246.2v5.5M457.2 463.29999999999995v-3.5M457.2 246.2v3.5M390.3 463.29999999999995v-5.5M390.3 246.2v5.5M390.3 463.3h5.5M657.9 463.3h-5.5M390.3 415.1h3.5M657.9 415.1h-3.5M390.3 366.8h5.5M657.9 366.8h-5.5M390.3 318.6h3.5M657.9 318.6h-3.5M390.3 270.3h5.5M657.9 270.3h-5.5" stroke="#000" stroke-width="1.3" fill="none"/><text transform="translate(365.3,354.2) rotate(-90)" font-size="18.0" text-anchor="middle">Frequency (THz)</text><rect x="390.3" y="463.7" width="267.6" height="217.1" fill="none" stroke="#000" stroke-width="1.6"/><text x="384.8" y="687.0" font-size="17.7" text-anchor="end">0</text><text x="384.8" y="590.5" font-size="17.7" text-anchor="end">1</text><text x="384.8" y="494.0" font-size="17.7" text-anchor="end">2</text><path d="M657.9 680.8v-5.5M657.9 463.7v5.5M591.0 680.8v-3.5M591.0 463.7v3.5M524.1 680.8v-5.5M524.1 463.7v5.5M457.2 680.8v-3.5M457.2 463.7v3.5M390.3 680.8v-5.5M390.3 463.7v5.5M390.3 680.8h5.5M657.9 680.8h-5.5M390.3 632.6h3.5M657.9 632.6h-3.5M390.3 584.3h5.5M657.9 584.3h-5.5M390.3 536.1h3.5M657.9 536.1h-3.5M390.3 487.8h5.5M657.9 487.8h-5.5" stroke="#000" stroke-width="1.3" fill="none"/><text transform="translate(365.3,571.8) rotate(-90)" font-size="18.0" text-anchor="middle">Frequency (THz)</text><text x="657.9" y="699.0" font-size="17.7" text-anchor="middle">0.0</text><text x="524.1" y="699.0" font-size="17.7" text-anchor="middle">0.1</text><text x="390.3" y="699.0" font-size="17.7" text-anchor="middle">0.2</text><rect x="160.8" y="36.5" width="155" height="53" fill="#fff" stroke="#000" stroke-width="1.5"/><text x="166.5" y="57.1" font-size="17.7"><tspan font-style="italic">T</tspan> = 400 K <tspan dx="3.5">≈</tspan><tspan dx="2.5">0.7</tspan><tspan font-style="italic">T</tspan><tspan font-style="italic" font-size="13.5" dx="1.5" dy="5.3">C</tspan></text><text x="166.5" y="79.1" font-size="17.7"><tspan font-style="italic">α</tspan>(<tspan font-style="italic">T</tspan>) = 0.83</text><rect x="160.8" y="253.7" width="155" height="53" fill="#fff" stroke="#000" stroke-width="1.5"/><text x="166.5" y="274.3" font-size="17.7"><tspan font-style="italic">T</tspan> = 500 K <tspan dx="3.5">≈</tspan><tspan dx="2.5">0.9</tspan><tspan font-style="italic">T</tspan><tspan font-style="italic" font-size="13.5" dx="1.5" dy="5.3">C</tspan></text><text x="166.5" y="296.3" font-size="17.7"><tspan font-style="italic">α</tspan>(<tspan font-style="italic">T</tspan>) = 0.69</text><rect x="160.8" y="471.2" width="155" height="53" fill="#fff" stroke="#000" stroke-width="1.5"/><text x="166.5" y="491.8" font-size="17.7"><tspan font-style="italic">T</tspan> = 676 K <tspan dx="3.5">≈</tspan><tspan dx="2.5">1.2</tspan><tspan font-style="italic">T</tspan><tspan font-style="italic" font-size="13.5" dx="1.5" dy="5.3">C</tspan></text><text x="166.5" y="513.8" font-size="17.7"><tspan font-style="italic">α</tspan>(<tspan font-style="italic">T</tspan>) = 0.39</text><rect x="497.9" y="36.5" width="155" height="53" fill="#fff" stroke="#000" stroke-width="1.5"/><text x="503.6" y="57.1" font-size="17.7"><tspan font-style="italic">T</tspan> = 293 K <tspan dx="3.5">≈</tspan><tspan dx="2.5">0.8</tspan><tspan font-style="italic">T</tspan><tspan font-style="italic" font-size="13.5" dx="1.5" dy="5.3">C</tspan></text><text x="503.6" y="79.1" font-size="17.7"><tspan font-style="italic">α</tspan>(<tspan font-style="italic">T</tspan>) = 0.76</text><rect x="497.9" y="253.7" width="155" height="53" fill="#fff" stroke="#000" stroke-width="1.5"/><text x="503.6" y="274.3" font-size="17.7"><tspan font-style="italic">T</tspan> = 373 K <tspan dx="3.5">≈</tspan><tspan dx="2.5">1.0</tspan><tspan font-style="italic">T</tspan><tspan font-style="italic" font-size="13.5" dx="1.5" dy="5.3">C</tspan></text><text x="503.6" y="296.3" font-size="17.7"><tspan font-style="italic">α</tspan>(<tspan font-style="italic">T</tspan>) = 0.53</text><rect x="497.9" y="471.2" width="155" height="53" fill="#fff" stroke="#000" stroke-width="1.5"/><text x="503.6" y="491.8" font-size="17.7"><tspan font-style="italic">T</tspan> = 633 K <tspan dx="3.5">≈</tspan><tspan dx="2.5">1.7</tspan><tspan font-style="italic">T</tspan><tspan font-style="italic" font-size="13.5" dx="1.5" dy="5.3">C</tspan></text><text x="503.6" y="513.8" font-size="17.7"><tspan font-style="italic">α</tspan>(<tspan font-style="italic">T</tspan>) = 0.22</text><text y="17.2" font-size="23.5"><tspan x="9.9">(</tspan><tspan x="17.9">a</tspan><tspan x="33.7">)</tspan></text><text y="17.2" font-size="23.5"><tspan x="346.9">(</tspan><tspan x="355.6">b</tspan><tspan x="371.0">)</tspan></text><text x="75.0" y="725.8" font-size="17.7">Reduced wave vector: </text><path d="M263.1 708.8L257.5 719.4L263.1 730.0M291.6 708.8L297.0 719.4L291.6 730.0" fill="none" stroke="#000" stroke-width="0.9"/><text x="264.7" y="725.8" font-size="17.7"><tspan font-style="italic">ξξ</tspan>0</text><text x="412.0" y="725.8" font-size="17.7">Reduced wave vector: </text><path d="M600.1 708.8L594.5 719.4L600.1 730.0M628.6 708.8L634.0 719.4L628.6 730.0" fill="none" stroke="#000" stroke-width="0.9"/><text x="601.7" y="725.8" font-size="17.7"><tspan font-style="italic">ξξ</tspan>0</text><rect x="0.9" y="750.9" width="682.6" height="29.4" rx="3.5" fill="#fff" stroke="#c8c8c8" stroke-width="1.4"/><circle cx="25.55" cy="765.9" r="5.9" fill="#fff" stroke="#000" stroke-width="1.5"/><text x="51.5" y="770.8" font-size="17.7">Exp.</text><rect x="105" y="757.3" width="37.3" height="13.9" fill="#00f"/><text x="149.8" y="770.8" font-size="17.7">Calc. in the ideal FM</text><rect x="329.3" y="757.3" width="37" height="13.9" fill="#f00"/><text x="374.4" y="770.8" font-size="17.7">Calc. in the ideal PM</text><rect x="554.8" y="757.3" width="37" height="13.9" fill="#008000"/><text x="599.6" y="770.8" font-size="17.7">Calc. at <tspan font-style="italic" dx="1">T</tspan></text></svg></body></html>
